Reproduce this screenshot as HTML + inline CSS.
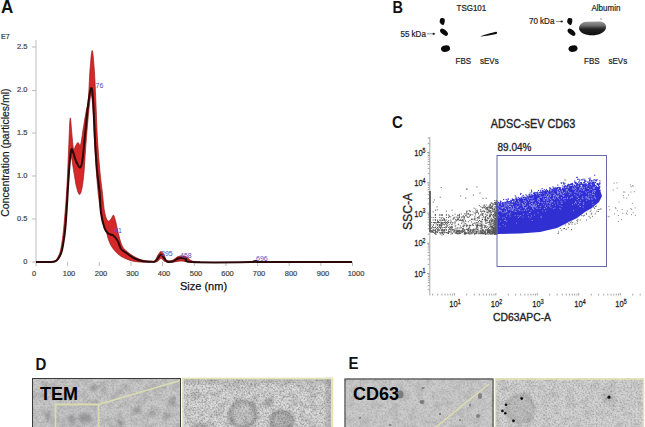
<!DOCTYPE html>
<html><head><meta charset="utf-8">
<style>
html,body{margin:0;padding:0;background:#fff;}
body{width:645px;height:427px;overflow:hidden;position:relative;font-family:"Liberation Sans",sans-serif;}
svg{position:absolute;left:0;top:0;}
text{font-family:"Liberation Sans",sans-serif;}
</style></head><body>
<svg width="645" height="427" viewBox="0 0 645 427">
<defs>
  <filter id="noise" x="0" y="0" width="100%" height="100%">
    <feTurbulence type="fractalNoise" baseFrequency="0.9" numOctaves="2" seed="3" result="n"/>
    <feColorMatrix type="matrix" values="0 0 0 0 0  0 0 0 0 0  0 0 0 0 0  0 0 0 -1.2 0.75" />
  </filter>
  <filter id="mottle" x="0" y="0" width="100%" height="100%">
    <feTurbulence type="fractalNoise" baseFrequency="0.12" numOctaves="3" seed="9"/>
    <feColorMatrix type="matrix" values="0 0 0 0 0  0 0 0 0 0  0 0 0 0 0  0 0 0 -1.5 0.9" />
  </filter>
  <filter id="blur1" x="-50%" y="-50%" width="200%" height="200%"><feGaussianBlur stdDeviation="1.5"/></filter>
  <filter id="blur05" x="-20%" y="-20%" width="140%" height="140%"><feGaussianBlur stdDeviation="0.5"/></filter>
  <filter id="speck" x="0" y="0" width="100%" height="100%">
    <feTurbulence type="fractalNoise" baseFrequency="0.55" numOctaves="2" seed="21"/>
    <feColorMatrix type="matrix" values="0 0 0 0 0.2  0 0 0 0 0.2  0 0 0 0 0.2  2.6 0 0 0 -1.05" />
  </filter>
</defs>
<!-- Panel A -->
<text transform="translate(1,12.9) scale(1.03,1.08)" font-size="16.5" font-weight="bold" fill="#111">A</text>
<text x="1" y="39" font-size="7" fill="#333" stroke="#333" stroke-width="0.2">E7</text>
<line x1="36" y1="40" x2="36" y2="262" stroke="#c8c8c8" stroke-width="1.2"/>
<g stroke="#bbb" stroke-width="1">
<line x1="32" y1="47" x2="36" y2="47"/><line x1="32" y1="90.5" x2="36" y2="90.5"/><line x1="32" y1="133" x2="36" y2="133"/><line x1="32" y1="176" x2="36" y2="176"/><line x1="32" y1="219" x2="36" y2="219"/><line x1="32" y1="262" x2="36" y2="262"/>
</g>
<g font-size="7.5" fill="#444" stroke="#444" stroke-width="0.2" text-anchor="end">
<text x="27.5" y="49">2.5</text><text x="27.5" y="92.3">2.0</text><text x="27.5" y="134.8">1.5</text><text x="27.5" y="178">1.0</text><text x="27.5" y="220.8">0.5</text><text x="27.5" y="264">0</text>
</g>
<text transform="translate(8.8,216.8) rotate(-90)" font-size="10.5" fill="#1a1a1a" stroke="#1a1a1a" stroke-width="0.2">Concentration (particles/ml)</text>
<g stroke="#bbb" stroke-width="1">
<line x1="36" y1="262" x2="36" y2="266"/><line x1="67.7" y1="262" x2="67.7" y2="266"/><line x1="99.3" y1="262" x2="99.3" y2="266"/><line x1="131" y1="262" x2="131" y2="266"/><line x1="162.6" y1="262" x2="162.6" y2="266"/><line x1="194.3" y1="262" x2="194.3" y2="266"/><line x1="225.9" y1="262" x2="225.9" y2="266"/><line x1="257.6" y1="262" x2="257.6" y2="266"/><line x1="289.2" y1="262" x2="289.2" y2="266"/><line x1="320.9" y1="262" x2="320.9" y2="266"/><line x1="352.5" y1="262" x2="352.5" y2="266"/>
</g>
<g font-size="7.5" fill="#444" stroke="#444" stroke-width="0.2" text-anchor="middle">
<text x="34" y="276">0</text><text x="69" y="276">100</text><text x="101" y="276">200</text><text x="132.5" y="276">300</text><text x="164" y="276">400</text><text x="196" y="276">500</text><text x="227.5" y="276">600</text><text x="259" y="276">700</text><text x="291" y="276">800</text><text x="323" y="276">900</text><text x="356" y="276">1000</text>
</g>
<text x="180" y="290" font-size="11" fill="#111" stroke="#111" stroke-width="0.25">Size (nm)</text>
<path d="M50.0,262.0 C50.8,261.8 53.7,261.8 55.0,261.0 C56.3,260.2 57.0,259.2 58.0,257.0 C59.0,254.8 60.0,253.3 61.0,248.0 C62.0,242.7 63.0,235.5 64.0,225.0 C65.0,214.5 66.2,199.2 67.0,185.0 C67.8,170.8 68.5,151.2 69.0,140.0 C69.5,128.8 69.8,119.3 70.2,118.0 C70.7,116.7 71.2,126.8 71.7,132.0 C72.2,137.2 72.9,146.7 73.5,149.0 C74.1,151.3 74.8,147.1 75.5,146.0 C76.2,144.9 77.2,142.7 78.0,142.5 C78.8,142.3 79.7,147.1 80.5,145.0 C81.3,142.9 82.1,135.5 83.0,130.0 C83.9,124.5 85.1,117.0 86.0,112.0 C86.9,107.0 87.6,107.0 88.3,100.0 C89.0,93.0 89.3,78.2 90.0,70.0 C90.7,61.8 91.5,50.5 92.2,50.5 C92.9,50.5 93.7,61.8 94.3,70.0 C94.9,78.2 95.3,88.3 95.8,100.0 C96.3,111.7 96.8,128.0 97.5,140.0 C98.2,152.0 99.2,163.3 100.0,172.0 C100.8,180.7 101.5,185.2 102.3,192.0 C103.1,198.8 103.8,208.2 104.8,213.0 C105.8,217.8 107.0,220.0 108.0,221.0 C109.0,222.0 110.1,220.0 111.0,219.0 C111.9,218.0 112.7,214.7 113.5,215.2 C114.3,215.7 115.0,218.9 115.8,222.0 C116.6,225.1 117.5,230.1 118.5,234.0 C119.5,237.9 120.6,242.6 122.0,245.5 C123.4,248.4 125.0,249.7 127.0,251.5 C129.0,253.3 131.5,255.1 134.0,256.5 C136.5,257.9 139.3,259.2 142.0,260.0 C144.7,260.8 147.8,261.1 150.0,261.2 C152.2,261.3 153.7,261.5 155.0,260.5 C156.3,259.5 157.0,256.5 158.0,255.0 C159.0,253.5 160.0,251.5 161.0,251.5 C162.0,251.5 163.0,253.5 164.0,255.0 C165.0,256.5 165.5,259.7 167.0,260.5 C168.5,261.3 171.3,260.6 173.0,260.0 C174.7,259.4 175.7,257.7 177.0,257.0 C178.3,256.3 179.5,256.1 181.0,256.0 C182.5,255.9 184.2,255.7 186.0,256.5 C187.8,257.3 189.7,260.1 192.0,261.0 C194.3,261.9 198.7,261.8 200.0,262.0 L200.0,262.0 C198.7,262.0 194.3,262.1 192.0,262.0 C189.7,261.9 187.8,261.7 186.0,261.5 C184.2,261.3 182.5,261.0 181.0,261.0 C179.5,261.0 178.3,261.3 177.0,261.5 C175.7,261.7 174.7,261.9 173.0,262.0 C171.3,262.1 168.5,262.2 167.0,262.0 C165.5,261.8 165.0,261.6 164.0,261.0 C163.0,260.4 162.0,258.5 161.0,258.5 C160.0,258.5 159.0,260.4 158.0,261.0 C157.0,261.6 158.2,261.8 155.0,262.0 C151.8,262.2 143.3,262.3 139.0,262.0 C134.7,261.7 132.1,261.1 128.9,260.0 C125.7,258.9 122.7,257.6 120.0,255.6 C117.3,253.7 114.7,251.0 112.8,248.3 C110.9,245.6 109.6,242.9 108.4,239.5 C107.2,236.1 106.6,231.6 105.5,228.0 C104.4,224.4 103.1,222.7 102.0,218.0 C100.9,213.3 99.8,206.3 99.0,200.0 C98.2,193.7 97.7,188.3 97.0,180.0 C96.3,171.7 95.7,161.7 95.0,150.0 C94.3,138.3 93.6,119.2 93.0,110.0 C92.4,100.8 91.9,96.0 91.3,95.0 C90.7,94.0 90.1,99.0 89.5,104.0 C88.9,109.0 88.2,117.3 87.5,125.0 C86.8,132.7 86.1,142.2 85.5,150.0 C84.9,157.8 84.6,165.7 84.0,172.0 C83.4,178.3 82.8,184.2 82.0,188.0 C81.2,191.8 80.4,194.7 79.5,194.5 C78.6,194.3 77.4,190.6 76.5,187.0 C75.6,183.4 74.8,177.5 74.0,173.0 C73.2,168.5 72.6,163.0 72.0,160.0 C71.4,157.0 70.8,155.0 70.5,155.0 C70.2,155.0 70.4,154.5 70.0,160.0 C69.6,165.5 68.7,178.0 68.0,188.0 C67.3,198.0 66.8,210.7 66.0,220.0 C65.2,229.3 64.0,238.0 63.0,244.0 C62.0,250.0 61.2,253.1 60.0,256.0 C58.8,258.9 57.7,260.5 56.0,261.5 C54.3,262.5 51.0,261.9 50.0,262.0 Z" fill="#d62828" stroke="#9a1818" stroke-width="0.7"/>
<path d="M36.0,262.0 C38.3,262.0 46.9,262.1 50.0,262.0 C53.1,261.9 53.2,262.0 54.5,261.5 C55.8,261.0 56.8,260.6 58.0,259.0 C59.2,257.4 60.6,254.8 61.5,252.0 C62.4,249.2 62.9,245.8 63.5,242.0 C64.1,238.2 64.6,235.7 65.2,229.5 C65.8,223.3 66.5,212.1 67.0,205.0 C67.5,197.9 67.5,194.7 68.0,187.0 C68.5,179.3 69.4,165.2 70.0,159.0 C70.6,152.8 71.0,150.7 71.5,149.5 C72.0,148.3 72.2,150.1 73.0,152.0 C73.8,153.9 74.8,158.4 76.0,161.0 C77.2,163.6 78.9,167.7 80.0,167.5 C81.1,167.3 81.7,165.4 82.5,160.0 C83.3,154.6 84.0,144.3 85.0,135.0 C86.0,125.7 87.2,111.8 88.2,104.0 C89.2,96.2 90.5,88.3 91.3,88.0 C92.1,87.7 92.6,93.3 93.2,102.0 C93.8,110.7 94.4,128.7 95.0,140.0 C95.6,151.3 96.2,161.3 97.0,170.0 C97.8,178.7 98.9,184.8 99.6,192.0 C100.3,199.2 100.2,207.0 101.0,213.0 C101.8,219.0 103.3,224.4 104.4,227.8 C105.5,231.2 106.3,232.0 107.8,233.3 C109.3,234.6 111.6,234.2 113.3,235.5 C115.0,236.8 116.5,238.8 117.8,241.0 C119.1,243.2 119.5,246.9 121.0,249.0 C122.5,251.1 124.7,251.8 126.7,253.3 C128.8,254.8 130.8,256.5 133.3,257.8 C135.9,259.1 138.9,260.3 142.0,261.0 C145.1,261.7 149.8,261.7 152.0,261.8 C154.2,261.9 154.0,262.1 155.0,261.5 C156.0,260.9 157.0,259.2 158.0,258.0 C159.0,256.8 160.0,254.5 161.0,254.5 C162.0,254.5 163.0,256.8 164.0,258.0 C165.0,259.2 165.5,260.9 167.0,261.5 C168.5,262.1 171.3,261.9 173.0,261.5 C174.7,261.1 175.7,259.6 177.0,259.0 C178.3,258.4 179.5,258.0 181.0,258.0 C182.5,258.0 184.2,258.3 186.0,259.0 C187.8,259.7 181.3,261.5 192.0,262.0 C202.7,262.5 239.3,262.2 250.0,262.0 C260.7,261.8 254.0,261.0 256.0,261.0 C258.0,261.0 246.0,261.8 262.0,262.0 C278.0,262.2 337.0,262.0 352.0,262.0" fill="none" stroke="#2a0808" stroke-width="2" stroke-linejoin="round"/>
<g font-size="7" fill="#5050c0">
<text x="95.5" y="87.5">76</text><text x="114" y="233">41</text><text x="161" y="255.5">395</text><text x="180" y="257.5">458</text><text x="256" y="261">696</text>
</g>

<!-- Panel B -->
<text transform="translate(392.5,12.7) scale(1,1.15)" font-size="14.5" font-weight="bold" fill="#111">B</text>
<g font-size="8" fill="#222" stroke="#222" stroke-width="0.2">
<text transform="translate(456.5,10.5) scale(1,1.12)">TSG101</text>
<text transform="translate(400.5,37) scale(1,1.12)">55 kDa</text>
<text transform="translate(455.5,63.5) scale(1,1.12)">FBS</text><text transform="translate(480,63.5) scale(1,1.12)">sEVs</text>
<text transform="translate(591.5,10.5) scale(1,1.12)">Albumin</text>
<text transform="translate(529,24) scale(1,1.12)">70 kDa</text>
<text transform="translate(584,63.5) scale(1,1.12)">FBS</text><text transform="translate(608.5,63.5) scale(1,1.12)">sEVs</text>
</g>
<g stroke="#777" stroke-width="0.8">
<line x1="427" y1="33.8" x2="432" y2="33.8"/><line x1="556" y1="21.5" x2="560.5" y2="21.5"/>
</g>
<g fill="#222"><ellipse cx="433.6" cy="33.8" rx="1.3" ry="1.1"/><ellipse cx="561.6" cy="21.5" rx="1.3" ry="1.1"/></g>
<g fill="#0a0a0a">
<path d="M440,19.5 C440.5,17.8 443,17.6 444.3,18.6 C445.2,19.8 444.8,23.5 443.5,25 C442,25.5 440.2,23.5 439.6,21.8Z"/>
<ellipse cx="444" cy="32.2" rx="4.6" ry="2.5" transform="rotate(40 444 32.2)"/>
<ellipse cx="445.5" cy="48.6" rx="4.6" ry="3.2" transform="rotate(-12 445.5 48.6)"/>
<path d="M480.5,36.2 C485,34.8 491,32.8 496,31.8 C497.5,32 497.3,33.6 496.3,34 C491,35 486,36 481,36.6Z"/>
<path d="M567.5,19.5 C568,17.8 570.5,17.6 571.8,18.6 C572.7,19.8 572.3,23.5 571,25 C569.5,25.5 567.7,23.5 567.1,21.8Z"/>
<ellipse cx="571.5" cy="32.2" rx="4.6" ry="2.5" transform="rotate(40 571.5 32.2)"/>
<ellipse cx="573" cy="48.6" rx="4.6" ry="3.2" transform="rotate(-12 573 48.6)"/>
</g>
<linearGradient id="alb" x1="0" y1="0" x2="0" y2="1"><stop offset="0" stop-color="#9a9a9a"/><stop offset="0.3" stop-color="#6a6a6a"/><stop offset="0.55" stop-color="#222"/><stop offset="1" stop-color="#0d0d0d"/></linearGradient>
<path d="M579,28.5 C579,25 581.5,22.5 586,21.8 L600,21.5 C604,21.8 606.5,24.5 606,28 C605,32.5 599,35.3 592,35.3 C585,35.3 579.5,32.5 579,28.5Z" fill="url(#alb)" filter="url(#blur05)"/>
<circle cx="601" cy="19" r="1" fill="#bbb"/>

<!-- Panel C -->
<text transform="translate(392,128.2) scale(1,1.1)" font-size="15" font-weight="bold" fill="#111">C</text>
<text x="490.8" y="127.5" font-size="12.5" fill="#222" stroke="#222" stroke-width="0.35" textLength="84.5" lengthAdjust="spacingAndGlyphs">ADSC-sEV CD63</text>
<text x="497.5" y="151" font-size="11.5" fill="#222" stroke="#222" stroke-width="0.3" textLength="34" lengthAdjust="spacingAndGlyphs">89.04%</text>
<line x1="429.8" y1="137" x2="429.8" y2="295.5" stroke="#aaa" stroke-width="1"/>
<g fill="#999"><rect x="432.2" y="293.7" width="0.9" height="1.8"/><rect x="427.7" y="288.9" width="1.8" height="0.9"/><rect x="437.3" y="293.7" width="0.9" height="1.8"/><rect x="427.7" y="285.1" width="1.8" height="0.9"/><rect x="441.4" y="293.7" width="0.9" height="1.8"/><rect x="427.7" y="282.2" width="1.8" height="0.9"/><rect x="444.6" y="293.7" width="0.9" height="1.8"/><rect x="427.7" y="279.8" width="1.8" height="0.9"/><rect x="447.4" y="293.7" width="0.9" height="1.8"/><rect x="427.7" y="277.7" width="1.8" height="0.9"/><rect x="449.8" y="293.7" width="0.9" height="1.8"/><rect x="427.7" y="276.0" width="1.8" height="0.9"/><rect x="452.0" y="293.7" width="0.9" height="1.8"/><rect x="427.7" y="274.4" width="1.8" height="0.9"/><rect x="453.9" y="293.0" width="0.9" height="2.5"/><rect x="427.0" y="273.1" width="2.5" height="0.9"/><rect x="466.3" y="293.7" width="0.9" height="1.8"/><rect x="427.7" y="263.9" width="1.8" height="0.9"/><rect x="473.7" y="293.7" width="0.9" height="1.8"/><rect x="427.7" y="258.6" width="1.8" height="0.9"/><rect x="478.8" y="293.7" width="0.9" height="1.8"/><rect x="427.7" y="254.8" width="1.8" height="0.9"/><rect x="482.9" y="293.7" width="0.9" height="1.8"/><rect x="427.7" y="251.9" width="1.8" height="0.9"/><rect x="486.1" y="293.7" width="0.9" height="1.8"/><rect x="427.7" y="249.5" width="1.8" height="0.9"/><rect x="488.9" y="293.7" width="0.9" height="1.8"/><rect x="427.7" y="247.5" width="1.8" height="0.9"/><rect x="491.3" y="293.7" width="0.9" height="1.8"/><rect x="427.7" y="245.7" width="1.8" height="0.9"/><rect x="493.5" y="293.7" width="0.9" height="1.8"/><rect x="427.7" y="244.2" width="1.8" height="0.9"/><rect x="495.4" y="293.0" width="0.9" height="2.5"/><rect x="427.0" y="242.8" width="2.5" height="0.9"/><rect x="507.8" y="293.7" width="0.9" height="1.8"/><rect x="427.7" y="233.7" width="1.8" height="0.9"/><rect x="515.2" y="293.7" width="0.9" height="1.8"/><rect x="427.7" y="228.4" width="1.8" height="0.9"/><rect x="520.3" y="293.7" width="0.9" height="1.8"/><rect x="427.7" y="224.6" width="1.8" height="0.9"/><rect x="524.4" y="293.7" width="0.9" height="1.8"/><rect x="427.7" y="221.7" width="1.8" height="0.9"/><rect x="527.6" y="293.7" width="0.9" height="1.8"/><rect x="427.7" y="219.3" width="1.8" height="0.9"/><rect x="530.4" y="293.7" width="0.9" height="1.8"/><rect x="427.7" y="217.2" width="1.8" height="0.9"/><rect x="532.8" y="293.7" width="0.9" height="1.8"/><rect x="427.7" y="215.5" width="1.8" height="0.9"/><rect x="535.0" y="293.7" width="0.9" height="1.8"/><rect x="427.7" y="213.9" width="1.8" height="0.9"/><rect x="536.8" y="293.0" width="0.9" height="2.5"/><rect x="427.0" y="212.6" width="2.5" height="0.9"/><rect x="549.3" y="293.7" width="0.9" height="1.8"/><rect x="427.7" y="203.4" width="1.8" height="0.9"/><rect x="556.7" y="293.7" width="0.9" height="1.8"/><rect x="427.7" y="198.1" width="1.8" height="0.9"/><rect x="561.8" y="293.7" width="0.9" height="1.8"/><rect x="427.7" y="194.3" width="1.8" height="0.9"/><rect x="565.9" y="293.7" width="0.9" height="1.8"/><rect x="427.7" y="191.4" width="1.8" height="0.9"/><rect x="569.1" y="293.7" width="0.9" height="1.8"/><rect x="427.7" y="189.0" width="1.8" height="0.9"/><rect x="571.9" y="293.7" width="0.9" height="1.8"/><rect x="427.7" y="187.0" width="1.8" height="0.9"/><rect x="574.3" y="293.7" width="0.9" height="1.8"/><rect x="427.7" y="185.2" width="1.8" height="0.9"/><rect x="576.5" y="293.7" width="0.9" height="1.8"/><rect x="427.7" y="183.7" width="1.8" height="0.9"/><rect x="578.3" y="293.0" width="0.9" height="2.5"/><rect x="427.0" y="182.3" width="2.5" height="0.9"/><rect x="590.8" y="293.7" width="0.9" height="1.8"/><rect x="427.7" y="173.2" width="1.8" height="0.9"/><rect x="598.2" y="293.7" width="0.9" height="1.8"/><rect x="427.7" y="167.9" width="1.8" height="0.9"/><rect x="603.3" y="293.7" width="0.9" height="1.8"/><rect x="427.7" y="164.1" width="1.8" height="0.9"/><rect x="607.4" y="293.7" width="0.9" height="1.8"/><rect x="427.7" y="161.2" width="1.8" height="0.9"/><rect x="610.6" y="293.7" width="0.9" height="1.8"/><rect x="427.7" y="158.8" width="1.8" height="0.9"/><rect x="613.4" y="293.7" width="0.9" height="1.8"/><rect x="427.7" y="156.7" width="1.8" height="0.9"/><rect x="615.8" y="293.7" width="0.9" height="1.8"/><rect x="427.7" y="155.0" width="1.8" height="0.9"/><rect x="618.0" y="293.7" width="0.9" height="1.8"/><rect x="427.7" y="153.4" width="1.8" height="0.9"/><rect x="619.8" y="293.0" width="0.9" height="2.5"/><rect x="427.0" y="152.1" width="2.5" height="0.9"/><rect x="632.3" y="293.7" width="0.9" height="1.8"/><rect x="427.7" y="142.9" width="1.8" height="0.9"/><rect x="639.7" y="293.7" width="0.9" height="1.8"/><rect x="427.7" y="137.6" width="1.8" height="0.9"/></g>
<g font-size="9.5" fill="#222" stroke="#222" stroke-width="0.25">
<text transform="translate(425.5,156) scale(0.8,1)" text-anchor="end">10<tspan font-size="6.5" dy="-3.5">5</tspan></text>
<text transform="translate(425.5,186) scale(0.8,1)" text-anchor="end">10<tspan font-size="6.5" dy="-3.5">4</tspan></text>
<text transform="translate(425.5,216.5) scale(0.8,1)" text-anchor="end">10<tspan font-size="6.5" dy="-3.5">3</tspan></text>
<text transform="translate(425.5,246) scale(0.8,1)" text-anchor="end">10<tspan font-size="6.5" dy="-3.5">2</tspan></text>
<text transform="translate(425.5,276.5) scale(0.8,1)" text-anchor="end">10<tspan font-size="6.5" dy="-3.5">1</tspan></text>
<text transform="translate(455,307) scale(0.8,1)" text-anchor="middle">10<tspan font-size="6.5" dy="-3.5">1</tspan></text>
<text transform="translate(496.5,307) scale(0.8,1)" text-anchor="middle">10<tspan font-size="6.5" dy="-3.5">2</tspan></text>
<text transform="translate(538,307) scale(0.8,1)" text-anchor="middle">10<tspan font-size="6.5" dy="-3.5">3</tspan></text>
<text transform="translate(580,307) scale(0.8,1)" text-anchor="middle">10<tspan font-size="6.5" dy="-3.5">4</tspan></text>
<text transform="translate(621,307) scale(0.8,1)" text-anchor="middle">10<tspan font-size="6.5" dy="-3.5">5</tspan></text>
</g>
<text transform="translate(411.5,230) rotate(-90)" font-size="12" fill="#222" stroke="#222" stroke-width="0.3" textLength="37" lengthAdjust="spacingAndGlyphs">SSC-A</text>
<text x="493" y="320.5" font-size="11.5" fill="#222" stroke="#222" stroke-width="0.35" textLength="58" lengthAdjust="spacingAndGlyphs">CD63APC-A</text>
<g fill="#555"><rect x="493.0" y="230.0" width="1.0" height="1.0"/><rect x="483.5" y="224.7" width="1.0" height="1.0"/><rect x="496.5" y="220.6" width="1.0" height="1.0"/><rect x="496.4" y="232.0" width="1.0" height="1.0"/><rect x="489.4" y="210.4" width="1.0" height="1.0"/><rect x="476.9" y="209.7" width="1.0" height="1.0"/><rect x="480.7" y="224.9" width="1.0" height="1.0"/><rect x="452.1" y="229.3" width="1.0" height="1.0"/><rect x="496.1" y="230.3" width="1.0" height="1.0"/><rect x="495.7" y="219.0" width="1.0" height="1.0"/><rect x="475.9" y="225.2" width="1.0" height="1.0"/><rect x="496.5" y="228.6" width="1.0" height="1.0"/><rect x="472.2" y="224.0" width="1.0" height="1.0"/><rect x="488.1" y="228.0" width="1.0" height="1.0"/><rect x="460.2" y="219.9" width="1.0" height="1.0"/><rect x="484.1" y="211.0" width="1.0" height="1.0"/><rect x="467.4" y="228.9" width="1.0" height="1.0"/><rect x="489.7" y="212.0" width="1.0" height="1.0"/><rect x="496.0" y="221.7" width="1.0" height="1.0"/><rect x="463.7" y="222.6" width="1.0" height="1.0"/><rect x="449.8" y="228.5" width="1.0" height="1.0"/><rect x="480.5" y="221.4" width="1.0" height="1.0"/><rect x="454.6" y="213.7" width="1.0" height="1.0"/><rect x="496.5" y="212.9" width="1.0" height="1.0"/><rect x="475.2" y="208.6" width="1.0" height="1.0"/><rect x="491.0" y="213.9" width="1.0" height="1.0"/><rect x="496.5" y="221.1" width="1.0" height="1.0"/><rect x="496.5" y="210.7" width="1.0" height="1.0"/><rect x="496.2" y="225.6" width="1.0" height="1.0"/><rect x="496.4" y="222.8" width="1.0" height="1.0"/><rect x="482.6" y="210.6" width="1.0" height="1.0"/><rect x="494.1" y="220.4" width="1.0" height="1.0"/><rect x="491.9" y="207.8" width="1.0" height="1.0"/><rect x="495.8" y="227.8" width="1.0" height="1.0"/><rect x="495.0" y="219.5" width="1.0" height="1.0"/><rect x="496.5" y="221.7" width="1.0" height="1.0"/><rect x="491.6" y="219.8" width="1.0" height="1.0"/><rect x="484.7" y="217.0" width="1.0" height="1.0"/><rect x="472.6" y="231.8" width="1.0" height="1.0"/><rect x="459.8" y="225.5" width="1.0" height="1.0"/><rect x="490.4" y="231.2" width="1.0" height="1.0"/><rect x="496.4" y="228.3" width="1.0" height="1.0"/><rect x="495.9" y="224.8" width="1.0" height="1.0"/><rect x="496.0" y="231.5" width="1.0" height="1.0"/><rect x="491.7" y="233.2" width="1.0" height="1.0"/><rect x="494.7" y="223.5" width="1.0" height="1.0"/><rect x="491.7" y="233.2" width="1.0" height="1.0"/><rect x="487.4" y="218.2" width="1.0" height="1.0"/><rect x="496.4" y="230.9" width="1.0" height="1.0"/><rect x="456.0" y="232.1" width="1.0" height="1.0"/><rect x="496.5" y="202.7" width="1.0" height="1.0"/><rect x="483.0" y="233.0" width="1.0" height="1.0"/><rect x="484.0" y="207.2" width="1.0" height="1.0"/><rect x="494.5" y="222.7" width="1.0" height="1.0"/><rect x="495.9" y="208.1" width="1.0" height="1.0"/><rect x="492.8" y="228.0" width="1.0" height="1.0"/><rect x="458.2" y="214.8" width="1.0" height="1.0"/><rect x="457.3" y="217.7" width="1.0" height="1.0"/><rect x="495.1" y="219.0" width="1.0" height="1.0"/><rect x="496.5" y="226.8" width="1.0" height="1.0"/><rect x="494.5" y="214.6" width="1.0" height="1.0"/><rect x="440.8" y="218.3" width="1.0" height="1.0"/><rect x="437.9" y="229.4" width="1.0" height="1.0"/><rect x="495.5" y="229.6" width="1.0" height="1.0"/><rect x="477.1" y="211.2" width="1.0" height="1.0"/><rect x="474.7" y="212.9" width="1.0" height="1.0"/><rect x="496.4" y="215.8" width="1.0" height="1.0"/><rect x="465.2" y="223.1" width="1.0" height="1.0"/><rect x="495.8" y="208.5" width="1.0" height="1.0"/><rect x="435.3" y="231.0" width="1.0" height="1.0"/><rect x="490.4" y="205.2" width="1.0" height="1.0"/><rect x="496.2" y="229.5" width="1.0" height="1.0"/><rect x="445.6" y="222.1" width="1.0" height="1.0"/><rect x="433.8" y="227.4" width="1.0" height="1.0"/><rect x="492.2" y="218.7" width="1.0" height="1.0"/><rect x="435.4" y="225.6" width="1.0" height="1.0"/><rect x="484.0" y="205.3" width="1.0" height="1.0"/><rect x="456.3" y="231.4" width="1.0" height="1.0"/><rect x="494.7" y="226.4" width="1.0" height="1.0"/><rect x="494.5" y="224.0" width="1.0" height="1.0"/><rect x="496.2" y="204.2" width="1.0" height="1.0"/><rect x="480.2" y="210.6" width="1.0" height="1.0"/><rect x="489.6" y="205.1" width="1.0" height="1.0"/><rect x="484.2" y="233.2" width="1.0" height="1.0"/><rect x="488.7" y="231.8" width="1.0" height="1.0"/><rect x="495.8" y="220.6" width="1.0" height="1.0"/><rect x="467.9" y="221.3" width="1.0" height="1.0"/><rect x="482.2" y="214.1" width="1.0" height="1.0"/><rect x="496.3" y="217.6" width="1.0" height="1.0"/><rect x="462.8" y="224.8" width="1.0" height="1.0"/><rect x="481.8" y="214.8" width="1.0" height="1.0"/><rect x="478.0" y="221.2" width="1.0" height="1.0"/><rect x="484.9" y="213.7" width="1.0" height="1.0"/><rect x="486.8" y="206.9" width="1.0" height="1.0"/><rect x="470.5" y="213.8" width="1.0" height="1.0"/><rect x="481.9" y="207.5" width="1.0" height="1.0"/><rect x="454.6" y="232.7" width="1.0" height="1.0"/><rect x="496.4" y="228.6" width="1.0" height="1.0"/><rect x="496.4" y="214.3" width="1.0" height="1.0"/><rect x="496.0" y="209.7" width="1.0" height="1.0"/><rect x="474.1" y="233.4" width="1.0" height="1.0"/><rect x="495.2" y="201.6" width="1.0" height="1.0"/><rect x="490.5" y="223.0" width="1.0" height="1.0"/><rect x="495.9" y="221.7" width="1.0" height="1.0"/><rect x="484.7" y="226.1" width="1.0" height="1.0"/><rect x="468.2" y="232.4" width="1.0" height="1.0"/><rect x="488.7" y="232.4" width="1.0" height="1.0"/><rect x="484.9" y="233.9" width="1.0" height="1.0"/><rect x="433.0" y="224.5" width="1.0" height="1.0"/><rect x="494.4" y="232.7" width="1.0" height="1.0"/><rect x="462.0" y="229.9" width="1.0" height="1.0"/><rect x="444.6" y="221.6" width="1.0" height="1.0"/><rect x="494.5" y="231.7" width="1.0" height="1.0"/><rect x="470.3" y="231.4" width="1.0" height="1.0"/><rect x="496.5" y="212.7" width="1.0" height="1.0"/><rect x="440.6" y="225.0" width="1.0" height="1.0"/><rect x="459.4" y="232.7" width="1.0" height="1.0"/><rect x="451.5" y="226.0" width="1.0" height="1.0"/><rect x="492.5" y="219.2" width="1.0" height="1.0"/><rect x="496.2" y="218.3" width="1.0" height="1.0"/><rect x="494.9" y="231.5" width="1.0" height="1.0"/><rect x="495.5" y="226.0" width="1.0" height="1.0"/><rect x="493.5" y="210.8" width="1.0" height="1.0"/><rect x="495.8" y="225.9" width="1.0" height="1.0"/><rect x="496.5" y="229.4" width="1.0" height="1.0"/><rect x="482.5" y="229.9" width="1.0" height="1.0"/><rect x="487.0" y="208.4" width="1.0" height="1.0"/><rect x="489.0" y="222.1" width="1.0" height="1.0"/><rect x="455.3" y="225.3" width="1.0" height="1.0"/><rect x="433.5" y="229.9" width="1.0" height="1.0"/><rect x="455.6" y="219.8" width="1.0" height="1.0"/><rect x="492.3" y="231.6" width="1.0" height="1.0"/><rect x="496.2" y="232.1" width="1.0" height="1.0"/><rect x="495.9" y="230.9" width="1.0" height="1.0"/><rect x="454.4" y="216.7" width="1.0" height="1.0"/><rect x="494.8" y="225.4" width="1.0" height="1.0"/><rect x="487.8" y="229.4" width="1.0" height="1.0"/><rect x="436.9" y="220.3" width="1.0" height="1.0"/><rect x="482.7" y="229.4" width="1.0" height="1.0"/><rect x="492.0" y="233.3" width="1.0" height="1.0"/><rect x="491.1" y="220.3" width="1.0" height="1.0"/><rect x="485.3" y="233.4" width="1.0" height="1.0"/><rect x="494.4" y="231.5" width="1.0" height="1.0"/><rect x="496.5" y="226.0" width="1.0" height="1.0"/><rect x="495.0" y="214.9" width="1.0" height="1.0"/><rect x="474.3" y="216.2" width="1.0" height="1.0"/><rect x="449.3" y="226.2" width="1.0" height="1.0"/><rect x="496.0" y="215.0" width="1.0" height="1.0"/><rect x="475.5" y="232.2" width="1.0" height="1.0"/><rect x="467.0" y="213.4" width="1.0" height="1.0"/><rect x="496.1" y="216.6" width="1.0" height="1.0"/><rect x="459.0" y="217.0" width="1.0" height="1.0"/><rect x="480.2" y="209.1" width="1.0" height="1.0"/><rect x="495.1" y="231.3" width="1.0" height="1.0"/><rect x="496.2" y="225.9" width="1.0" height="1.0"/><rect x="482.0" y="219.1" width="1.0" height="1.0"/><rect x="477.0" y="217.0" width="1.0" height="1.0"/><rect x="459.8" y="218.8" width="1.0" height="1.0"/><rect x="485.4" y="219.7" width="1.0" height="1.0"/><rect x="466.7" y="228.7" width="1.0" height="1.0"/><rect x="496.4" y="226.9" width="1.0" height="1.0"/><rect x="466.4" y="210.5" width="1.0" height="1.0"/><rect x="486.0" y="222.6" width="1.0" height="1.0"/><rect x="463.4" y="221.4" width="1.0" height="1.0"/><rect x="475.6" y="232.9" width="1.0" height="1.0"/><rect x="466.0" y="228.8" width="1.0" height="1.0"/><rect x="481.4" y="232.2" width="1.0" height="1.0"/><rect x="471.1" y="218.7" width="1.0" height="1.0"/><rect x="493.8" y="218.1" width="1.0" height="1.0"/><rect x="496.2" y="205.9" width="1.0" height="1.0"/><rect x="495.5" y="202.8" width="1.0" height="1.0"/><rect x="487.8" y="210.3" width="1.0" height="1.0"/><rect x="435.8" y="228.2" width="1.0" height="1.0"/><rect x="439.4" y="232.0" width="1.0" height="1.0"/><rect x="480.4" y="228.0" width="1.0" height="1.0"/><rect x="496.2" y="207.9" width="1.0" height="1.0"/><rect x="485.1" y="208.5" width="1.0" height="1.0"/><rect x="446.6" y="225.6" width="1.0" height="1.0"/><rect x="496.5" y="232.2" width="1.0" height="1.0"/><rect x="493.6" y="230.6" width="1.0" height="1.0"/><rect x="492.4" y="225.8" width="1.0" height="1.0"/><rect x="465.2" y="215.2" width="1.0" height="1.0"/><rect x="496.2" y="203.8" width="1.0" height="1.0"/><rect x="493.9" y="221.5" width="1.0" height="1.0"/><rect x="490.7" y="202.3" width="1.0" height="1.0"/><rect x="489.2" y="226.6" width="1.0" height="1.0"/><rect x="496.5" y="231.9" width="1.0" height="1.0"/><rect x="441.0" y="229.8" width="1.0" height="1.0"/><rect x="494.4" y="219.9" width="1.0" height="1.0"/><rect x="437.8" y="222.3" width="1.0" height="1.0"/><rect x="458.1" y="224.2" width="1.0" height="1.0"/><rect x="482.6" y="213.3" width="1.0" height="1.0"/><rect x="496.5" y="209.6" width="1.0" height="1.0"/><rect x="475.4" y="228.4" width="1.0" height="1.0"/><rect x="496.5" y="205.2" width="1.0" height="1.0"/><rect x="492.4" y="227.3" width="1.0" height="1.0"/><rect x="466.4" y="211.1" width="1.0" height="1.0"/><rect x="493.6" y="219.8" width="1.0" height="1.0"/><rect x="490.6" y="230.4" width="1.0" height="1.0"/><rect x="445.4" y="227.1" width="1.0" height="1.0"/><rect x="495.2" y="206.7" width="1.0" height="1.0"/><rect x="496.1" y="229.1" width="1.0" height="1.0"/><rect x="496.4" y="225.4" width="1.0" height="1.0"/><rect x="494.5" y="218.0" width="1.0" height="1.0"/><rect x="448.1" y="220.2" width="1.0" height="1.0"/><rect x="484.2" y="225.4" width="1.0" height="1.0"/><rect x="492.6" y="231.9" width="1.0" height="1.0"/><rect x="496.2" y="222.6" width="1.0" height="1.0"/><rect x="476.7" y="211.9" width="1.0" height="1.0"/><rect x="494.7" y="224.0" width="1.0" height="1.0"/><rect x="488.4" y="207.0" width="1.0" height="1.0"/><rect x="496.5" y="231.0" width="1.0" height="1.0"/><rect x="469.5" y="211.1" width="1.0" height="1.0"/><rect x="496.5" y="223.4" width="1.0" height="1.0"/><rect x="442.3" y="223.1" width="1.0" height="1.0"/><rect x="494.7" y="228.8" width="1.0" height="1.0"/><rect x="496.0" y="217.7" width="1.0" height="1.0"/><rect x="468.2" y="217.0" width="1.0" height="1.0"/><rect x="463.6" y="224.6" width="1.0" height="1.0"/><rect x="461.6" y="229.7" width="1.0" height="1.0"/><rect x="443.4" y="223.9" width="1.0" height="1.0"/><rect x="494.7" y="215.8" width="1.0" height="1.0"/><rect x="470.5" y="233.1" width="1.0" height="1.0"/><rect x="480.3" y="225.4" width="1.0" height="1.0"/><rect x="495.2" y="217.4" width="1.0" height="1.0"/><rect x="487.7" y="205.7" width="1.0" height="1.0"/><rect x="475.4" y="210.5" width="1.0" height="1.0"/><rect x="494.8" y="203.6" width="1.0" height="1.0"/><rect x="469.9" y="229.1" width="1.0" height="1.0"/><rect x="472.8" y="224.9" width="1.0" height="1.0"/><rect x="494.6" y="214.9" width="1.0" height="1.0"/><rect x="496.5" y="224.4" width="1.0" height="1.0"/><rect x="489.6" y="215.3" width="1.0" height="1.0"/><rect x="466.4" y="225.5" width="1.0" height="1.0"/><rect x="495.4" y="202.1" width="1.0" height="1.0"/><rect x="495.0" y="230.4" width="1.0" height="1.0"/><rect x="464.1" y="229.7" width="1.0" height="1.0"/><rect x="495.7" y="227.8" width="1.0" height="1.0"/><rect x="489.7" y="215.8" width="1.0" height="1.0"/><rect x="490.7" y="228.6" width="1.0" height="1.0"/><rect x="434.8" y="232.6" width="1.0" height="1.0"/><rect x="490.7" y="207.1" width="1.0" height="1.0"/><rect x="448.7" y="224.2" width="1.0" height="1.0"/><rect x="492.8" y="229.4" width="1.0" height="1.0"/><rect x="440.9" y="224.6" width="1.0" height="1.0"/><rect x="491.2" y="224.5" width="1.0" height="1.0"/><rect x="492.8" y="230.8" width="1.0" height="1.0"/><rect x="492.1" y="204.5" width="1.0" height="1.0"/><rect x="496.2" y="203.2" width="1.0" height="1.0"/><rect x="456.9" y="218.8" width="1.0" height="1.0"/><rect x="489.0" y="231.6" width="1.0" height="1.0"/><rect x="443.4" y="231.5" width="1.0" height="1.0"/><rect x="491.7" y="207.9" width="1.0" height="1.0"/><rect x="458.1" y="218.9" width="1.0" height="1.0"/><rect x="496.5" y="233.0" width="1.0" height="1.0"/><rect x="465.6" y="214.6" width="1.0" height="1.0"/><rect x="492.5" y="228.6" width="1.0" height="1.0"/><rect x="494.5" y="212.0" width="1.0" height="1.0"/><rect x="493.2" y="228.9" width="1.0" height="1.0"/><rect x="443.9" y="224.3" width="1.0" height="1.0"/><rect x="439.8" y="233.5" width="1.0" height="1.0"/><rect x="437.7" y="221.5" width="1.0" height="1.0"/><rect x="490.9" y="226.5" width="1.0" height="1.0"/><rect x="442.1" y="232.1" width="1.0" height="1.0"/><rect x="459.2" y="220.0" width="1.0" height="1.0"/><rect x="478.5" y="224.7" width="1.0" height="1.0"/><rect x="493.1" y="224.5" width="1.0" height="1.0"/><rect x="495.5" y="210.5" width="1.0" height="1.0"/><rect x="494.8" y="233.8" width="1.0" height="1.0"/><rect x="492.9" y="203.6" width="1.0" height="1.0"/><rect x="448.7" y="216.2" width="1.0" height="1.0"/><rect x="496.3" y="220.1" width="1.0" height="1.0"/><rect x="469.4" y="224.6" width="1.0" height="1.0"/><rect x="477.4" y="218.4" width="1.0" height="1.0"/><rect x="465.5" y="214.7" width="1.0" height="1.0"/><rect x="454.4" y="228.5" width="1.0" height="1.0"/><rect x="481.4" y="225.0" width="1.0" height="1.0"/><rect x="494.8" y="226.9" width="1.0" height="1.0"/><rect x="496.0" y="205.1" width="1.0" height="1.0"/><rect x="490.6" y="203.1" width="1.0" height="1.0"/><rect x="485.2" y="229.2" width="1.0" height="1.0"/><rect x="432.0" y="231.1" width="1.0" height="1.0"/><rect x="487.0" y="212.0" width="1.0" height="1.0"/><rect x="496.5" y="223.9" width="1.0" height="1.0"/><rect x="496.2" y="230.7" width="1.0" height="1.0"/><rect x="441.8" y="228.5" width="1.0" height="1.0"/><rect x="451.1" y="226.4" width="1.0" height="1.0"/><rect x="439.4" y="232.3" width="1.0" height="1.0"/><rect x="477.5" y="228.8" width="1.0" height="1.0"/><rect x="495.4" y="227.8" width="1.0" height="1.0"/><rect x="479.1" y="217.6" width="1.0" height="1.0"/><rect x="492.9" y="214.3" width="1.0" height="1.0"/><rect x="495.7" y="226.3" width="1.0" height="1.0"/><rect x="482.7" y="233.3" width="1.0" height="1.0"/><rect x="490.6" y="218.4" width="1.0" height="1.0"/><rect x="495.9" y="212.5" width="1.0" height="1.0"/><rect x="490.0" y="225.8" width="1.0" height="1.0"/><rect x="493.3" y="220.6" width="1.0" height="1.0"/><rect x="492.0" y="225.5" width="1.0" height="1.0"/><rect x="491.7" y="226.1" width="1.0" height="1.0"/><rect x="467.6" y="232.6" width="1.0" height="1.0"/><rect x="489.4" y="210.1" width="1.0" height="1.0"/><rect x="490.2" y="206.9" width="1.0" height="1.0"/><rect x="496.5" y="218.0" width="1.0" height="1.0"/><rect x="475.8" y="212.0" width="1.0" height="1.0"/><rect x="491.5" y="221.0" width="1.0" height="1.0"/><rect x="496.1" y="223.8" width="1.0" height="1.0"/><rect x="496.3" y="219.6" width="1.0" height="1.0"/><rect x="459.0" y="213.9" width="1.0" height="1.0"/><rect x="439.8" y="219.7" width="1.0" height="1.0"/><rect x="486.6" y="233.7" width="1.0" height="1.0"/><rect x="445.7" y="223.6" width="1.0" height="1.0"/><rect x="456.5" y="231.5" width="1.0" height="1.0"/><rect x="490.2" y="208.0" width="1.0" height="1.0"/><rect x="455.9" y="231.2" width="1.0" height="1.0"/><rect x="484.6" y="225.7" width="1.0" height="1.0"/><rect x="496.2" y="227.1" width="1.0" height="1.0"/><rect x="496.5" y="214.9" width="1.0" height="1.0"/><rect x="464.4" y="233.4" width="1.0" height="1.0"/><rect x="479.0" y="220.0" width="1.0" height="1.0"/><rect x="476.9" y="225.8" width="1.0" height="1.0"/><rect x="489.3" y="216.2" width="1.0" height="1.0"/><rect x="488.4" y="224.2" width="1.0" height="1.0"/><rect x="486.2" y="228.7" width="1.0" height="1.0"/><rect x="463.8" y="216.4" width="1.0" height="1.0"/><rect x="487.1" y="231.7" width="1.0" height="1.0"/><rect x="496.2" y="223.0" width="1.0" height="1.0"/><rect x="485.0" y="233.6" width="1.0" height="1.0"/><rect x="476.1" y="232.0" width="1.0" height="1.0"/><rect x="485.0" y="230.6" width="1.0" height="1.0"/><rect x="485.4" y="225.2" width="1.0" height="1.0"/><rect x="452.3" y="214.8" width="1.0" height="1.0"/><rect x="467.2" y="216.6" width="1.0" height="1.0"/><rect x="486.1" y="209.3" width="1.0" height="1.0"/><rect x="444.0" y="232.3" width="1.0" height="1.0"/><rect x="496.4" y="221.7" width="1.0" height="1.0"/><rect x="464.6" y="231.8" width="1.0" height="1.0"/><rect x="457.6" y="230.9" width="1.0" height="1.0"/><rect x="485.5" y="207.8" width="1.0" height="1.0"/><rect x="485.3" y="227.1" width="1.0" height="1.0"/><rect x="496.5" y="230.8" width="1.0" height="1.0"/><rect x="472.3" y="214.3" width="1.0" height="1.0"/><rect x="495.9" y="210.8" width="1.0" height="1.0"/><rect x="476.1" y="226.9" width="1.0" height="1.0"/><rect x="450.1" y="222.5" width="1.0" height="1.0"/><rect x="496.3" y="200.6" width="1.0" height="1.0"/><rect x="476.7" y="225.3" width="1.0" height="1.0"/><rect x="432.1" y="226.1" width="1.0" height="1.0"/><rect x="491.9" y="210.6" width="1.0" height="1.0"/><rect x="465.9" y="233.2" width="1.0" height="1.0"/><rect x="457.1" y="227.4" width="1.0" height="1.0"/><rect x="480.1" y="214.3" width="1.0" height="1.0"/><rect x="493.3" y="232.3" width="1.0" height="1.0"/><rect x="489.0" y="220.3" width="1.0" height="1.0"/><rect x="447.0" y="232.3" width="1.0" height="1.0"/><rect x="496.5" y="232.8" width="1.0" height="1.0"/><rect x="496.3" y="224.5" width="1.0" height="1.0"/><rect x="479.8" y="231.1" width="1.0" height="1.0"/><rect x="477.1" y="224.7" width="1.0" height="1.0"/><rect x="494.8" y="232.4" width="1.0" height="1.0"/><rect x="496.4" y="216.3" width="1.0" height="1.0"/><rect x="490.3" y="225.9" width="1.0" height="1.0"/><rect x="496.5" y="213.6" width="1.0" height="1.0"/><rect x="475.3" y="223.4" width="1.0" height="1.0"/><rect x="440.7" y="223.1" width="1.0" height="1.0"/><rect x="496.5" y="221.1" width="1.0" height="1.0"/><rect x="490.2" y="230.1" width="1.0" height="1.0"/><rect x="496.5" y="218.6" width="1.0" height="1.0"/><rect x="440.2" y="232.6" width="1.0" height="1.0"/><rect x="485.2" y="218.3" width="1.0" height="1.0"/><rect x="457.9" y="230.6" width="1.0" height="1.0"/><rect x="496.5" y="206.7" width="1.0" height="1.0"/><rect x="461.6" y="221.5" width="1.0" height="1.0"/><rect x="465.8" y="224.5" width="1.0" height="1.0"/><rect x="466.1" y="224.8" width="1.0" height="1.0"/><rect x="495.0" y="233.4" width="1.0" height="1.0"/><rect x="492.6" y="210.9" width="1.0" height="1.0"/><rect x="469.2" y="226.5" width="1.0" height="1.0"/><rect x="482.3" y="223.6" width="1.0" height="1.0"/><rect x="494.4" y="213.7" width="1.0" height="1.0"/><rect x="436.3" y="231.5" width="1.0" height="1.0"/><rect x="494.5" y="227.8" width="1.0" height="1.0"/><rect x="465.9" y="212.2" width="1.0" height="1.0"/><rect x="449.1" y="227.8" width="1.0" height="1.0"/><rect x="494.9" y="204.2" width="1.0" height="1.0"/><rect x="473.6" y="207.7" width="1.0" height="1.0"/><rect x="487.3" y="209.1" width="1.0" height="1.0"/><rect x="488.8" y="211.1" width="1.0" height="1.0"/><rect x="481.2" y="227.2" width="1.0" height="1.0"/><rect x="496.4" y="206.5" width="1.0" height="1.0"/><rect x="496.1" y="232.8" width="1.0" height="1.0"/><rect x="496.1" y="233.4" width="1.0" height="1.0"/><rect x="471.1" y="218.8" width="1.0" height="1.0"/><rect x="496.4" y="214.7" width="1.0" height="1.0"/><rect x="491.8" y="210.6" width="1.0" height="1.0"/><rect x="496.4" y="204.2" width="1.0" height="1.0"/><rect x="444.2" y="219.1" width="1.0" height="1.0"/><rect x="496.3" y="233.4" width="1.0" height="1.0"/><rect x="453.5" y="217.2" width="1.0" height="1.0"/><rect x="476.5" y="226.0" width="1.0" height="1.0"/><rect x="496.3" y="231.6" width="1.0" height="1.0"/><rect x="493.1" y="221.6" width="1.0" height="1.0"/><rect x="496.5" y="226.9" width="1.0" height="1.0"/><rect x="491.6" y="227.6" width="1.0" height="1.0"/><rect x="436.5" y="228.4" width="1.0" height="1.0"/><rect x="496.5" y="221.1" width="1.0" height="1.0"/><rect x="488.9" y="210.6" width="1.0" height="1.0"/><rect x="483.3" y="230.6" width="1.0" height="1.0"/><rect x="451.6" y="232.8" width="1.0" height="1.0"/><rect x="496.5" y="228.1" width="1.0" height="1.0"/><rect x="463.9" y="213.4" width="1.0" height="1.0"/><rect x="486.1" y="211.6" width="1.0" height="1.0"/><rect x="495.7" y="218.6" width="1.0" height="1.0"/><rect x="494.5" y="206.1" width="1.0" height="1.0"/><rect x="494.0" y="228.1" width="1.0" height="1.0"/><rect x="496.3" y="213.6" width="1.0" height="1.0"/><rect x="496.4" y="208.8" width="1.0" height="1.0"/><rect x="476.8" y="224.0" width="1.0" height="1.0"/><rect x="490.4" y="224.0" width="1.0" height="1.0"/><rect x="448.0" y="233.0" width="1.0" height="1.0"/><rect x="495.4" y="228.3" width="1.0" height="1.0"/><rect x="491.2" y="206.5" width="1.0" height="1.0"/><rect x="495.0" y="219.1" width="1.0" height="1.0"/><rect x="464.9" y="219.8" width="1.0" height="1.0"/><rect x="492.2" y="226.8" width="1.0" height="1.0"/><rect x="473.9" y="217.8" width="1.0" height="1.0"/><rect x="495.8" y="221.9" width="1.0" height="1.0"/><rect x="496.2" y="219.3" width="1.0" height="1.0"/><rect x="448.4" y="230.8" width="1.0" height="1.0"/><rect x="470.1" y="214.9" width="1.0" height="1.0"/><rect x="496.0" y="230.1" width="1.0" height="1.0"/><rect x="484.3" y="231.4" width="1.0" height="1.0"/><rect x="492.9" y="231.2" width="1.0" height="1.0"/><rect x="496.3" y="202.7" width="1.0" height="1.0"/><rect x="496.3" y="225.5" width="1.0" height="1.0"/><rect x="467.0" y="224.8" width="1.0" height="1.0"/><rect x="495.5" y="215.6" width="1.0" height="1.0"/><rect x="490.9" y="233.5" width="1.0" height="1.0"/><rect x="490.4" y="210.2" width="1.0" height="1.0"/><rect x="476.5" y="221.9" width="1.0" height="1.0"/><rect x="496.1" y="214.5" width="1.0" height="1.0"/><rect x="445.1" y="228.6" width="1.0" height="1.0"/><rect x="480.9" y="213.5" width="1.0" height="1.0"/><rect x="468.2" y="213.8" width="1.0" height="1.0"/><rect x="462.6" y="220.4" width="1.0" height="1.0"/><rect x="475.7" y="222.1" width="1.0" height="1.0"/><rect x="493.3" y="216.8" width="1.0" height="1.0"/><rect x="461.6" y="219.9" width="1.0" height="1.0"/><rect x="476.7" y="227.4" width="1.0" height="1.0"/><rect x="477.3" y="225.1" width="1.0" height="1.0"/><rect x="472.7" y="211.5" width="1.0" height="1.0"/><rect x="462.1" y="228.2" width="1.0" height="1.0"/><rect x="486.2" y="207.0" width="1.0" height="1.0"/><rect x="495.9" y="210.2" width="1.0" height="1.0"/><rect x="440.2" y="228.0" width="1.0" height="1.0"/><rect x="483.1" y="215.7" width="1.0" height="1.0"/><rect x="484.9" y="217.5" width="1.0" height="1.0"/><rect x="490.0" y="204.1" width="1.0" height="1.0"/><rect x="495.4" y="211.8" width="1.0" height="1.0"/><rect x="496.2" y="203.5" width="1.0" height="1.0"/><rect x="492.0" y="232.3" width="1.0" height="1.0"/><rect x="496.5" y="223.4" width="1.0" height="1.0"/><rect x="489.6" y="213.5" width="1.0" height="1.0"/><rect x="495.1" y="212.2" width="1.0" height="1.0"/><rect x="440.3" y="227.0" width="1.0" height="1.0"/><rect x="490.7" y="230.9" width="1.0" height="1.0"/><rect x="496.2" y="210.6" width="1.0" height="1.0"/><rect x="487.3" y="217.3" width="1.0" height="1.0"/><rect x="495.1" y="202.2" width="1.0" height="1.0"/><rect x="457.3" y="219.1" width="1.0" height="1.0"/><rect x="487.3" y="226.2" width="1.0" height="1.0"/><rect x="455.4" y="227.7" width="1.0" height="1.0"/><rect x="453.2" y="229.0" width="1.0" height="1.0"/><rect x="489.3" y="230.2" width="1.0" height="1.0"/><rect x="496.5" y="211.7" width="1.0" height="1.0"/><rect x="493.6" y="221.5" width="1.0" height="1.0"/><rect x="489.2" y="215.5" width="1.0" height="1.0"/><rect x="442.0" y="219.7" width="1.0" height="1.0"/><rect x="496.5" y="209.7" width="1.0" height="1.0"/><rect x="496.1" y="206.8" width="1.0" height="1.0"/><rect x="476.4" y="232.2" width="1.0" height="1.0"/><rect x="494.7" y="231.7" width="1.0" height="1.0"/><rect x="496.1" y="228.1" width="1.0" height="1.0"/><rect x="496.0" y="204.2" width="1.0" height="1.0"/><rect x="460.5" y="232.3" width="1.0" height="1.0"/><rect x="461.8" y="219.2" width="1.0" height="1.0"/><rect x="447.2" y="221.1" width="1.0" height="1.0"/><rect x="471.1" y="221.5" width="1.0" height="1.0"/><rect x="466.1" y="226.2" width="1.0" height="1.0"/><rect x="494.4" y="227.0" width="1.0" height="1.0"/><rect x="496.1" y="221.1" width="1.0" height="1.0"/><rect x="496.1" y="220.4" width="1.0" height="1.0"/><rect x="485.7" y="219.9" width="1.0" height="1.0"/><rect x="454.5" y="225.7" width="1.0" height="1.0"/><rect x="481.7" y="217.3" width="1.0" height="1.0"/><rect x="489.6" y="204.0" width="1.0" height="1.0"/><rect x="496.4" y="214.7" width="1.0" height="1.0"/><rect x="478.3" y="216.5" width="1.0" height="1.0"/><rect x="441.6" y="230.9" width="1.0" height="1.0"/><rect x="486.5" y="207.9" width="1.0" height="1.0"/><rect x="496.5" y="211.2" width="1.0" height="1.0"/><rect x="451.7" y="227.2" width="1.0" height="1.0"/><rect x="487.0" y="220.2" width="1.0" height="1.0"/><rect x="488.9" y="222.1" width="1.0" height="1.0"/><rect x="482.3" y="210.9" width="1.0" height="1.0"/><rect x="490.3" y="222.4" width="1.0" height="1.0"/><rect x="494.3" y="221.4" width="1.0" height="1.0"/><rect x="460.5" y="227.6" width="1.0" height="1.0"/><rect x="493.2" y="224.8" width="1.0" height="1.0"/><rect x="461.4" y="232.2" width="1.0" height="1.0"/><rect x="468.1" y="212.9" width="1.0" height="1.0"/><rect x="493.6" y="233.3" width="1.0" height="1.0"/><rect x="495.6" y="203.4" width="1.0" height="1.0"/><rect x="460.9" y="213.5" width="1.0" height="1.0"/><rect x="478.1" y="217.4" width="1.0" height="1.0"/><rect x="479.3" y="215.3" width="1.0" height="1.0"/><rect x="495.3" y="212.1" width="1.0" height="1.0"/><rect x="496.3" y="229.9" width="1.0" height="1.0"/><rect x="496.5" y="211.5" width="1.0" height="1.0"/><rect x="491.6" y="208.5" width="1.0" height="1.0"/><rect x="461.1" y="222.8" width="1.0" height="1.0"/><rect x="489.5" y="226.9" width="1.0" height="1.0"/><rect x="489.1" y="216.4" width="1.0" height="1.0"/><rect x="481.4" y="232.8" width="1.0" height="1.0"/><rect x="496.2" y="206.3" width="1.0" height="1.0"/><rect x="488.4" y="232.1" width="1.0" height="1.0"/><rect x="490.9" y="220.5" width="1.0" height="1.0"/><rect x="486.9" y="222.2" width="1.0" height="1.0"/><rect x="496.3" y="214.8" width="1.0" height="1.0"/><rect x="496.5" y="232.1" width="1.0" height="1.0"/><rect x="496.2" y="204.9" width="1.0" height="1.0"/><rect x="496.2" y="232.1" width="1.0" height="1.0"/><rect x="494.8" y="211.9" width="1.0" height="1.0"/><rect x="462.6" y="219.4" width="1.0" height="1.0"/><rect x="452.5" y="222.2" width="1.0" height="1.0"/><rect x="469.5" y="225.0" width="1.0" height="1.0"/><rect x="441.5" y="232.4" width="1.0" height="1.0"/><rect x="496.5" y="232.9" width="1.0" height="1.0"/><rect x="474.9" y="214.4" width="1.0" height="1.0"/><rect x="467.4" y="231.3" width="1.0" height="1.0"/><rect x="451.8" y="226.8" width="1.0" height="1.0"/><rect x="480.8" y="223.8" width="1.0" height="1.0"/><rect x="472.6" y="231.4" width="1.0" height="1.0"/><rect x="475.4" y="217.7" width="1.0" height="1.0"/><rect x="489.7" y="224.6" width="1.0" height="1.0"/><rect x="461.4" y="219.9" width="1.0" height="1.0"/><rect x="493.8" y="231.8" width="1.0" height="1.0"/><rect x="492.7" y="216.3" width="1.0" height="1.0"/><rect x="434.3" y="222.1" width="1.0" height="1.0"/><rect x="489.2" y="207.1" width="1.0" height="1.0"/><rect x="491.3" y="212.1" width="1.0" height="1.0"/><rect x="458.6" y="227.5" width="1.0" height="1.0"/><rect x="496.5" y="225.6" width="1.0" height="1.0"/><rect x="457.6" y="216.7" width="1.0" height="1.0"/><rect x="496.5" y="208.7" width="1.0" height="1.0"/><rect x="481.1" y="225.5" width="1.0" height="1.0"/><rect x="453.1" y="217.9" width="1.0" height="1.0"/><rect x="492.3" y="229.5" width="1.0" height="1.0"/><rect x="482.3" y="213.0" width="1.0" height="1.0"/><rect x="441.6" y="232.7" width="1.0" height="1.0"/><rect x="478.5" y="216.1" width="1.0" height="1.0"/><rect x="494.6" y="211.4" width="1.0" height="1.0"/><rect x="460.5" y="227.0" width="1.0" height="1.0"/><rect x="462.8" y="230.8" width="1.0" height="1.0"/><rect x="480.5" y="210.8" width="1.0" height="1.0"/><rect x="486.9" y="217.1" width="1.0" height="1.0"/><rect x="495.6" y="229.9" width="1.0" height="1.0"/><rect x="491.8" y="219.8" width="1.0" height="1.0"/><rect x="490.3" y="220.1" width="1.0" height="1.0"/><rect x="431.0" y="230.1" width="1.0" height="1.0"/><rect x="496.3" y="215.2" width="1.0" height="1.0"/><rect x="479.2" y="225.4" width="1.0" height="1.0"/><rect x="484.5" y="231.8" width="1.0" height="1.0"/><rect x="486.4" y="219.6" width="1.0" height="1.0"/><rect x="494.5" y="207.6" width="1.0" height="1.0"/><rect x="463.4" y="217.5" width="1.0" height="1.0"/><rect x="436.6" y="231.6" width="1.0" height="1.0"/><rect x="495.7" y="232.1" width="1.0" height="1.0"/><rect x="496.5" y="218.5" width="1.0" height="1.0"/><rect x="439.2" y="219.5" width="1.0" height="1.0"/><rect x="496.4" y="215.8" width="1.0" height="1.0"/><rect x="437.3" y="231.1" width="1.0" height="1.0"/><rect x="481.6" y="219.1" width="1.0" height="1.0"/><rect x="490.7" y="221.5" width="1.0" height="1.0"/><rect x="495.9" y="203.8" width="1.0" height="1.0"/><rect x="496.5" y="227.2" width="1.0" height="1.0"/><rect x="492.1" y="208.3" width="1.0" height="1.0"/><rect x="496.5" y="208.2" width="1.0" height="1.0"/><rect x="469.4" y="219.8" width="1.0" height="1.0"/><rect x="496.1" y="210.7" width="1.0" height="1.0"/><rect x="440.4" y="223.6" width="1.0" height="1.0"/><rect x="464.4" y="233.5" width="1.0" height="1.0"/><rect x="493.0" y="228.4" width="1.0" height="1.0"/><rect x="495.9" y="228.8" width="1.0" height="1.0"/><rect x="496.1" y="215.4" width="1.0" height="1.0"/><rect x="495.6" y="233.1" width="1.0" height="1.0"/><rect x="442.2" y="233.2" width="1.0" height="1.0"/><rect x="447.9" y="230.9" width="1.0" height="1.0"/><rect x="488.4" y="233.8" width="1.0" height="1.0"/><rect x="476.8" y="222.5" width="1.0" height="1.0"/><rect x="492.5" y="207.5" width="1.0" height="1.0"/><rect x="496.1" y="228.5" width="1.0" height="1.0"/><rect x="496.5" y="211.5" width="1.0" height="1.0"/><rect x="450.4" y="229.6" width="1.0" height="1.0"/><rect x="489.9" y="230.0" width="1.0" height="1.0"/><rect x="492.7" y="232.2" width="1.0" height="1.0"/><rect x="486.1" y="226.7" width="1.0" height="1.0"/><rect x="434.1" y="232.7" width="1.0" height="1.0"/><rect x="447.0" y="223.3" width="1.0" height="1.0"/><rect x="493.9" y="228.7" width="1.0" height="1.0"/><rect x="495.5" y="228.3" width="1.0" height="1.0"/><rect x="442.6" y="232.3" width="1.0" height="1.0"/><rect x="493.9" y="207.9" width="1.0" height="1.0"/><rect x="493.8" y="203.8" width="1.0" height="1.0"/><rect x="496.5" y="208.4" width="1.0" height="1.0"/><rect x="496.5" y="208.4" width="1.0" height="1.0"/><rect x="484.0" y="227.3" width="1.0" height="1.0"/><rect x="495.2" y="218.4" width="1.0" height="1.0"/><rect x="496.1" y="229.7" width="1.0" height="1.0"/><rect x="495.5" y="230.1" width="1.0" height="1.0"/><rect x="496.4" y="214.9" width="1.0" height="1.0"/><rect x="495.4" y="215.9" width="1.0" height="1.0"/><rect x="469.6" y="214.2" width="1.0" height="1.0"/><rect x="496.4" y="211.1" width="1.0" height="1.0"/><rect x="490.1" y="215.2" width="1.0" height="1.0"/><rect x="492.7" y="209.2" width="1.0" height="1.0"/><rect x="451.3" y="228.3" width="1.0" height="1.0"/><rect x="486.9" y="209.1" width="1.0" height="1.0"/><rect x="494.4" y="229.9" width="1.0" height="1.0"/><rect x="495.9" y="222.8" width="1.0" height="1.0"/><rect x="479.4" y="232.2" width="1.0" height="1.0"/><rect x="484.7" y="231.1" width="1.0" height="1.0"/><rect x="469.0" y="215.7" width="1.0" height="1.0"/><rect x="469.3" y="225.2" width="1.0" height="1.0"/><rect x="465.1" y="232.5" width="1.0" height="1.0"/><rect x="484.8" y="218.1" width="1.0" height="1.0"/><rect x="483.4" y="233.1" width="1.0" height="1.0"/><rect x="496.3" y="227.3" width="1.0" height="1.0"/><rect x="457.5" y="233.1" width="1.0" height="1.0"/><rect x="496.5" y="217.2" width="1.0" height="1.0"/><rect x="480.7" y="220.8" width="1.0" height="1.0"/><rect x="450.6" y="220.8" width="1.0" height="1.0"/><rect x="496.5" y="229.5" width="1.0" height="1.0"/><rect x="494.1" y="231.1" width="1.0" height="1.0"/><rect x="490.2" y="228.7" width="1.0" height="1.0"/><rect x="496.0" y="215.9" width="1.0" height="1.0"/><rect x="465.6" y="232.2" width="1.0" height="1.0"/><rect x="490.8" y="220.3" width="1.0" height="1.0"/><rect x="454.6" y="222.3" width="1.0" height="1.0"/><rect x="462.3" y="229.3" width="1.0" height="1.0"/><rect x="494.9" y="221.9" width="1.0" height="1.0"/><rect x="459.0" y="216.3" width="1.0" height="1.0"/><rect x="457.7" y="218.3" width="1.0" height="1.0"/><rect x="437.5" y="221.0" width="1.0" height="1.0"/><rect x="494.7" y="221.6" width="1.0" height="1.0"/><rect x="483.8" y="231.5" width="1.0" height="1.0"/><rect x="489.0" y="221.1" width="1.0" height="1.0"/><rect x="435.6" y="223.6" width="1.0" height="1.0"/><rect x="440.8" y="225.7" width="1.0" height="1.0"/><rect x="448.5" y="230.9" width="1.0" height="1.0"/><rect x="475.7" y="227.8" width="1.0" height="1.0"/><rect x="483.1" y="207.2" width="1.0" height="1.0"/><rect x="477.4" y="227.3" width="1.0" height="1.0"/><rect x="438.6" y="230.1" width="1.0" height="1.0"/><rect x="493.5" y="216.2" width="1.0" height="1.0"/><rect x="437.8" y="228.2" width="1.0" height="1.0"/><rect x="494.3" y="220.3" width="1.0" height="1.0"/><rect x="496.2" y="230.6" width="1.0" height="1.0"/><rect x="493.8" y="222.7" width="1.0" height="1.0"/><rect x="496.4" y="218.9" width="1.0" height="1.0"/><rect x="454.6" y="221.3" width="1.0" height="1.0"/><rect x="495.5" y="211.7" width="1.0" height="1.0"/><rect x="487.7" y="218.2" width="1.0" height="1.0"/><rect x="493.3" y="227.0" width="1.0" height="1.0"/><rect x="495.2" y="218.1" width="1.0" height="1.0"/><rect x="496.5" y="225.4" width="1.0" height="1.0"/><rect x="451.7" y="228.9" width="1.0" height="1.0"/><rect x="494.0" y="202.2" width="1.0" height="1.0"/><rect x="493.7" y="210.9" width="1.0" height="1.0"/><rect x="450.4" y="227.1" width="1.0" height="1.0"/><rect x="496.5" y="221.4" width="1.0" height="1.0"/><rect x="496.3" y="228.9" width="1.0" height="1.0"/><rect x="437.3" y="224.3" width="1.0" height="1.0"/><rect x="492.1" y="215.2" width="1.0" height="1.0"/><rect x="477.8" y="212.5" width="1.0" height="1.0"/><rect x="466.5" y="216.2" width="1.0" height="1.0"/><rect x="464.2" y="224.8" width="1.0" height="1.0"/><rect x="444.2" y="230.3" width="1.0" height="1.0"/><rect x="450.4" y="233.6" width="1.0" height="1.0"/><rect x="485.7" y="204.5" width="1.0" height="1.0"/><rect x="481.1" y="224.4" width="1.0" height="1.0"/><rect x="478.5" y="222.8" width="1.0" height="1.0"/><rect x="488.1" y="221.8" width="1.0" height="1.0"/><rect x="490.8" y="217.6" width="1.0" height="1.0"/><rect x="491.0" y="226.3" width="1.0" height="1.0"/><rect x="485.6" y="220.4" width="1.0" height="1.0"/><rect x="495.7" y="226.9" width="1.0" height="1.0"/><rect x="480.4" y="233.3" width="1.0" height="1.0"/><rect x="443.3" y="230.7" width="1.0" height="1.0"/><rect x="437.3" y="229.5" width="1.0" height="1.0"/><rect x="489.3" y="207.2" width="1.0" height="1.0"/><rect x="481.5" y="221.6" width="1.0" height="1.0"/><rect x="443.3" y="217.7" width="1.0" height="1.0"/><rect x="484.6" y="219.6" width="1.0" height="1.0"/><rect x="471.8" y="224.6" width="1.0" height="1.0"/><rect x="492.2" y="206.0" width="1.0" height="1.0"/><rect x="472.6" y="223.0" width="1.0" height="1.0"/><rect x="490.4" y="219.1" width="1.0" height="1.0"/><rect x="480.9" y="211.5" width="1.0" height="1.0"/><rect x="488.7" y="216.3" width="1.0" height="1.0"/><rect x="431.2" y="227.9" width="1.0" height="1.0"/><rect x="495.8" y="225.0" width="1.0" height="1.0"/><rect x="434.1" y="222.5" width="1.0" height="1.0"/><rect x="447.1" y="222.5" width="1.0" height="1.0"/><rect x="457.0" y="214.7" width="1.0" height="1.0"/><rect x="496.0" y="225.5" width="1.0" height="1.0"/><rect x="484.9" y="221.2" width="1.0" height="1.0"/><rect x="476.6" y="220.0" width="1.0" height="1.0"/><rect x="492.1" y="202.8" width="1.0" height="1.0"/><rect x="489.9" y="210.7" width="1.0" height="1.0"/><rect x="493.4" y="214.6" width="1.0" height="1.0"/><rect x="454.3" y="223.4" width="1.0" height="1.0"/><rect x="473.4" y="228.4" width="1.0" height="1.0"/><rect x="494.4" y="214.9" width="1.0" height="1.0"/><rect x="483.7" y="204.4" width="1.0" height="1.0"/><rect x="496.2" y="229.5" width="1.0" height="1.0"/><rect x="464.2" y="232.6" width="1.0" height="1.0"/><rect x="484.3" y="211.5" width="1.0" height="1.0"/><rect x="478.0" y="213.3" width="1.0" height="1.0"/><rect x="463.0" y="227.9" width="1.0" height="1.0"/><rect x="468.9" y="227.2" width="1.0" height="1.0"/><rect x="496.3" y="206.0" width="1.0" height="1.0"/><rect x="480.3" y="224.7" width="1.0" height="1.0"/><rect x="496.5" y="206.0" width="1.0" height="1.0"/><rect x="480.3" y="206.2" width="1.0" height="1.0"/><rect x="494.7" y="233.4" width="1.0" height="1.0"/><rect x="441.7" y="219.7" width="1.0" height="1.0"/><rect x="457.6" y="231.0" width="1.0" height="1.0"/><rect x="478.8" y="205.2" width="1.0" height="1.0"/><rect x="494.8" y="223.4" width="1.0" height="1.0"/><rect x="468.6" y="228.8" width="1.0" height="1.0"/><rect x="486.5" y="213.9" width="1.0" height="1.0"/><rect x="494.8" y="229.2" width="1.0" height="1.0"/><rect x="435.3" y="231.0" width="1.0" height="1.0"/><rect x="481.8" y="230.3" width="1.0" height="1.0"/><rect x="490.3" y="232.1" width="1.0" height="1.0"/><rect x="496.2" y="207.6" width="1.0" height="1.0"/><rect x="495.6" y="227.2" width="1.0" height="1.0"/><rect x="494.9" y="232.4" width="1.0" height="1.0"/><rect x="496.0" y="211.6" width="1.0" height="1.0"/><rect x="496.4" y="227.2" width="1.0" height="1.0"/><rect x="488.5" y="209.1" width="1.0" height="1.0"/><rect x="459.0" y="230.1" width="1.0" height="1.0"/><rect x="491.3" y="206.1" width="1.0" height="1.0"/><rect x="495.4" y="202.8" width="1.0" height="1.0"/><rect x="488.1" y="230.9" width="1.0" height="1.0"/><rect x="469.8" y="230.0" width="1.0" height="1.0"/><rect x="491.6" y="226.9" width="1.0" height="1.0"/><rect x="478.4" y="229.8" width="1.0" height="1.0"/><rect x="484.9" y="219.4" width="1.0" height="1.0"/><rect x="494.3" y="209.2" width="1.0" height="1.0"/><rect x="481.4" y="227.9" width="1.0" height="1.0"/><rect x="490.8" y="232.9" width="1.0" height="1.0"/><rect x="493.1" y="216.7" width="1.0" height="1.0"/><rect x="496.3" y="216.6" width="1.0" height="1.0"/><rect x="493.7" y="233.4" width="1.0" height="1.0"/><rect x="493.3" y="229.6" width="1.0" height="1.0"/><rect x="494.0" y="224.3" width="1.0" height="1.0"/><rect x="445.0" y="223.2" width="1.0" height="1.0"/><rect x="496.2" y="225.1" width="1.0" height="1.0"/><rect x="496.5" y="212.8" width="1.0" height="1.0"/><rect x="489.9" y="214.4" width="1.0" height="1.0"/><rect x="470.5" y="229.6" width="1.0" height="1.0"/><rect x="476.7" y="229.2" width="1.0" height="1.0"/><rect x="496.3" y="204.7" width="1.0" height="1.0"/><rect x="496.5" y="230.9" width="1.0" height="1.0"/><rect x="495.9" y="228.6" width="1.0" height="1.0"/><rect x="496.5" y="226.7" width="1.0" height="1.0"/><rect x="476.0" y="231.0" width="1.0" height="1.0"/><rect x="468.7" y="227.6" width="1.0" height="1.0"/><rect x="488.9" y="214.6" width="1.0" height="1.0"/><rect x="455.3" y="219.1" width="1.0" height="1.0"/><rect x="493.9" y="233.8" width="1.0" height="1.0"/><rect x="496.5" y="226.3" width="1.0" height="1.0"/><rect x="496.3" y="210.0" width="1.0" height="1.0"/><rect x="465.3" y="232.1" width="1.0" height="1.0"/><rect x="490.7" y="212.6" width="1.0" height="1.0"/><rect x="496.4" y="202.7" width="1.0" height="1.0"/><rect x="489.4" y="205.4" width="1.0" height="1.0"/><rect x="455.8" y="220.4" width="1.0" height="1.0"/><rect x="488.1" y="232.2" width="1.0" height="1.0"/><rect x="484.9" y="206.2" width="1.0" height="1.0"/><rect x="496.2" y="212.3" width="1.0" height="1.0"/><rect x="458.9" y="229.9" width="1.0" height="1.0"/><rect x="482.8" y="205.7" width="1.0" height="1.0"/><rect x="494.7" y="231.3" width="1.0" height="1.0"/><rect x="491.9" y="223.3" width="1.0" height="1.0"/><rect x="496.1" y="213.5" width="1.0" height="1.0"/><rect x="473.2" y="229.1" width="1.0" height="1.0"/><rect x="488.5" y="207.6" width="1.0" height="1.0"/><rect x="492.1" y="226.8" width="1.0" height="1.0"/><rect x="481.7" y="225.7" width="1.0" height="1.0"/><rect x="457.7" y="223.7" width="1.0" height="1.0"/><rect x="473.5" y="219.2" width="1.0" height="1.0"/><rect x="487.7" y="212.5" width="1.0" height="1.0"/><rect x="493.9" y="223.8" width="1.0" height="1.0"/><rect x="495.4" y="232.3" width="1.0" height="1.0"/><rect x="470.2" y="225.1" width="1.0" height="1.0"/><rect x="496.3" y="224.1" width="1.0" height="1.0"/><rect x="495.9" y="232.4" width="1.0" height="1.0"/><rect x="496.5" y="201.8" width="1.0" height="1.0"/><rect x="468.7" y="210.0" width="1.0" height="1.0"/><rect x="481.6" y="230.3" width="1.0" height="1.0"/><rect x="495.6" y="218.3" width="1.0" height="1.0"/><rect x="496.5" y="203.5" width="1.0" height="1.0"/><rect x="441.0" y="223.1" width="1.0" height="1.0"/><rect x="494.7" y="227.8" width="1.0" height="1.0"/><rect x="462.5" y="216.1" width="1.0" height="1.0"/><rect x="493.7" y="227.9" width="1.0" height="1.0"/><rect x="442.4" y="229.9" width="1.0" height="1.0"/><rect x="461.4" y="216.4" width="1.0" height="1.0"/><rect x="495.7" y="207.2" width="1.0" height="1.0"/><rect x="493.1" y="223.1" width="1.0" height="1.0"/><rect x="455.7" y="229.6" width="1.0" height="1.0"/><rect x="496.5" y="215.8" width="1.0" height="1.0"/><rect x="469.8" y="210.7" width="1.0" height="1.0"/><rect x="439.5" y="226.5" width="1.0" height="1.0"/><rect x="493.6" y="217.3" width="1.0" height="1.0"/><rect x="496.4" y="213.8" width="1.0" height="1.0"/><rect x="435.6" y="233.9" width="1.0" height="1.0"/><rect x="496.5" y="222.3" width="1.0" height="1.0"/><rect x="496.5" y="209.3" width="1.0" height="1.0"/><rect x="452.5" y="218.6" width="1.0" height="1.0"/><rect x="474.0" y="222.6" width="1.0" height="1.0"/><rect x="489.5" y="223.7" width="1.0" height="1.0"/><rect x="456.3" y="216.6" width="1.0" height="1.0"/><rect x="495.9" y="224.7" width="1.0" height="1.0"/><rect x="492.3" y="229.7" width="1.0" height="1.0"/><rect x="496.4" y="222.1" width="1.0" height="1.0"/><rect x="445.0" y="220.5" width="1.0" height="1.0"/><rect x="434.8" y="219.2" width="1.0" height="1.0"/><rect x="496.5" y="212.0" width="1.0" height="1.0"/><rect x="478.3" y="224.7" width="1.0" height="1.0"/><rect x="486.7" y="215.0" width="1.0" height="1.0"/><rect x="493.6" y="225.1" width="1.0" height="1.0"/><rect x="495.6" y="213.4" width="1.0" height="1.0"/><rect x="488.3" y="231.3" width="1.0" height="1.0"/><rect x="480.4" y="223.0" width="1.0" height="1.0"/><rect x="483.8" y="218.8" width="1.0" height="1.0"/><rect x="495.7" y="206.2" width="1.0" height="1.0"/><rect x="482.7" y="232.1" width="1.0" height="1.0"/><rect x="496.4" y="217.9" width="1.0" height="1.0"/><rect x="494.7" y="219.4" width="1.0" height="1.0"/><rect x="481.0" y="231.2" width="1.0" height="1.0"/><rect x="484.9" y="219.5" width="1.0" height="1.0"/><rect x="496.4" y="222.2" width="1.0" height="1.0"/><rect x="451.4" y="224.1" width="1.0" height="1.0"/><rect x="496.3" y="200.0" width="1.0" height="1.0"/><rect x="468.2" y="232.6" width="1.0" height="1.0"/><rect x="495.8" y="202.2" width="1.0" height="1.0"/><rect x="481.7" y="214.6" width="1.0" height="1.0"/><rect x="496.5" y="229.4" width="1.0" height="1.0"/><rect x="491.4" y="232.6" width="1.0" height="1.0"/><rect x="493.6" y="212.5" width="1.0" height="1.0"/><rect x="489.3" y="205.9" width="1.0" height="1.0"/><rect x="481.7" y="207.0" width="1.0" height="1.0"/><rect x="450.4" y="231.3" width="1.0" height="1.0"/><rect x="463.8" y="218.5" width="1.0" height="1.0"/><rect x="456.4" y="230.5" width="1.0" height="1.0"/><rect x="439.1" y="225.0" width="1.0" height="1.0"/><rect x="496.5" y="217.3" width="1.0" height="1.0"/><rect x="459.2" y="232.9" width="1.0" height="1.0"/><rect x="442.6" y="223.7" width="1.0" height="1.0"/><rect x="488.4" y="210.4" width="1.0" height="1.0"/><rect x="480.4" y="232.1" width="1.0" height="1.0"/><rect x="459.5" y="230.8" width="1.0" height="1.0"/><rect x="482.3" y="226.8" width="1.0" height="1.0"/><rect x="496.1" y="205.2" width="1.0" height="1.0"/><rect x="483.3" y="216.6" width="1.0" height="1.0"/><rect x="496.5" y="221.9" width="1.0" height="1.0"/><rect x="496.0" y="221.1" width="1.0" height="1.0"/><rect x="496.5" y="227.8" width="1.0" height="1.0"/><rect x="457.3" y="219.8" width="1.0" height="1.0"/><rect x="496.0" y="208.3" width="1.0" height="1.0"/><rect x="490.7" y="207.4" width="1.0" height="1.0"/><rect x="492.8" y="228.3" width="1.0" height="1.0"/><rect x="447.2" y="225.2" width="1.0" height="1.0"/><rect x="491.8" y="221.4" width="1.0" height="1.0"/><rect x="480.7" y="224.7" width="1.0" height="1.0"/><rect x="480.5" y="226.3" width="1.0" height="1.0"/><rect x="496.5" y="221.3" width="1.0" height="1.0"/><rect x="496.1" y="213.7" width="1.0" height="1.0"/><rect x="494.2" y="226.0" width="1.0" height="1.0"/><rect x="481.3" y="220.8" width="1.0" height="1.0"/><rect x="437.6" y="221.0" width="1.0" height="1.0"/><rect x="462.9" y="215.3" width="1.0" height="1.0"/><rect x="462.6" y="220.2" width="1.0" height="1.0"/><rect x="494.1" y="208.9" width="1.0" height="1.0"/><rect x="450.2" y="216.4" width="1.0" height="1.0"/><rect x="463.8" y="217.2" width="1.0" height="1.0"/><rect x="485.1" y="216.0" width="1.0" height="1.0"/><rect x="490.2" y="233.7" width="1.0" height="1.0"/><rect x="492.6" y="226.9" width="1.0" height="1.0"/><rect x="491.6" y="227.8" width="1.0" height="1.0"/><rect x="495.0" y="224.7" width="1.0" height="1.0"/><rect x="450.4" y="226.6" width="1.0" height="1.0"/><rect x="488.4" y="218.2" width="1.0" height="1.0"/><rect x="496.4" y="226.6" width="1.0" height="1.0"/><rect x="493.4" y="209.6" width="1.0" height="1.0"/><rect x="492.5" y="204.7" width="1.0" height="1.0"/><rect x="480.2" y="232.9" width="1.0" height="1.0"/><rect x="432.6" y="231.3" width="1.0" height="1.0"/><rect x="462.5" y="226.0" width="1.0" height="1.0"/><rect x="486.5" y="207.7" width="1.0" height="1.0"/><rect x="494.2" y="228.1" width="1.0" height="1.0"/><rect x="494.3" y="213.0" width="1.0" height="1.0"/><rect x="495.2" y="223.5" width="1.0" height="1.0"/><rect x="451.4" y="224.2" width="1.0" height="1.0"/><rect x="495.5" y="213.2" width="1.0" height="1.0"/><rect x="496.4" y="208.3" width="1.0" height="1.0"/><rect x="449.8" y="229.1" width="1.0" height="1.0"/><rect x="483.4" y="210.2" width="1.0" height="1.0"/><rect x="475.8" y="210.4" width="1.0" height="1.0"/><rect x="465.3" y="221.1" width="1.0" height="1.0"/><rect x="490.2" y="214.4" width="1.0" height="1.0"/><rect x="489.8" y="233.1" width="1.0" height="1.0"/><rect x="476.9" y="224.9" width="1.0" height="1.0"/><rect x="494.6" y="221.1" width="1.0" height="1.0"/><rect x="496.5" y="201.1" width="1.0" height="1.0"/><rect x="496.5" y="214.3" width="1.0" height="1.0"/><rect x="468.0" y="227.9" width="1.0" height="1.0"/><rect x="496.1" y="210.7" width="1.0" height="1.0"/><rect x="496.4" y="207.2" width="1.0" height="1.0"/><rect x="479.9" y="220.9" width="1.0" height="1.0"/><rect x="474.3" y="218.8" width="1.0" height="1.0"/><rect x="494.6" y="214.3" width="1.0" height="1.0"/><rect x="463.8" y="216.5" width="1.0" height="1.0"/><rect x="434.3" y="230.3" width="1.0" height="1.0"/><rect x="494.1" y="219.7" width="1.0" height="1.0"/><rect x="496.5" y="220.1" width="1.0" height="1.0"/><rect x="474.5" y="212.5" width="1.0" height="1.0"/><rect x="495.1" y="213.7" width="1.0" height="1.0"/><rect x="496.4" y="233.3" width="1.0" height="1.0"/><rect x="485.5" y="219.7" width="1.0" height="1.0"/><rect x="495.7" y="203.6" width="1.0" height="1.0"/><rect x="495.8" y="212.0" width="1.0" height="1.0"/><rect x="443.1" y="233.8" width="1.0" height="1.0"/><rect x="494.8" y="203.0" width="1.0" height="1.0"/><rect x="485.7" y="215.6" width="1.0" height="1.0"/><rect x="487.7" y="227.7" width="1.0" height="1.0"/><rect x="445.8" y="232.3" width="1.0" height="1.0"/><rect x="475.4" y="224.5" width="1.0" height="1.0"/><rect x="451.4" y="231.7" width="1.0" height="1.0"/><rect x="443.5" y="218.1" width="1.0" height="1.0"/><rect x="476.9" y="229.2" width="1.0" height="1.0"/><rect x="489.0" y="229.3" width="1.0" height="1.0"/><rect x="495.5" y="210.1" width="1.0" height="1.0"/><rect x="431.5" y="230.7" width="1.0" height="1.0"/><rect x="481.2" y="232.1" width="1.0" height="1.0"/><rect x="494.4" y="209.4" width="1.0" height="1.0"/><rect x="456.7" y="228.4" width="1.0" height="1.0"/><rect x="447.6" y="232.8" width="1.0" height="1.0"/><rect x="472.0" y="218.7" width="1.0" height="1.0"/><rect x="448.8" y="231.3" width="1.0" height="1.0"/><rect x="448.7" y="228.8" width="1.0" height="1.0"/><rect x="495.7" y="204.5" width="1.0" height="1.0"/><rect x="431.4" y="231.2" width="1.0" height="1.0"/><rect x="434.8" y="233.5" width="1.0" height="1.0"/><rect x="444.6" y="231.8" width="1.0" height="1.0"/><rect x="495.9" y="212.8" width="1.0" height="1.0"/><rect x="496.4" y="226.4" width="1.0" height="1.0"/><rect x="448.9" y="215.4" width="1.0" height="1.0"/><rect x="496.5" y="228.4" width="1.0" height="1.0"/><rect x="496.5" y="217.6" width="1.0" height="1.0"/><rect x="495.0" y="222.2" width="1.0" height="1.0"/><rect x="432.1" y="230.5" width="1.0" height="1.0"/><rect x="449.4" y="231.5" width="1.0" height="1.0"/><rect x="489.2" y="229.8" width="1.0" height="1.0"/><rect x="471.8" y="230.9" width="1.0" height="1.0"/><rect x="496.3" y="222.9" width="1.0" height="1.0"/><rect x="485.8" y="207.0" width="1.0" height="1.0"/><rect x="435.9" y="222.4" width="1.0" height="1.0"/><rect x="467.2" y="229.0" width="1.0" height="1.0"/><rect x="496.4" y="233.6" width="1.0" height="1.0"/><rect x="485.1" y="222.7" width="1.0" height="1.0"/><rect x="496.5" y="212.7" width="1.0" height="1.0"/><rect x="474.7" y="219.5" width="1.0" height="1.0"/><rect x="433.5" y="222.0" width="1.0" height="1.0"/><rect x="468.6" y="225.2" width="1.0" height="1.0"/><rect x="435.0" y="230.4" width="1.0" height="1.0"/><rect x="491.0" y="225.8" width="1.0" height="1.0"/><rect x="496.5" y="219.3" width="1.0" height="1.0"/><rect x="442.4" y="229.6" width="1.0" height="1.0"/><rect x="494.9" y="228.2" width="1.0" height="1.0"/><rect x="496.3" y="208.0" width="1.0" height="1.0"/><rect x="496.5" y="210.3" width="1.0" height="1.0"/><rect x="493.0" y="214.2" width="1.0" height="1.0"/><rect x="435.3" y="233.2" width="1.0" height="1.0"/><rect x="465.7" y="213.2" width="1.0" height="1.0"/><rect x="431.4" y="231.2" width="1.0" height="1.0"/><rect x="443.7" y="229.5" width="1.0" height="1.0"/><rect x="437.1" y="227.0" width="1.0" height="1.0"/><rect x="439.3" y="224.5" width="1.0" height="1.0"/><rect x="443.7" y="227.0" width="1.0" height="1.0"/><rect x="437.1" y="227.0" width="1.0" height="1.0"/><rect x="441.5" y="217.0" width="1.0" height="1.0"/><rect x="443.7" y="219.5" width="1.0" height="1.0"/><rect x="448.1" y="222.0" width="1.0" height="1.0"/><rect x="445.9" y="224.5" width="1.0" height="1.0"/><rect x="439.3" y="217.0" width="1.0" height="1.0"/><rect x="432.7" y="232.0" width="1.0" height="1.0"/><rect x="441.5" y="224.5" width="1.0" height="1.0"/><rect x="441.5" y="229.5" width="1.0" height="1.0"/><rect x="434.9" y="217.0" width="1.0" height="1.0"/><rect x="445.9" y="222.0" width="1.0" height="1.0"/><rect x="443.7" y="229.5" width="1.0" height="1.0"/><rect x="448.1" y="232.0" width="1.0" height="1.0"/><rect x="430.5" y="222.0" width="1.0" height="1.0"/><rect x="448.1" y="229.5" width="1.0" height="1.0"/><rect x="432.7" y="217.0" width="1.0" height="1.0"/><rect x="434.9" y="214.5" width="1.0" height="1.0"/><rect x="437.1" y="229.5" width="1.0" height="1.0"/><rect x="441.5" y="222.0" width="1.0" height="1.0"/><rect x="432.7" y="222.0" width="1.0" height="1.0"/><rect x="450.3" y="227.0" width="1.0" height="1.0"/><rect x="439.3" y="222.0" width="1.0" height="1.0"/><rect x="445.9" y="229.5" width="1.0" height="1.0"/><rect x="432.7" y="227.0" width="1.0" height="1.0"/><rect x="437.1" y="224.5" width="1.0" height="1.0"/><rect x="434.9" y="222.0" width="1.0" height="1.0"/><rect x="437.1" y="222.0" width="1.0" height="1.0"/><rect x="430.5" y="217.0" width="1.0" height="1.0"/><rect x="441.5" y="214.5" width="1.0" height="1.0"/><rect x="434.9" y="227.0" width="1.0" height="1.0"/><rect x="434.9" y="219.5" width="1.0" height="1.0"/><rect x="434.9" y="229.5" width="1.0" height="1.0"/><rect x="432.7" y="227.0" width="1.0" height="1.0"/><rect x="448.1" y="217.0" width="1.0" height="1.0"/><rect x="439.3" y="229.5" width="1.0" height="1.0"/><rect x="443.7" y="222.0" width="1.0" height="1.0"/><rect x="430.5" y="222.0" width="1.0" height="1.0"/><rect x="437.1" y="227.0" width="1.0" height="1.0"/><rect x="437.1" y="222.0" width="1.0" height="1.0"/><rect x="443.7" y="229.5" width="1.0" height="1.0"/><rect x="437.1" y="222.0" width="1.0" height="1.0"/><rect x="441.5" y="232.0" width="1.0" height="1.0"/><rect x="434.9" y="232.0" width="1.0" height="1.0"/><rect x="443.7" y="222.0" width="1.0" height="1.0"/><rect x="443.7" y="219.5" width="1.0" height="1.0"/><rect x="432.7" y="229.5" width="1.0" height="1.0"/><rect x="437.1" y="224.5" width="1.0" height="1.0"/><rect x="441.5" y="232.0" width="1.0" height="1.0"/><rect x="445.9" y="214.5" width="1.0" height="1.0"/><rect x="441.5" y="222.0" width="1.0" height="1.0"/><rect x="439.3" y="229.5" width="1.0" height="1.0"/><rect x="439.3" y="222.0" width="1.0" height="1.0"/><rect x="448.1" y="222.0" width="1.0" height="1.0"/><rect x="439.3" y="224.5" width="1.0" height="1.0"/><rect x="445.9" y="227.0" width="1.0" height="1.0"/><rect x="445.9" y="222.0" width="1.0" height="1.0"/><rect x="430.5" y="227.0" width="1.0" height="1.0"/><rect x="441.5" y="229.5" width="1.0" height="1.0"/><rect x="445.9" y="217.0" width="1.0" height="1.0"/><rect x="434.9" y="214.5" width="1.0" height="1.0"/><rect x="445.9" y="214.5" width="1.0" height="1.0"/><rect x="432.7" y="229.5" width="1.0" height="1.0"/><rect x="441.5" y="214.5" width="1.0" height="1.0"/><rect x="443.7" y="227.0" width="1.0" height="1.0"/><rect x="439.3" y="214.5" width="1.0" height="1.0"/><rect x="443.7" y="222.0" width="1.0" height="1.0"/><rect x="441.5" y="234.5" width="1.0" height="1.0"/><rect x="445.9" y="232.0" width="1.0" height="1.0"/><rect x="432.7" y="219.5" width="1.0" height="1.0"/><rect x="441.5" y="214.5" width="1.0" height="1.0"/><rect x="450.3" y="219.5" width="1.0" height="1.0"/><rect x="434.9" y="219.5" width="1.0" height="1.0"/><rect x="434.9" y="229.5" width="1.0" height="1.0"/><rect x="441.5" y="224.5" width="1.0" height="1.0"/><rect x="439.3" y="214.5" width="1.0" height="1.0"/><rect x="437.1" y="232.0" width="1.0" height="1.0"/><rect x="445.9" y="229.5" width="1.0" height="1.0"/><rect x="434.9" y="217.0" width="1.0" height="1.0"/><rect x="430.5" y="224.5" width="1.0" height="1.0"/><rect x="437.1" y="222.0" width="1.0" height="1.0"/><rect x="439.3" y="224.5" width="1.0" height="1.0"/><rect x="437.1" y="229.5" width="1.0" height="1.0"/><rect x="434.9" y="232.0" width="1.0" height="1.0"/><rect x="441.5" y="214.5" width="1.0" height="1.0"/><rect x="437.1" y="224.5" width="1.0" height="1.0"/><rect x="439.3" y="224.5" width="1.0" height="1.0"/><rect x="437.1" y="219.5" width="1.0" height="1.0"/><rect x="445.9" y="219.5" width="1.0" height="1.0"/><rect x="443.7" y="229.5" width="1.0" height="1.0"/><rect x="441.5" y="222.0" width="1.0" height="1.0"/><rect x="448.1" y="222.0" width="1.0" height="1.0"/><rect x="448.1" y="214.5" width="1.0" height="1.0"/><rect x="439.3" y="227.0" width="1.0" height="1.0"/><rect x="430.5" y="232.0" width="1.0" height="1.0"/><rect x="432.7" y="224.5" width="1.0" height="1.0"/><rect x="434.9" y="232.0" width="1.0" height="1.0"/><rect x="441.5" y="229.5" width="1.0" height="1.0"/><rect x="441.5" y="227.0" width="1.0" height="1.0"/><rect x="443.7" y="219.5" width="1.0" height="1.0"/><rect x="434.9" y="229.5" width="1.0" height="1.0"/><rect x="432.7" y="232.0" width="1.0" height="1.0"/><rect x="434.9" y="214.5" width="1.0" height="1.0"/><rect x="432.7" y="229.5" width="1.0" height="1.0"/><rect x="450.3" y="222.0" width="1.0" height="1.0"/><rect x="443.7" y="219.5" width="1.0" height="1.0"/><rect x="448.1" y="227.0" width="1.0" height="1.0"/><rect x="440.7" y="187.0" width="1.0" height="1.0"/><rect x="476.4" y="186.4" width="1.0" height="1.0"/><rect x="485.7" y="197.7" width="1.0" height="1.0"/><rect x="445.9" y="210.7" width="1.0" height="1.0"/><rect x="451.5" y="209.7" width="1.0" height="1.0"/><rect x="440.7" y="225.5" width="1.0" height="1.0"/><rect x="451.9" y="222.4" width="1.0" height="1.0"/><rect x="440.5" y="220.5" width="1.0" height="1.0"/><rect x="495.2" y="202.1" width="1.0" height="1.0"/><rect x="432.7" y="201.6" width="1.0" height="1.0"/><rect x="472.8" y="194.6" width="1.0" height="1.0"/><rect x="466.5" y="188.7" width="1.0" height="1.0"/><rect x="461.2" y="217.3" width="1.0" height="1.0"/><rect x="458.9" y="215.1" width="1.0" height="1.0"/><rect x="438.0" y="221.8" width="1.0" height="1.0"/><rect x="438.6" y="226.0" width="1.0" height="1.0"/><rect x="496.2" y="226.8" width="1.0" height="1.0"/><rect x="465.2" y="197.6" width="1.0" height="1.0"/><rect x="453.5" y="218.3" width="1.0" height="1.0"/><rect x="463.3" y="226.3" width="1.0" height="1.0"/><rect x="436.6" y="206.3" width="1.0" height="1.0"/><rect x="487.5" y="211.4" width="1.0" height="1.0"/><rect x="466.2" y="188.5" width="1.0" height="1.0"/><rect x="439.7" y="196.7" width="1.0" height="1.0"/><rect x="489.4" y="222.5" width="1.0" height="1.0"/><rect x="445.5" y="226.1" width="1.0" height="1.0"/><rect x="432.6" y="211.4" width="1.0" height="1.0"/><rect x="494.3" y="200.0" width="1.0" height="1.0"/><rect x="492.8" y="214.0" width="1.0" height="1.0"/><rect x="433.8" y="199.5" width="1.0" height="1.0"/><rect x="460.2" y="195.6" width="1.0" height="1.0"/><rect x="479.5" y="192.5" width="1.0" height="1.0"/><rect x="482.5" y="197.9" width="1.0" height="1.0"/><rect x="435.1" y="209.7" width="1.0" height="1.0"/><rect x="436.8" y="209.3" width="1.0" height="1.0"/><rect x="487.0" y="231.7" width="1.0" height="1.0"/><rect x="472.3" y="229.2" width="1.0" height="1.0"/><rect x="474.6" y="229.4" width="1.0" height="1.0"/><rect x="480.6" y="229.6" width="1.0" height="1.0"/><rect x="477.5" y="230.6" width="1.0" height="1.0"/><rect x="468.4" y="232.0" width="1.0" height="1.0"/><rect x="458.9" y="229.8" width="1.0" height="1.0"/><rect x="493.9" y="230.5" width="1.0" height="1.0"/><rect x="489.4" y="232.9" width="1.0" height="1.0"/><rect x="473.1" y="229.7" width="1.0" height="1.0"/><rect x="455.7" y="233.0" width="1.0" height="1.0"/><rect x="456.8" y="231.2" width="1.0" height="1.0"/><rect x="475.6" y="229.5" width="1.0" height="1.0"/><rect x="472.6" y="229.7" width="1.0" height="1.0"/><rect x="475.6" y="231.3" width="1.0" height="1.0"/><rect x="468.0" y="229.9" width="1.0" height="1.0"/><rect x="469.7" y="229.9" width="1.0" height="1.0"/><rect x="457.2" y="230.1" width="1.0" height="1.0"/><rect x="490.7" y="231.3" width="1.0" height="1.0"/><rect x="491.6" y="229.1" width="1.0" height="1.0"/><rect x="493.9" y="231.2" width="1.0" height="1.0"/><rect x="487.1" y="231.6" width="1.0" height="1.0"/><rect x="482.5" y="230.0" width="1.0" height="1.0"/><rect x="485.3" y="229.7" width="1.0" height="1.0"/><rect x="463.4" y="229.1" width="1.0" height="1.0"/><rect x="469.2" y="231.3" width="1.0" height="1.0"/><rect x="464.6" y="233.0" width="1.0" height="1.0"/><rect x="455.3" y="231.6" width="1.0" height="1.0"/><rect x="462.0" y="231.7" width="1.0" height="1.0"/><rect x="486.8" y="232.2" width="1.0" height="1.0"/><rect x="454.3" y="230.1" width="1.0" height="1.0"/><rect x="478.5" y="233.4" width="1.0" height="1.0"/><rect x="453.4" y="231.8" width="1.0" height="1.0"/><rect x="482.6" y="232.7" width="1.0" height="1.0"/><rect x="466.9" y="232.6" width="1.0" height="1.0"/><rect x="472.3" y="233.1" width="1.0" height="1.0"/><rect x="452.0" y="233.2" width="1.0" height="1.0"/><rect x="470.0" y="230.8" width="1.0" height="1.0"/><rect x="455.5" y="230.1" width="1.0" height="1.0"/><rect x="484.5" y="232.1" width="1.0" height="1.0"/><rect x="458.3" y="230.5" width="1.0" height="1.0"/><rect x="457.8" y="229.9" width="1.0" height="1.0"/><rect x="461.4" y="230.5" width="1.0" height="1.0"/><rect x="495.4" y="233.5" width="1.0" height="1.0"/><rect x="487.1" y="231.2" width="1.0" height="1.0"/><rect x="473.9" y="232.5" width="1.0" height="1.0"/><rect x="492.4" y="232.4" width="1.0" height="1.0"/><rect x="480.1" y="229.9" width="1.0" height="1.0"/><rect x="479.6" y="232.8" width="1.0" height="1.0"/><rect x="486.9" y="229.4" width="1.0" height="1.0"/><rect x="483.8" y="230.6" width="1.0" height="1.0"/><rect x="458.8" y="233.3" width="1.0" height="1.0"/><rect x="481.8" y="232.4" width="1.0" height="1.0"/><rect x="457.6" y="232.7" width="1.0" height="1.0"/><rect x="493.7" y="233.1" width="1.0" height="1.0"/><rect x="485.0" y="232.7" width="1.0" height="1.0"/><rect x="487.6" y="231.7" width="1.0" height="1.0"/><rect x="471.1" y="232.7" width="1.0" height="1.0"/><rect x="486.8" y="232.9" width="1.0" height="1.0"/><rect x="465.0" y="233.3" width="1.0" height="1.0"/><rect x="475.4" y="233.3" width="1.0" height="1.0"/><rect x="456.7" y="233.4" width="1.0" height="1.0"/><rect x="486.9" y="230.1" width="1.0" height="1.0"/><rect x="489.2" y="230.0" width="1.0" height="1.0"/><rect x="460.4" y="231.1" width="1.0" height="1.0"/><rect x="462.1" y="231.2" width="1.0" height="1.0"/><rect x="492.4" y="232.1" width="1.0" height="1.0"/><rect x="483.5" y="230.8" width="1.0" height="1.0"/><rect x="486.8" y="232.6" width="1.0" height="1.0"/><rect x="482.2" y="233.2" width="1.0" height="1.0"/><rect x="488.7" y="230.8" width="1.0" height="1.0"/><rect x="455.4" y="231.9" width="1.0" height="1.0"/><rect x="489.1" y="230.5" width="1.0" height="1.0"/><rect x="478.3" y="232.8" width="1.0" height="1.0"/><rect x="487.2" y="229.0" width="1.0" height="1.0"/><rect x="473.5" y="229.1" width="1.0" height="1.0"/><rect x="456.5" y="232.7" width="1.0" height="1.0"/><rect x="470.3" y="231.7" width="1.0" height="1.0"/><rect x="472.1" y="230.5" width="1.0" height="1.0"/><rect x="461.1" y="230.6" width="1.0" height="1.0"/><rect x="489.5" y="231.8" width="1.0" height="1.0"/><rect x="464.6" y="229.4" width="1.0" height="1.0"/><rect x="463.7" y="232.2" width="1.0" height="1.0"/><rect x="471.4" y="232.0" width="1.0" height="1.0"/><rect x="487.8" y="229.5" width="1.0" height="1.0"/><rect x="482.2" y="229.2" width="1.0" height="1.0"/><rect x="488.5" y="229.8" width="1.0" height="1.0"/><rect x="463.7" y="233.3" width="1.0" height="1.0"/><rect x="467.8" y="230.0" width="1.0" height="1.0"/><rect x="491.5" y="231.7" width="1.0" height="1.0"/><rect x="491.7" y="230.8" width="1.0" height="1.0"/><rect x="474.0" y="233.3" width="1.0" height="1.0"/><rect x="474.3" y="233.4" width="1.0" height="1.0"/><rect x="460.0" y="232.7" width="1.0" height="1.0"/><rect x="458.8" y="231.4" width="1.0" height="1.0"/><rect x="451.5" y="229.8" width="1.0" height="1.0"/><rect x="494.0" y="231.0" width="1.0" height="1.0"/><rect x="487.9" y="230.1" width="1.0" height="1.0"/><rect x="467.4" y="229.5" width="1.0" height="1.0"/><rect x="476.4" y="232.9" width="1.0" height="1.0"/><rect x="474.6" y="230.7" width="1.0" height="1.0"/><rect x="493.3" y="233.0" width="1.0" height="1.0"/><rect x="481.5" y="229.3" width="1.0" height="1.0"/><rect x="479.6" y="231.0" width="1.0" height="1.0"/><rect x="494.6" y="230.6" width="1.0" height="1.0"/><rect x="481.3" y="231.8" width="1.0" height="1.0"/><rect x="468.4" y="231.3" width="1.0" height="1.0"/><rect x="481.9" y="233.1" width="1.0" height="1.0"/><rect x="473.9" y="230.6" width="1.0" height="1.0"/><rect x="495.4" y="229.3" width="1.0" height="1.0"/><rect x="489.1" y="232.1" width="1.0" height="1.0"/><rect x="476.6" y="231.0" width="1.0" height="1.0"/><rect x="485.3" y="233.0" width="1.0" height="1.0"/><rect x="484.3" y="232.4" width="1.0" height="1.0"/><rect x="453.1" y="230.5" width="1.0" height="1.0"/><rect x="457.7" y="233.3" width="1.0" height="1.0"/><rect x="491.6" y="229.7" width="1.0" height="1.0"/><rect x="477.9" y="231.6" width="1.0" height="1.0"/><rect x="453.6" y="230.8" width="1.0" height="1.0"/><rect x="485.1" y="231.9" width="1.0" height="1.0"/><rect x="464.1" y="232.4" width="1.0" height="1.0"/><rect x="464.6" y="231.4" width="1.0" height="1.0"/><rect x="470.4" y="233.4" width="1.0" height="1.0"/><rect x="480.7" y="232.6" width="1.0" height="1.0"/><rect x="481.9" y="230.7" width="1.0" height="1.0"/><rect x="494.8" y="232.2" width="1.0" height="1.0"/><rect x="482.6" y="230.2" width="1.0" height="1.0"/><rect x="458.8" y="231.6" width="1.0" height="1.0"/><rect x="488.7" y="232.6" width="1.0" height="1.0"/><rect x="467.1" y="229.6" width="1.0" height="1.0"/><rect x="474.7" y="232.9" width="1.0" height="1.0"/><rect x="458.8" y="232.3" width="1.0" height="1.0"/><rect x="459.2" y="230.4" width="1.0" height="1.0"/><rect x="453.9" y="230.3" width="1.0" height="1.0"/><rect x="468.7" y="233.4" width="1.0" height="1.0"/><rect x="494.8" y="229.8" width="1.0" height="1.0"/><rect x="465.4" y="233.2" width="1.0" height="1.0"/><rect x="460.4" y="230.4" width="1.0" height="1.0"/><rect x="471.2" y="229.5" width="1.0" height="1.0"/><rect x="463.2" y="230.8" width="1.0" height="1.0"/><rect x="468.8" y="233.3" width="1.0" height="1.0"/><rect x="463.5" y="229.9" width="1.0" height="1.0"/><rect x="492.4" y="231.0" width="1.0" height="1.0"/><rect x="489.2" y="231.9" width="1.0" height="1.0"/><rect x="486.5" y="230.4" width="1.0" height="1.0"/><rect x="458.3" y="232.4" width="1.0" height="1.0"/><rect x="472.7" y="231.5" width="1.0" height="1.0"/><rect x="481.7" y="232.4" width="1.0" height="1.0"/><rect x="463.9" y="230.6" width="1.0" height="1.0"/><rect x="492.8" y="231.4" width="1.0" height="1.0"/><rect x="570.8" y="221.4" width="1.0" height="1.0"/><rect x="586.0" y="212.8" width="1.0" height="1.0"/><rect x="568.3" y="223.1" width="1.0" height="1.0"/><rect x="576.8" y="222.7" width="1.0" height="1.0"/><rect x="594.9" y="205.9" width="1.0" height="1.0"/><rect x="595.9" y="205.6" width="1.0" height="1.0"/><rect x="565.7" y="228.9" width="1.0" height="1.0"/><rect x="571.5" y="223.6" width="1.0" height="1.0"/><rect x="582.9" y="215.4" width="1.0" height="1.0"/><rect x="594.2" y="207.9" width="1.0" height="1.0"/><rect x="596.5" y="210.7" width="1.0" height="1.0"/><rect x="581.4" y="215.1" width="1.0" height="1.0"/><rect x="593.4" y="207.1" width="1.0" height="1.0"/><rect x="579.7" y="219.5" width="1.0" height="1.0"/><rect x="557.7" y="233.0" width="1.0" height="1.0"/><rect x="590.7" y="213.6" width="1.0" height="1.0"/><rect x="574.5" y="223.6" width="1.0" height="1.0"/><rect x="583.9" y="214.7" width="1.0" height="1.0"/><rect x="597.9" y="211.0" width="1.0" height="1.0"/><rect x="594.7" y="213.4" width="1.0" height="1.0"/><rect x="571.0" y="229.2" width="1.0" height="1.0"/><rect x="558.1" y="231.5" width="1.0" height="1.0"/><rect x="561.2" y="229.8" width="1.0" height="1.0"/><rect x="588.6" y="215.8" width="1.0" height="1.0"/><rect x="577.2" y="220.7" width="1.0" height="1.0"/><rect x="564.0" y="228.0" width="1.0" height="1.0"/><rect x="568.6" y="224.0" width="1.0" height="1.0"/><rect x="591.3" y="212.7" width="1.0" height="1.0"/><rect x="576.4" y="220.1" width="1.0" height="1.0"/><rect x="589.7" y="211.1" width="1.0" height="1.0"/><rect x="567.8" y="227.3" width="1.0" height="1.0"/><rect x="589.6" y="217.4" width="1.0" height="1.0"/><rect x="591.9" y="215.8" width="1.0" height="1.0"/><rect x="600.5" y="208.3" width="1.0" height="1.0"/><rect x="590.5" y="209.6" width="1.0" height="1.0"/><rect x="564.8" y="224.5" width="1.0" height="1.0"/><rect x="597.7" y="209.0" width="1.0" height="1.0"/><rect x="586.0" y="213.7" width="1.0" height="1.0"/><rect x="572.3" y="221.9" width="1.0" height="1.0"/><rect x="586.1" y="219.5" width="1.0" height="1.0"/><rect x="569.8" y="222.2" width="1.0" height="1.0"/><rect x="563.3" y="228.0" width="1.0" height="1.0"/><rect x="599.4" y="208.9" width="1.0" height="1.0"/><rect x="577.3" y="218.8" width="1.0" height="1.0"/><rect x="559.8" y="228.1" width="1.0" height="1.0"/></g>
<g fill="#888"><rect x="614.9" y="207.2" width="1.0" height="1.0"/><rect x="614.0" y="213.4" width="1.0" height="1.0"/><rect x="607.7" y="215.9" width="1.0" height="1.0"/><rect x="622.9" y="195.1" width="1.0" height="1.0"/><rect x="633.8" y="191.2" width="1.0" height="1.0"/><rect x="613.6" y="182.6" width="1.0" height="1.0"/><rect x="622.4" y="212.7" width="1.0" height="1.0"/><rect x="626.2" y="197.7" width="1.0" height="1.0"/><rect x="629.9" y="184.4" width="1.0" height="1.0"/><rect x="615.4" y="207.9" width="1.0" height="1.0"/><rect x="634.6" y="207.4" width="1.0" height="1.0"/><rect x="626.6" y="213.6" width="1.0" height="1.0"/><rect x="617.9" y="220.9" width="1.0" height="1.0"/><rect x="628.0" y="194.5" width="1.0" height="1.0"/><rect x="617.9" y="215.0" width="1.0" height="1.0"/><rect x="616.6" y="187.7" width="1.0" height="1.0"/><rect x="631.8" y="202.9" width="1.0" height="1.0"/><rect x="621.6" y="209.0" width="1.0" height="1.0"/><rect x="632.6" y="185.4" width="1.0" height="1.0"/><rect x="616.3" y="182.4" width="1.0" height="1.0"/><rect x="618.5" y="201.6" width="1.0" height="1.0"/><rect x="631.2" y="208.9" width="1.0" height="1.0"/><rect x="623.3" y="197.3" width="1.0" height="1.0"/><rect x="623.1" y="191.5" width="1.0" height="1.0"/><rect x="631.0" y="214.2" width="1.0" height="1.0"/><rect x="630.8" y="186.2" width="1.0" height="1.0"/><rect x="626.0" y="212.7" width="1.0" height="1.0"/><rect x="621.0" y="219.0" width="1.0" height="1.0"/><rect x="632.6" y="212.2" width="1.0" height="1.0"/><rect x="630.3" y="208.0" width="1.0" height="1.0"/><rect x="632.0" y="185.3" width="1.0" height="1.0"/><rect x="626.9" y="210.5" width="1.0" height="1.0"/><rect x="624.3" y="191.6" width="1.0" height="1.0"/><rect x="608.5" y="206.0" width="1.0" height="1.0"/><rect x="630.4" y="191.5" width="1.0" height="1.0"/><rect x="612.7" y="189.4" width="1.0" height="1.0"/><rect x="609.2" y="209.2" width="1.0" height="1.0"/><rect x="634.8" y="214.8" width="1.0" height="1.0"/><rect x="616.9" y="210.3" width="1.0" height="1.0"/><rect x="608.6" y="216.4" width="1.0" height="1.0"/></g>
<rect x="429" y="191" width="2" height="41" fill="#666"/>
<polygon points="497.0,205.0 510.0,202.5 525.0,199.5 540.0,196.0 555.0,192.0 570.0,188.5 585.0,186.5 594.0,187.0 600.0,190.0 602.0,196.0 599.0,202.0 592.0,208.0 585.0,212.0 577.0,218.0 567.0,223.0 557.0,228.0 540.0,232.0 520.0,233.5 497.0,234.0" fill="#2f2fd2"/>
<g fill="#2f2fd2"><rect x="576.5" y="176.7" width="1.1" height="1.1"/><rect x="590.4" y="186.7" width="1.1" height="1.1"/><rect x="578.3" y="181.5" width="1.1" height="1.1"/><rect x="509.7" y="204.1" width="1.1" height="1.1"/><rect x="507.7" y="202.3" width="1.1" height="1.1"/><rect x="518.0" y="201.8" width="1.1" height="1.1"/><rect x="522.4" y="195.6" width="1.1" height="1.1"/><rect x="569.6" y="189.7" width="1.1" height="1.1"/><rect x="593.8" y="184.5" width="1.1" height="1.1"/><rect x="571.9" y="190.1" width="1.1" height="1.1"/><rect x="536.0" y="196.7" width="1.1" height="1.1"/><rect x="510.2" y="199.8" width="1.1" height="1.1"/><rect x="497.8" y="206.4" width="1.1" height="1.1"/><rect x="535.5" y="194.9" width="1.1" height="1.1"/><rect x="497.4" y="205.1" width="1.1" height="1.1"/><rect x="544.2" y="191.6" width="1.1" height="1.1"/><rect x="500.9" y="204.1" width="1.1" height="1.1"/><rect x="503.8" y="203.9" width="1.1" height="1.1"/><rect x="529.8" y="195.8" width="1.1" height="1.1"/><rect x="546.4" y="191.2" width="1.1" height="1.1"/><rect x="562.3" y="191.8" width="1.1" height="1.1"/><rect x="589.7" y="185.8" width="1.1" height="1.1"/><rect x="535.9" y="195.6" width="1.1" height="1.1"/><rect x="509.5" y="202.7" width="1.1" height="1.1"/><rect x="517.0" y="199.6" width="1.1" height="1.1"/><rect x="562.0" y="191.2" width="1.1" height="1.1"/><rect x="569.3" y="189.5" width="1.1" height="1.1"/><rect x="571.1" y="190.1" width="1.1" height="1.1"/><rect x="502.0" y="203.8" width="1.1" height="1.1"/><rect x="565.8" y="191.0" width="1.1" height="1.1"/><rect x="570.0" y="190.5" width="1.1" height="1.1"/><rect x="567.7" y="185.2" width="1.1" height="1.1"/><rect x="545.0" y="191.9" width="1.1" height="1.1"/><rect x="558.2" y="186.8" width="1.1" height="1.1"/><rect x="502.9" y="205.6" width="1.1" height="1.1"/><rect x="520.0" y="193.8" width="1.1" height="1.1"/><rect x="536.9" y="197.5" width="1.1" height="1.1"/><rect x="561.7" y="185.4" width="1.1" height="1.1"/><rect x="572.8" y="188.6" width="1.1" height="1.1"/><rect x="597.0" y="190.7" width="1.1" height="1.1"/><rect x="579.1" y="188.3" width="1.1" height="1.1"/><rect x="521.2" y="202.4" width="1.1" height="1.1"/><rect x="592.3" y="188.0" width="1.1" height="1.1"/><rect x="592.3" y="182.3" width="1.1" height="1.1"/><rect x="562.2" y="189.8" width="1.1" height="1.1"/><rect x="512.3" y="203.3" width="1.1" height="1.1"/><rect x="498.3" y="207.0" width="1.1" height="1.1"/><rect x="596.7" y="188.8" width="1.1" height="1.1"/><rect x="569.6" y="187.9" width="1.1" height="1.1"/><rect x="513.2" y="199.3" width="1.1" height="1.1"/><rect x="549.2" y="190.6" width="1.1" height="1.1"/><rect x="588.1" y="184.0" width="1.1" height="1.1"/><rect x="590.8" y="180.0" width="1.1" height="1.1"/><rect x="553.7" y="194.5" width="1.1" height="1.1"/><rect x="581.0" y="183.1" width="1.1" height="1.1"/><rect x="557.7" y="193.6" width="1.1" height="1.1"/><rect x="578.8" y="188.4" width="1.1" height="1.1"/><rect x="552.6" y="194.3" width="1.1" height="1.1"/><rect x="526.4" y="201.2" width="1.1" height="1.1"/><rect x="573.2" y="190.1" width="1.1" height="1.1"/><rect x="498.9" y="204.7" width="1.1" height="1.1"/><rect x="543.6" y="191.5" width="1.1" height="1.1"/><rect x="509.0" y="203.9" width="1.1" height="1.1"/><rect x="540.6" y="196.2" width="1.1" height="1.1"/><rect x="507.8" y="201.8" width="1.1" height="1.1"/><rect x="532.8" y="199.4" width="1.1" height="1.1"/><rect x="506.1" y="204.9" width="1.1" height="1.1"/><rect x="583.8" y="180.1" width="1.1" height="1.1"/><rect x="506.9" y="203.9" width="1.1" height="1.1"/><rect x="575.0" y="187.4" width="1.1" height="1.1"/><rect x="511.7" y="198.3" width="1.1" height="1.1"/><rect x="575.6" y="182.5" width="1.1" height="1.1"/><rect x="497.2" y="206.2" width="1.1" height="1.1"/><rect x="567.8" y="190.4" width="1.1" height="1.1"/><rect x="558.1" y="189.2" width="1.1" height="1.1"/><rect x="538.4" y="198.2" width="1.1" height="1.1"/><rect x="559.4" y="188.0" width="1.1" height="1.1"/><rect x="571.9" y="182.9" width="1.1" height="1.1"/><rect x="578.5" y="182.4" width="1.1" height="1.1"/><rect x="570.3" y="186.6" width="1.1" height="1.1"/><rect x="499.6" y="204.7" width="1.1" height="1.1"/><rect x="540.8" y="191.8" width="1.1" height="1.1"/><rect x="586.9" y="184.3" width="1.1" height="1.1"/><rect x="541.9" y="190.0" width="1.1" height="1.1"/><rect x="569.2" y="190.9" width="1.1" height="1.1"/><rect x="532.3" y="197.3" width="1.1" height="1.1"/><rect x="529.9" y="197.7" width="1.1" height="1.1"/><rect x="597.5" y="188.5" width="1.1" height="1.1"/><rect x="563.8" y="185.9" width="1.1" height="1.1"/><rect x="582.6" y="186.0" width="1.1" height="1.1"/><rect x="598.9" y="192.1" width="1.1" height="1.1"/><rect x="522.2" y="199.9" width="1.1" height="1.1"/><rect x="538.9" y="196.0" width="1.1" height="1.1"/><rect x="587.7" y="188.7" width="1.1" height="1.1"/><rect x="591.3" y="185.4" width="1.1" height="1.1"/><rect x="576.3" y="183.3" width="1.1" height="1.1"/><rect x="588.1" y="187.5" width="1.1" height="1.1"/><rect x="507.2" y="202.1" width="1.1" height="1.1"/><rect x="581.5" y="186.9" width="1.1" height="1.1"/><rect x="534.3" y="195.2" width="1.1" height="1.1"/><rect x="551.8" y="192.9" width="1.1" height="1.1"/><rect x="551.1" y="194.8" width="1.1" height="1.1"/><rect x="563.4" y="182.9" width="1.1" height="1.1"/><rect x="538.4" y="196.7" width="1.1" height="1.1"/><rect x="590.6" y="184.7" width="1.1" height="1.1"/><rect x="505.7" y="199.0" width="1.1" height="1.1"/><rect x="518.3" y="201.6" width="1.1" height="1.1"/><rect x="497.9" y="201.8" width="1.1" height="1.1"/><rect x="523.2" y="200.2" width="1.1" height="1.1"/><rect x="514.6" y="195.2" width="1.1" height="1.1"/><rect x="541.6" y="195.8" width="1.1" height="1.1"/><rect x="573.3" y="184.3" width="1.1" height="1.1"/><rect x="574.0" y="190.3" width="1.1" height="1.1"/><rect x="499.3" y="204.9" width="1.1" height="1.1"/><rect x="567.6" y="190.5" width="1.1" height="1.1"/><rect x="595.8" y="186.9" width="1.1" height="1.1"/><rect x="562.7" y="187.5" width="1.1" height="1.1"/><rect x="558.0" y="190.5" width="1.1" height="1.1"/><rect x="568.0" y="190.8" width="1.1" height="1.1"/><rect x="503.3" y="205.2" width="1.1" height="1.1"/><rect x="497.9" y="206.3" width="1.1" height="1.1"/><rect x="508.1" y="204.0" width="1.1" height="1.1"/><rect x="547.3" y="190.8" width="1.1" height="1.1"/><rect x="524.6" y="201.0" width="1.1" height="1.1"/><rect x="575.7" y="189.2" width="1.1" height="1.1"/><rect x="527.7" y="199.9" width="1.1" height="1.1"/><rect x="538.6" y="197.2" width="1.1" height="1.1"/><rect x="571.5" y="186.3" width="1.1" height="1.1"/><rect x="506.2" y="203.3" width="1.1" height="1.1"/><rect x="582.2" y="187.5" width="1.1" height="1.1"/><rect x="499.6" y="206.0" width="1.1" height="1.1"/><rect x="584.5" y="186.0" width="1.1" height="1.1"/><rect x="579.1" y="187.9" width="1.1" height="1.1"/><rect x="497.5" y="205.5" width="1.1" height="1.1"/><rect x="516.0" y="202.2" width="1.1" height="1.1"/><rect x="564.4" y="190.8" width="1.1" height="1.1"/><rect x="556.9" y="192.6" width="1.1" height="1.1"/><rect x="511.2" y="203.1" width="1.1" height="1.1"/><rect x="506.5" y="202.8" width="1.1" height="1.1"/><rect x="563.6" y="191.9" width="1.1" height="1.1"/><rect x="555.1" y="194.1" width="1.1" height="1.1"/><rect x="498.0" y="206.2" width="1.1" height="1.1"/><rect x="584.3" y="180.8" width="1.1" height="1.1"/><rect x="533.9" y="193.4" width="1.1" height="1.1"/><rect x="570.9" y="185.9" width="1.1" height="1.1"/><rect x="522.4" y="198.2" width="1.1" height="1.1"/><rect x="534.2" y="198.0" width="1.1" height="1.1"/><rect x="522.0" y="202.2" width="1.1" height="1.1"/><rect x="578.4" y="188.8" width="1.1" height="1.1"/><rect x="575.2" y="186.0" width="1.1" height="1.1"/><rect x="519.5" y="202.2" width="1.1" height="1.1"/><rect x="536.0" y="197.0" width="1.1" height="1.1"/><rect x="534.1" y="197.3" width="1.1" height="1.1"/><rect x="586.0" y="184.9" width="1.1" height="1.1"/><rect x="501.7" y="203.9" width="1.1" height="1.1"/><rect x="520.6" y="197.7" width="1.1" height="1.1"/><rect x="499.5" y="205.7" width="1.1" height="1.1"/><rect x="543.8" y="196.6" width="1.1" height="1.1"/><rect x="569.7" y="189.1" width="1.1" height="1.1"/><rect x="545.8" y="195.7" width="1.1" height="1.1"/><rect x="514.4" y="203.6" width="1.1" height="1.1"/><rect x="508.6" y="202.1" width="1.1" height="1.1"/><rect x="503.4" y="204.2" width="1.1" height="1.1"/><rect x="592.9" y="185.2" width="1.1" height="1.1"/><rect x="553.6" y="192.2" width="1.1" height="1.1"/><rect x="573.1" y="189.1" width="1.1" height="1.1"/><rect x="554.4" y="187.6" width="1.1" height="1.1"/><rect x="584.8" y="180.3" width="1.1" height="1.1"/><rect x="507.8" y="202.1" width="1.1" height="1.1"/><rect x="521.1" y="201.3" width="1.1" height="1.1"/><rect x="514.0" y="202.7" width="1.1" height="1.1"/><rect x="505.0" y="204.4" width="1.1" height="1.1"/><rect x="523.8" y="199.0" width="1.1" height="1.1"/><rect x="571.8" y="188.4" width="1.1" height="1.1"/><rect x="504.1" y="203.7" width="1.1" height="1.1"/><rect x="517.6" y="202.6" width="1.1" height="1.1"/><rect x="564.7" y="190.7" width="1.1" height="1.1"/><rect x="597.8" y="189.7" width="1.1" height="1.1"/><rect x="546.1" y="196.5" width="1.1" height="1.1"/><rect x="563.7" y="191.7" width="1.1" height="1.1"/><rect x="549.5" y="191.6" width="1.1" height="1.1"/><rect x="572.7" y="189.8" width="1.1" height="1.1"/><rect x="551.8" y="194.7" width="1.1" height="1.1"/><rect x="558.8" y="188.8" width="1.1" height="1.1"/><rect x="563.5" y="187.8" width="1.1" height="1.1"/><rect x="593.8" y="182.7" width="1.1" height="1.1"/><rect x="572.7" y="187.9" width="1.1" height="1.1"/><rect x="589.4" y="185.7" width="1.1" height="1.1"/><rect x="515.2" y="203.2" width="1.1" height="1.1"/><rect x="589.3" y="182.9" width="1.1" height="1.1"/><rect x="504.9" y="205.7" width="1.1" height="1.1"/><rect x="541.7" y="196.9" width="1.1" height="1.1"/><rect x="510.9" y="203.0" width="1.1" height="1.1"/><rect x="556.5" y="187.8" width="1.1" height="1.1"/><rect x="593.2" y="183.5" width="1.1" height="1.1"/><rect x="497.7" y="205.0" width="1.1" height="1.1"/><rect x="594.1" y="189.2" width="1.1" height="1.1"/><rect x="549.2" y="191.6" width="1.1" height="1.1"/><rect x="594.1" y="174.7" width="1.1" height="1.1"/><rect x="560.4" y="192.4" width="1.1" height="1.1"/><rect x="518.7" y="202.1" width="1.1" height="1.1"/><rect x="599.4" y="189.5" width="1.1" height="1.1"/><rect x="543.5" y="196.0" width="1.1" height="1.1"/><rect x="529.6" y="192.4" width="1.1" height="1.1"/><rect x="538.4" y="195.8" width="1.1" height="1.1"/><rect x="498.8" y="203.8" width="1.1" height="1.1"/><rect x="535.0" y="196.1" width="1.1" height="1.1"/><rect x="496.5" y="203.5" width="1.1" height="1.1"/><rect x="559.0" y="193.2" width="1.1" height="1.1"/><rect x="554.3" y="190.2" width="1.1" height="1.1"/><rect x="569.8" y="188.9" width="1.1" height="1.1"/><rect x="508.9" y="203.5" width="1.1" height="1.1"/><rect x="595.4" y="188.8" width="1.1" height="1.1"/><rect x="550.2" y="193.9" width="1.1" height="1.1"/><rect x="556.3" y="193.0" width="1.1" height="1.1"/><rect x="520.6" y="202.0" width="1.1" height="1.1"/><rect x="513.7" y="201.3" width="1.1" height="1.1"/><rect x="538.6" y="196.7" width="1.1" height="1.1"/><rect x="588.0" y="184.2" width="1.1" height="1.1"/><rect x="595.0" y="182.0" width="1.1" height="1.1"/><rect x="524.2" y="199.0" width="1.1" height="1.1"/><rect x="501.8" y="205.5" width="1.1" height="1.1"/><rect x="590.7" y="188.6" width="1.1" height="1.1"/><rect x="526.3" y="201.2" width="1.1" height="1.1"/><rect x="526.2" y="195.2" width="1.1" height="1.1"/><rect x="539.7" y="196.9" width="1.1" height="1.1"/><rect x="551.0" y="191.3" width="1.1" height="1.1"/><rect x="563.8" y="186.2" width="1.1" height="1.1"/><rect x="549.3" y="193.7" width="1.1" height="1.1"/><rect x="564.2" y="190.1" width="1.1" height="1.1"/><rect x="556.8" y="191.2" width="1.1" height="1.1"/><rect x="595.6" y="180.5" width="1.1" height="1.1"/><rect x="516.3" y="197.9" width="1.1" height="1.1"/><rect x="555.2" y="190.4" width="1.1" height="1.1"/><rect x="515.1" y="203.0" width="1.1" height="1.1"/><rect x="520.8" y="200.5" width="1.1" height="1.1"/><rect x="534.2" y="194.6" width="1.1" height="1.1"/><rect x="504.0" y="205.4" width="1.1" height="1.1"/><rect x="572.8" y="187.0" width="1.1" height="1.1"/><rect x="565.7" y="188.5" width="1.1" height="1.1"/><rect x="578.8" y="184.6" width="1.1" height="1.1"/><rect x="566.3" y="191.4" width="1.1" height="1.1"/><rect x="569.5" y="189.3" width="1.1" height="1.1"/><rect x="595.2" y="187.8" width="1.1" height="1.1"/><rect x="577.4" y="189.4" width="1.1" height="1.1"/><rect x="595.1" y="185.1" width="1.1" height="1.1"/><rect x="517.8" y="196.8" width="1.1" height="1.1"/><rect x="589.2" y="182.7" width="1.1" height="1.1"/><rect x="520.4" y="202.5" width="1.1" height="1.1"/><rect x="564.8" y="188.1" width="1.1" height="1.1"/><rect x="575.4" y="188.0" width="1.1" height="1.1"/><rect x="518.6" y="201.6" width="1.1" height="1.1"/><rect x="523.9" y="200.4" width="1.1" height="1.1"/><rect x="538.3" y="198.3" width="1.1" height="1.1"/><rect x="539.8" y="194.2" width="1.1" height="1.1"/><rect x="593.5" y="186.5" width="1.1" height="1.1"/><rect x="555.9" y="190.3" width="1.1" height="1.1"/><rect x="541.5" y="193.5" width="1.1" height="1.1"/><rect x="514.5" y="203.4" width="1.1" height="1.1"/><rect x="566.1" y="191.6" width="1.1" height="1.1"/><rect x="513.0" y="199.2" width="1.1" height="1.1"/><rect x="575.4" y="181.9" width="1.1" height="1.1"/><rect x="582.5" y="185.1" width="1.1" height="1.1"/><rect x="569.1" y="186.3" width="1.1" height="1.1"/><rect x="596.0" y="187.9" width="1.1" height="1.1"/><rect x="527.4" y="196.0" width="1.1" height="1.1"/><rect x="522.8" y="200.4" width="1.1" height="1.1"/><rect x="584.0" y="183.4" width="1.1" height="1.1"/><rect x="586.6" y="186.4" width="1.1" height="1.1"/><rect x="498.0" y="206.3" width="1.1" height="1.1"/><rect x="551.5" y="194.8" width="1.1" height="1.1"/><rect x="503.7" y="204.0" width="1.1" height="1.1"/><rect x="496.9" y="205.6" width="1.1" height="1.1"/><rect x="496.9" y="203.9" width="1.1" height="1.1"/><rect x="520.1" y="202.4" width="1.1" height="1.1"/><rect x="598.1" y="184.0" width="1.1" height="1.1"/><rect x="498.4" y="202.6" width="1.1" height="1.1"/><rect x="596.4" y="183.3" width="1.1" height="1.1"/><rect x="511.8" y="202.7" width="1.1" height="1.1"/><rect x="529.4" y="197.3" width="1.1" height="1.1"/><rect x="539.4" y="195.7" width="1.1" height="1.1"/><rect x="502.1" y="206.1" width="1.1" height="1.1"/><rect x="505.1" y="205.2" width="1.1" height="1.1"/><rect x="560.7" y="191.5" width="1.1" height="1.1"/><rect x="568.2" y="190.6" width="1.1" height="1.1"/><rect x="571.5" y="183.0" width="1.1" height="1.1"/><rect x="531.6" y="198.1" width="1.1" height="1.1"/><rect x="592.1" y="189.2" width="1.1" height="1.1"/><rect x="554.2" y="192.4" width="1.1" height="1.1"/><rect x="567.8" y="190.6" width="1.1" height="1.1"/><rect x="536.1" y="198.7" width="1.1" height="1.1"/><rect x="578.6" y="186.6" width="1.1" height="1.1"/><rect x="579.1" y="184.7" width="1.1" height="1.1"/><rect x="516.2" y="201.4" width="1.1" height="1.1"/><rect x="569.3" y="188.5" width="1.1" height="1.1"/><rect x="520.3" y="197.6" width="1.1" height="1.1"/><rect x="506.1" y="203.8" width="1.1" height="1.1"/><rect x="510.7" y="201.6" width="1.1" height="1.1"/><rect x="516.3" y="202.3" width="1.1" height="1.1"/><rect x="561.7" y="191.8" width="1.1" height="1.1"/><rect x="521.3" y="202.4" width="1.1" height="1.1"/><rect x="551.4" y="191.3" width="1.1" height="1.1"/><rect x="571.1" y="183.9" width="1.1" height="1.1"/><rect x="519.2" y="202.1" width="1.1" height="1.1"/><rect x="526.4" y="198.3" width="1.1" height="1.1"/><rect x="559.8" y="188.4" width="1.1" height="1.1"/><rect x="589.3" y="188.1" width="1.1" height="1.1"/><rect x="564.7" y="188.6" width="1.1" height="1.1"/><rect x="523.3" y="200.9" width="1.1" height="1.1"/><rect x="575.9" y="187.4" width="1.1" height="1.1"/><rect x="581.6" y="186.9" width="1.1" height="1.1"/><rect x="578.3" y="178.7" width="1.1" height="1.1"/><rect x="528.3" y="198.9" width="1.1" height="1.1"/><rect x="502.2" y="202.5" width="1.1" height="1.1"/><rect x="559.2" y="192.3" width="1.1" height="1.1"/><rect x="549.4" y="195.2" width="1.1" height="1.1"/><rect x="512.0" y="199.1" width="1.1" height="1.1"/><rect x="544.0" y="194.1" width="1.1" height="1.1"/><rect x="516.8" y="200.9" width="1.1" height="1.1"/><rect x="550.1" y="192.5" width="1.1" height="1.1"/><rect x="533.8" y="198.9" width="1.1" height="1.1"/><rect x="576.3" y="184.7" width="1.1" height="1.1"/><rect x="507.4" y="202.9" width="1.1" height="1.1"/><rect x="546.3" y="195.1" width="1.1" height="1.1"/><rect x="522.5" y="201.3" width="1.1" height="1.1"/><rect x="529.2" y="198.8" width="1.1" height="1.1"/><rect x="545.6" y="195.3" width="1.1" height="1.1"/><rect x="534.7" y="193.8" width="1.1" height="1.1"/><rect x="542.5" y="190.1" width="1.1" height="1.1"/><rect x="560.2" y="189.0" width="1.1" height="1.1"/><rect x="507.3" y="201.6" width="1.1" height="1.1"/><rect x="525.1" y="200.5" width="1.1" height="1.1"/><rect x="500.3" y="201.1" width="1.1" height="1.1"/><rect x="509.7" y="204.2" width="1.1" height="1.1"/><rect x="544.4" y="194.9" width="1.1" height="1.1"/><rect x="503.5" y="204.6" width="1.1" height="1.1"/><rect x="573.8" y="189.8" width="1.1" height="1.1"/><rect x="505.3" y="202.9" width="1.1" height="1.1"/><rect x="537.0" y="191.6" width="1.1" height="1.1"/><rect x="501.7" y="202.7" width="1.1" height="1.1"/><rect x="526.1" y="201.4" width="1.1" height="1.1"/><rect x="507.4" y="203.9" width="1.1" height="1.1"/><rect x="503.7" y="204.4" width="1.1" height="1.1"/><rect x="582.3" y="184.4" width="1.1" height="1.1"/><rect x="513.9" y="201.8" width="1.1" height="1.1"/><rect x="540.3" y="192.8" width="1.1" height="1.1"/><rect x="531.3" y="198.6" width="1.1" height="1.1"/><rect x="596.5" y="188.4" width="1.1" height="1.1"/><rect x="508.5" y="204.9" width="1.1" height="1.1"/><rect x="588.3" y="181.4" width="1.1" height="1.1"/><rect x="589.6" y="177.5" width="1.1" height="1.1"/><rect x="558.7" y="191.8" width="1.1" height="1.1"/><rect x="526.2" y="196.6" width="1.1" height="1.1"/><rect x="572.1" y="189.1" width="1.1" height="1.1"/><rect x="509.8" y="202.4" width="1.1" height="1.1"/><rect x="507.5" y="198.8" width="1.1" height="1.1"/><rect x="580.2" y="187.7" width="1.1" height="1.1"/><rect x="522.7" y="200.3" width="1.1" height="1.1"/><rect x="544.8" y="194.9" width="1.1" height="1.1"/><rect x="584.5" y="188.8" width="1.1" height="1.1"/><rect x="529.5" y="198.2" width="1.1" height="1.1"/><rect x="531.6" y="195.4" width="1.1" height="1.1"/><rect x="515.8" y="198.9" width="1.1" height="1.1"/><rect x="585.3" y="184.8" width="1.1" height="1.1"/><rect x="555.7" y="187.5" width="1.1" height="1.1"/><rect x="558.9" y="193.0" width="1.1" height="1.1"/><rect x="589.1" y="185.2" width="1.1" height="1.1"/><rect x="583.8" y="187.8" width="1.1" height="1.1"/><rect x="580.8" y="189.0" width="1.1" height="1.1"/><rect x="535.0" y="196.2" width="1.1" height="1.1"/><rect x="532.8" y="198.8" width="1.1" height="1.1"/><rect x="519.8" y="201.8" width="1.1" height="1.1"/><rect x="590.1" y="183.5" width="1.1" height="1.1"/><rect x="587.8" y="185.6" width="1.1" height="1.1"/><rect x="574.3" y="190.0" width="1.1" height="1.1"/><rect x="579.3" y="179.5" width="1.1" height="1.1"/><rect x="598.5" y="190.8" width="1.1" height="1.1"/><rect x="580.2" y="182.0" width="1.1" height="1.1"/><rect x="522.5" y="200.6" width="1.1" height="1.1"/><rect x="582.9" y="185.4" width="1.1" height="1.1"/><rect x="510.2" y="202.3" width="1.1" height="1.1"/><rect x="581.0" y="188.4" width="1.1" height="1.1"/><rect x="532.0" y="196.6" width="1.1" height="1.1"/><rect x="587.0" y="181.5" width="1.1" height="1.1"/><rect x="510.8" y="200.3" width="1.1" height="1.1"/><rect x="566.2" y="189.1" width="1.1" height="1.1"/><rect x="563.7" y="184.3" width="1.1" height="1.1"/><rect x="552.9" y="192.5" width="1.1" height="1.1"/><rect x="543.4" y="194.0" width="1.1" height="1.1"/><rect x="577.0" y="183.3" width="1.1" height="1.1"/><rect x="586.0" y="188.1" width="1.1" height="1.1"/><rect x="522.1" y="199.6" width="1.1" height="1.1"/><rect x="506.8" y="205.2" width="1.1" height="1.1"/><rect x="578.5" y="188.8" width="1.1" height="1.1"/><rect x="519.8" y="201.8" width="1.1" height="1.1"/><rect x="572.8" y="189.8" width="1.1" height="1.1"/><rect x="516.9" y="200.5" width="1.1" height="1.1"/><rect x="579.1" y="188.6" width="1.1" height="1.1"/><rect x="594.7" y="187.5" width="1.1" height="1.1"/><rect x="588.6" y="182.9" width="1.1" height="1.1"/><rect x="544.9" y="192.2" width="1.1" height="1.1"/><rect x="528.5" y="197.9" width="1.1" height="1.1"/><rect x="586.5" y="187.1" width="1.1" height="1.1"/><rect x="557.0" y="193.0" width="1.1" height="1.1"/><rect x="581.9" y="184.1" width="1.1" height="1.1"/><rect x="539.3" y="198.0" width="1.1" height="1.1"/><rect x="587.1" y="187.5" width="1.1" height="1.1"/><rect x="533.8" y="197.8" width="1.1" height="1.1"/><rect x="533.9" y="194.7" width="1.1" height="1.1"/><rect x="509.3" y="203.9" width="1.1" height="1.1"/><rect x="590.6" y="183.0" width="1.1" height="1.1"/><rect x="541.0" y="197.0" width="1.1" height="1.1"/><rect x="570.4" y="189.1" width="1.1" height="1.1"/><rect x="550.4" y="194.8" width="1.1" height="1.1"/><rect x="581.0" y="188.4" width="1.1" height="1.1"/><rect x="519.3" y="200.2" width="1.1" height="1.1"/><rect x="573.2" y="189.5" width="1.1" height="1.1"/><rect x="587.4" y="186.0" width="1.1" height="1.1"/><rect x="598.7" y="187.6" width="1.1" height="1.1"/><rect x="569.6" y="189.2" width="1.1" height="1.1"/><rect x="592.2" y="188.2" width="1.1" height="1.1"/><rect x="530.3" y="197.9" width="1.1" height="1.1"/><rect x="571.9" y="188.5" width="1.1" height="1.1"/><rect x="548.0" y="191.8" width="1.1" height="1.1"/><rect x="565.3" y="185.4" width="1.1" height="1.1"/><rect x="599.4" y="182.6" width="1.1" height="1.1"/><rect x="554.2" y="193.8" width="1.1" height="1.1"/><rect x="590.2" y="186.4" width="1.1" height="1.1"/><rect x="553.2" y="194.3" width="1.1" height="1.1"/><rect x="533.7" y="192.9" width="1.1" height="1.1"/><rect x="591.6" y="189.1" width="1.1" height="1.1"/><rect x="548.2" y="195.3" width="1.1" height="1.1"/><rect x="589.0" y="179.6" width="1.1" height="1.1"/><rect x="549.1" y="190.4" width="1.1" height="1.1"/><rect x="592.5" y="186.9" width="1.1" height="1.1"/><rect x="561.5" y="192.0" width="1.1" height="1.1"/><rect x="579.2" y="184.2" width="1.1" height="1.1"/><rect x="523.1" y="200.2" width="1.1" height="1.1"/><rect x="524.9" y="198.5" width="1.1" height="1.1"/><rect x="544.7" y="194.9" width="1.1" height="1.1"/><rect x="506.0" y="203.1" width="1.1" height="1.1"/><rect x="570.3" y="190.7" width="1.1" height="1.1"/><rect x="573.5" y="190.1" width="1.1" height="1.1"/><rect x="549.7" y="192.8" width="1.1" height="1.1"/><rect x="514.5" y="198.9" width="1.1" height="1.1"/><rect x="517.3" y="199.5" width="1.1" height="1.1"/><rect x="556.8" y="192.7" width="1.1" height="1.1"/><rect x="569.8" y="183.9" width="1.1" height="1.1"/><rect x="569.6" y="189.8" width="1.1" height="1.1"/><rect x="591.7" y="180.3" width="1.1" height="1.1"/><rect x="501.9" y="203.7" width="1.1" height="1.1"/><rect x="505.3" y="204.7" width="1.1" height="1.1"/><rect x="503.6" y="204.9" width="1.1" height="1.1"/><rect x="511.1" y="200.5" width="1.1" height="1.1"/><rect x="543.8" y="189.1" width="1.1" height="1.1"/><rect x="531.1" y="191.5" width="1.1" height="1.1"/><rect x="575.4" y="190.1" width="1.1" height="1.1"/><rect x="513.1" y="202.3" width="1.1" height="1.1"/><rect x="538.7" y="196.4" width="1.1" height="1.1"/><rect x="513.1" y="202.5" width="1.1" height="1.1"/><rect x="519.0" y="201.3" width="1.1" height="1.1"/><rect x="529.0" y="199.8" width="1.1" height="1.1"/><rect x="548.4" y="194.3" width="1.1" height="1.1"/><rect x="541.8" y="194.1" width="1.1" height="1.1"/><rect x="596.7" y="179.2" width="1.1" height="1.1"/><rect x="545.0" y="196.2" width="1.1" height="1.1"/><rect x="516.8" y="202.1" width="1.1" height="1.1"/><rect x="513.9" y="203.2" width="1.1" height="1.1"/><rect x="504.0" y="203.9" width="1.1" height="1.1"/><rect x="538.0" y="190.0" width="1.1" height="1.1"/><rect x="532.9" y="197.2" width="1.1" height="1.1"/><rect x="567.6" y="189.6" width="1.1" height="1.1"/><rect x="536.8" y="195.1" width="1.1" height="1.1"/><rect x="555.4" y="187.8" width="1.1" height="1.1"/><rect x="497.1" y="204.9" width="1.1" height="1.1"/><rect x="533.0" y="195.5" width="1.1" height="1.1"/><rect x="561.3" y="189.2" width="1.1" height="1.1"/><rect x="541.0" y="196.3" width="1.1" height="1.1"/><rect x="527.2" y="196.8" width="1.1" height="1.1"/><rect x="572.2" y="188.5" width="1.1" height="1.1"/><rect x="594.2" y="187.0" width="1.1" height="1.1"/><rect x="584.2" y="185.5" width="1.1" height="1.1"/><rect x="577.9" y="184.1" width="1.1" height="1.1"/><rect x="531.5" y="197.6" width="1.1" height="1.1"/><rect x="593.8" y="184.9" width="1.1" height="1.1"/><rect x="515.2" y="202.9" width="1.1" height="1.1"/><rect x="508.3" y="201.2" width="1.1" height="1.1"/><rect x="499.2" y="204.2" width="1.1" height="1.1"/><rect x="529.7" y="196.9" width="1.1" height="1.1"/><rect x="533.9" y="199.2" width="1.1" height="1.1"/><rect x="588.7" y="185.8" width="1.1" height="1.1"/><rect x="592.2" y="184.6" width="1.1" height="1.1"/><rect x="562.3" y="189.0" width="1.1" height="1.1"/><rect x="536.3" y="198.7" width="1.1" height="1.1"/><rect x="559.2" y="192.6" width="1.1" height="1.1"/><rect x="534.6" y="197.0" width="1.1" height="1.1"/><rect x="536.4" y="194.2" width="1.1" height="1.1"/><rect x="552.0" y="188.7" width="1.1" height="1.1"/><rect x="524.9" y="198.9" width="1.1" height="1.1"/><rect x="513.0" y="199.6" width="1.1" height="1.1"/><rect x="567.5" y="188.7" width="1.1" height="1.1"/><rect x="502.6" y="206.0" width="1.1" height="1.1"/><rect x="579.4" y="187.7" width="1.1" height="1.1"/><rect x="502.4" y="204.8" width="1.1" height="1.1"/><rect x="523.6" y="201.6" width="1.1" height="1.1"/><rect x="590.2" y="181.7" width="1.1" height="1.1"/><rect x="594.0" y="179.3" width="1.1" height="1.1"/><rect x="505.7" y="203.7" width="1.1" height="1.1"/><rect x="591.7" y="186.5" width="1.1" height="1.1"/><rect x="573.5" y="189.3" width="1.1" height="1.1"/><rect x="584.9" y="187.4" width="1.1" height="1.1"/><rect x="586.4" y="187.7" width="1.1" height="1.1"/><rect x="574.1" y="180.5" width="1.1" height="1.1"/><rect x="500.4" y="202.6" width="1.1" height="1.1"/><rect x="502.2" y="205.9" width="1.1" height="1.1"/><rect x="569.4" y="190.3" width="1.1" height="1.1"/><rect x="561.4" y="191.0" width="1.1" height="1.1"/><rect x="515.1" y="202.7" width="1.1" height="1.1"/><rect x="559.2" y="188.4" width="1.1" height="1.1"/><rect x="533.6" y="191.9" width="1.1" height="1.1"/><rect x="597.3" y="186.9" width="1.1" height="1.1"/><rect x="522.5" y="201.1" width="1.1" height="1.1"/><rect x="520.4" y="192.9" width="1.1" height="1.1"/><rect x="569.2" y="188.8" width="1.1" height="1.1"/><rect x="514.5" y="203.2" width="1.1" height="1.1"/><rect x="532.6" y="198.3" width="1.1" height="1.1"/><rect x="572.4" y="185.6" width="1.1" height="1.1"/><rect x="566.6" y="189.8" width="1.1" height="1.1"/><rect x="499.9" y="202.5" width="1.1" height="1.1"/><rect x="555.7" y="191.6" width="1.1" height="1.1"/><rect x="543.0" y="193.9" width="1.1" height="1.1"/><rect x="531.2" y="197.3" width="1.1" height="1.1"/><rect x="537.2" y="192.5" width="1.1" height="1.1"/><rect x="590.7" y="186.0" width="1.1" height="1.1"/><rect x="554.2" y="193.0" width="1.1" height="1.1"/><rect x="535.9" y="197.6" width="1.1" height="1.1"/><rect x="567.6" y="183.8" width="1.1" height="1.1"/><rect x="577.4" y="189.7" width="1.1" height="1.1"/><rect x="549.5" y="189.0" width="1.1" height="1.1"/><rect x="539.1" y="198.3" width="1.1" height="1.1"/><rect x="565.4" y="185.8" width="1.1" height="1.1"/><rect x="538.6" y="196.2" width="1.1" height="1.1"/><rect x="595.3" y="179.6" width="1.1" height="1.1"/><rect x="559.8" y="190.6" width="1.1" height="1.1"/><rect x="529.0" y="199.0" width="1.1" height="1.1"/><rect x="589.5" y="186.6" width="1.1" height="1.1"/><rect x="578.0" y="187.8" width="1.1" height="1.1"/><rect x="598.5" y="183.0" width="1.1" height="1.1"/><rect x="567.3" y="188.5" width="1.1" height="1.1"/><rect x="523.5" y="197.3" width="1.1" height="1.1"/><rect x="559.4" y="189.0" width="1.1" height="1.1"/><rect x="546.8" y="190.3" width="1.1" height="1.1"/><rect x="524.8" y="200.7" width="1.1" height="1.1"/><rect x="592.3" y="188.4" width="1.1" height="1.1"/><rect x="574.4" y="185.9" width="1.1" height="1.1"/><rect x="555.5" y="188.8" width="1.1" height="1.1"/><rect x="589.9" y="184.9" width="1.1" height="1.1"/><rect x="592.6" y="186.8" width="1.1" height="1.1"/><rect x="505.4" y="205.5" width="1.1" height="1.1"/><rect x="524.9" y="200.4" width="1.1" height="1.1"/><rect x="508.2" y="203.1" width="1.1" height="1.1"/><rect x="571.3" y="187.3" width="1.1" height="1.1"/><rect x="522.9" y="201.7" width="1.1" height="1.1"/><rect x="506.5" y="201.6" width="1.1" height="1.1"/><rect x="547.3" y="195.9" width="1.1" height="1.1"/><rect x="563.8" y="189.4" width="1.1" height="1.1"/><rect x="525.1" y="196.9" width="1.1" height="1.1"/><rect x="593.6" y="181.6" width="1.1" height="1.1"/><rect x="599.2" y="186.5" width="1.1" height="1.1"/><rect x="579.7" y="187.0" width="1.1" height="1.1"/><rect x="574.6" y="181.8" width="1.1" height="1.1"/><rect x="537.8" y="196.9" width="1.1" height="1.1"/><rect x="594.3" y="187.5" width="1.1" height="1.1"/><rect x="573.6" y="190.0" width="1.1" height="1.1"/><rect x="511.4" y="204.2" width="1.1" height="1.1"/><rect x="598.2" y="190.4" width="1.1" height="1.1"/><rect x="552.2" y="194.9" width="1.1" height="1.1"/><rect x="562.0" y="190.5" width="1.1" height="1.1"/><rect x="535.2" y="199.4" width="1.1" height="1.1"/><rect x="499.9" y="202.0" width="1.1" height="1.1"/><rect x="545.7" y="190.6" width="1.1" height="1.1"/><rect x="588.5" y="184.4" width="1.1" height="1.1"/><rect x="500.0" y="203.9" width="1.1" height="1.1"/><rect x="570.5" y="189.7" width="1.1" height="1.1"/><rect x="571.6" y="185.1" width="1.1" height="1.1"/><rect x="515.5" y="198.0" width="1.1" height="1.1"/><rect x="510.5" y="204.2" width="1.1" height="1.1"/><rect x="515.6" y="202.3" width="1.1" height="1.1"/><rect x="548.0" y="195.0" width="1.1" height="1.1"/><rect x="592.2" y="186.9" width="1.1" height="1.1"/><rect x="545.3" y="196.3" width="1.1" height="1.1"/><rect x="590.4" y="185.7" width="1.1" height="1.1"/><rect x="519.2" y="199.5" width="1.1" height="1.1"/><rect x="596.5" y="187.2" width="1.1" height="1.1"/><rect x="575.9" y="186.4" width="1.1" height="1.1"/><rect x="584.5" y="184.8" width="1.1" height="1.1"/><rect x="542.1" y="191.2" width="1.1" height="1.1"/><rect x="579.4" y="183.8" width="1.1" height="1.1"/><rect x="566.7" y="191.5" width="1.1" height="1.1"/><rect x="544.2" y="194.5" width="1.1" height="1.1"/><rect x="581.2" y="179.3" width="1.1" height="1.1"/><rect x="513.0" y="202.7" width="1.1" height="1.1"/><rect x="566.9" y="187.5" width="1.1" height="1.1"/><rect x="513.7" y="203.1" width="1.1" height="1.1"/><rect x="510.6" y="201.5" width="1.1" height="1.1"/><rect x="524.0" y="201.3" width="1.1" height="1.1"/><rect x="534.3" y="194.2" width="1.1" height="1.1"/><rect x="557.2" y="191.6" width="1.1" height="1.1"/><rect x="513.1" y="202.1" width="1.1" height="1.1"/><rect x="595.3" y="187.3" width="1.1" height="1.1"/><rect x="597.6" y="187.3" width="1.1" height="1.1"/><rect x="596.0" y="185.7" width="1.1" height="1.1"/><rect x="536.1" y="196.4" width="1.1" height="1.1"/><rect x="499.4" y="206.2" width="1.1" height="1.1"/><rect x="517.5" y="201.6" width="1.1" height="1.1"/><rect x="561.3" y="190.5" width="1.1" height="1.1"/><rect x="554.4" y="188.8" width="1.1" height="1.1"/><rect x="533.8" y="198.1" width="1.1" height="1.1"/><rect x="594.2" y="185.8" width="1.1" height="1.1"/><rect x="585.3" y="184.6" width="1.1" height="1.1"/><rect x="565.4" y="188.2" width="1.1" height="1.1"/><rect x="527.4" y="197.9" width="1.1" height="1.1"/><rect x="596.3" y="190.4" width="1.1" height="1.1"/><rect x="503.1" y="199.0" width="1.1" height="1.1"/><rect x="497.5" y="205.6" width="1.1" height="1.1"/><rect x="548.7" y="195.1" width="1.1" height="1.1"/><rect x="508.6" y="203.0" width="1.1" height="1.1"/><rect x="566.9" y="186.2" width="1.1" height="1.1"/><rect x="591.9" y="182.1" width="1.1" height="1.1"/><rect x="569.9" y="190.6" width="1.1" height="1.1"/><rect x="496.6" y="204.9" width="1.1" height="1.1"/><rect x="596.3" y="189.3" width="1.1" height="1.1"/><rect x="528.7" y="200.6" width="1.1" height="1.1"/><rect x="539.3" y="198.3" width="1.1" height="1.1"/><rect x="589.4" y="181.7" width="1.1" height="1.1"/><rect x="497.8" y="204.7" width="1.1" height="1.1"/><rect x="517.3" y="200.9" width="1.1" height="1.1"/><rect x="506.9" y="200.7" width="1.1" height="1.1"/><rect x="592.5" y="188.3" width="1.1" height="1.1"/><rect x="549.6" y="188.0" width="1.1" height="1.1"/><rect x="529.8" y="197.4" width="1.1" height="1.1"/><rect x="568.3" y="190.3" width="1.1" height="1.1"/><rect x="503.4" y="202.5" width="1.1" height="1.1"/><rect x="507.8" y="198.4" width="1.1" height="1.1"/><rect x="573.3" y="190.1" width="1.1" height="1.1"/><rect x="534.0" y="197.8" width="1.1" height="1.1"/><rect x="564.6" y="179.4" width="1.1" height="1.1"/><rect x="598.8" y="187.5" width="1.1" height="1.1"/><rect x="560.6" y="191.6" width="1.1" height="1.1"/><rect x="571.2" y="188.6" width="1.1" height="1.1"/><rect x="553.2" y="189.5" width="1.1" height="1.1"/><rect x="522.7" y="197.1" width="1.1" height="1.1"/><rect x="511.0" y="203.7" width="1.1" height="1.1"/><rect x="557.1" y="191.9" width="1.1" height="1.1"/><rect x="578.9" y="186.8" width="1.1" height="1.1"/><rect x="555.6" y="190.2" width="1.1" height="1.1"/><rect x="554.2" y="190.4" width="1.1" height="1.1"/><rect x="498.0" y="205.5" width="1.1" height="1.1"/><rect x="502.4" y="204.6" width="1.1" height="1.1"/><rect x="574.4" y="188.8" width="1.1" height="1.1"/><rect x="521.4" y="201.5" width="1.1" height="1.1"/><rect x="506.0" y="203.8" width="1.1" height="1.1"/><rect x="545.6" y="194.3" width="1.1" height="1.1"/><rect x="575.3" y="187.6" width="1.1" height="1.1"/><rect x="519.3" y="200.2" width="1.1" height="1.1"/><rect x="543.1" y="191.4" width="1.1" height="1.1"/><rect x="548.3" y="191.6" width="1.1" height="1.1"/><rect x="515.1" y="202.0" width="1.1" height="1.1"/><rect x="503.6" y="204.0" width="1.1" height="1.1"/><rect x="505.6" y="204.5" width="1.1" height="1.1"/><rect x="563.3" y="189.2" width="1.1" height="1.1"/><rect x="549.2" y="194.3" width="1.1" height="1.1"/><rect x="592.9" y="189.3" width="1.1" height="1.1"/><rect x="527.9" y="199.3" width="1.1" height="1.1"/><rect x="529.9" y="196.3" width="1.1" height="1.1"/><rect x="540.6" y="195.1" width="1.1" height="1.1"/><rect x="513.5" y="202.7" width="1.1" height="1.1"/><rect x="583.7" y="188.4" width="1.1" height="1.1"/><rect x="563.2" y="189.2" width="1.1" height="1.1"/><rect x="502.5" y="203.2" width="1.1" height="1.1"/><rect x="548.7" y="195.1" width="1.1" height="1.1"/><rect x="572.9" y="188.7" width="1.1" height="1.1"/><rect x="570.3" y="188.2" width="1.1" height="1.1"/><rect x="565.4" y="191.7" width="1.1" height="1.1"/><rect x="541.1" y="197.2" width="1.1" height="1.1"/><rect x="589.4" y="187.5" width="1.1" height="1.1"/><rect x="496.8" y="206.9" width="1.1" height="1.1"/><rect x="516.9" y="200.5" width="1.1" height="1.1"/><rect x="505.5" y="202.4" width="1.1" height="1.1"/><rect x="531.0" y="190.6" width="1.1" height="1.1"/><rect x="523.9" y="201.0" width="1.1" height="1.1"/><rect x="537.7" y="196.7" width="1.1" height="1.1"/><rect x="567.4" y="189.2" width="1.1" height="1.1"/><rect x="503.7" y="205.4" width="1.1" height="1.1"/><rect x="552.4" y="186.3" width="1.1" height="1.1"/><rect x="506.7" y="205.1" width="1.1" height="1.1"/><rect x="548.2" y="193.7" width="1.1" height="1.1"/><rect x="565.4" y="191.7" width="1.1" height="1.1"/><rect x="547.5" y="195.2" width="1.1" height="1.1"/><rect x="592.6" y="185.7" width="1.1" height="1.1"/><rect x="580.3" y="187.0" width="1.1" height="1.1"/><rect x="546.3" y="196.3" width="1.1" height="1.1"/><rect x="509.5" y="203.2" width="1.1" height="1.1"/><rect x="556.0" y="188.5" width="1.1" height="1.1"/><rect x="597.0" y="183.7" width="1.1" height="1.1"/><rect x="578.9" y="187.7" width="1.1" height="1.1"/><rect x="508.1" y="204.8" width="1.1" height="1.1"/><rect x="556.5" y="192.8" width="1.1" height="1.1"/><rect x="570.9" y="186.9" width="1.1" height="1.1"/><rect x="534.2" y="195.4" width="1.1" height="1.1"/><rect x="569.8" y="188.9" width="1.1" height="1.1"/><rect x="541.6" y="188.1" width="1.1" height="1.1"/><rect x="496.8" y="204.0" width="1.1" height="1.1"/><rect x="585.5" y="184.9" width="1.1" height="1.1"/><rect x="562.0" y="188.0" width="1.1" height="1.1"/><rect x="570.3" y="183.6" width="1.1" height="1.1"/><rect x="508.3" y="202.1" width="1.1" height="1.1"/><rect x="496.8" y="204.8" width="1.1" height="1.1"/><rect x="500.8" y="203.4" width="1.1" height="1.1"/><rect x="599.1" y="184.2" width="1.1" height="1.1"/><rect x="529.2" y="196.0" width="1.1" height="1.1"/><rect x="585.6" y="184.6" width="1.1" height="1.1"/><rect x="557.0" y="188.2" width="1.1" height="1.1"/><rect x="594.1" y="188.4" width="1.1" height="1.1"/><rect x="554.7" y="192.8" width="1.1" height="1.1"/><rect x="546.2" y="192.4" width="1.1" height="1.1"/><rect x="531.2" y="197.6" width="1.1" height="1.1"/><rect x="557.0" y="190.5" width="1.1" height="1.1"/><rect x="519.4" y="202.3" width="1.1" height="1.1"/><rect x="548.4" y="191.7" width="1.1" height="1.1"/><rect x="539.6" y="197.2" width="1.1" height="1.1"/><rect x="551.2" y="193.2" width="1.1" height="1.1"/><rect x="524.9" y="201.2" width="1.1" height="1.1"/><rect x="576.9" y="183.1" width="1.1" height="1.1"/><rect x="549.7" y="195.6" width="1.1" height="1.1"/><rect x="549.1" y="187.3" width="1.1" height="1.1"/><rect x="535.1" y="198.6" width="1.1" height="1.1"/><rect x="569.4" y="186.8" width="1.1" height="1.1"/><rect x="580.8" y="182.1" width="1.1" height="1.1"/><rect x="518.4" y="202.6" width="1.1" height="1.1"/><rect x="543.0" y="195.6" width="1.1" height="1.1"/><rect x="533.5" y="197.6" width="1.1" height="1.1"/><rect x="574.2" y="190.0" width="1.1" height="1.1"/><rect x="520.5" y="200.6" width="1.1" height="1.1"/><rect x="577.2" y="186.1" width="1.1" height="1.1"/><rect x="561.9" y="187.6" width="1.1" height="1.1"/><rect x="567.9" y="191.1" width="1.1" height="1.1"/><rect x="533.6" y="198.6" width="1.1" height="1.1"/><rect x="499.8" y="203.8" width="1.1" height="1.1"/><rect x="565.5" y="190.7" width="1.1" height="1.1"/><rect x="596.0" y="189.5" width="1.1" height="1.1"/><rect x="531.2" y="198.1" width="1.1" height="1.1"/><rect x="507.6" y="204.0" width="1.1" height="1.1"/><rect x="546.7" y="190.7" width="1.1" height="1.1"/><rect x="534.5" y="199.1" width="1.1" height="1.1"/><rect x="569.8" y="186.0" width="1.1" height="1.1"/><rect x="588.7" y="183.6" width="1.1" height="1.1"/><rect x="541.7" y="192.0" width="1.1" height="1.1"/><rect x="539.8" y="194.6" width="1.1" height="1.1"/><rect x="515.3" y="196.4" width="1.1" height="1.1"/><rect x="512.7" y="203.0" width="1.1" height="1.1"/><rect x="584.3" y="178.7" width="1.1" height="1.1"/><rect x="530.6" y="196.3" width="1.1" height="1.1"/><rect x="540.5" y="192.2" width="1.1" height="1.1"/><rect x="516.3" y="203.2" width="1.1" height="1.1"/><rect x="508.7" y="202.4" width="1.1" height="1.1"/><rect x="589.4" y="184.8" width="1.1" height="1.1"/><rect x="557.8" y="192.2" width="1.1" height="1.1"/><rect x="522.7" y="199.2" width="1.1" height="1.1"/><rect x="535.5" y="198.9" width="1.1" height="1.1"/><rect x="497.6" y="204.3" width="1.1" height="1.1"/><rect x="530.7" y="196.4" width="1.1" height="1.1"/><rect x="566.4" y="189.7" width="1.1" height="1.1"/><rect x="498.5" y="205.9" width="1.1" height="1.1"/><rect x="565.9" y="189.1" width="1.1" height="1.1"/><rect x="517.1" y="201.8" width="1.1" height="1.1"/><rect x="584.5" y="186.1" width="1.1" height="1.1"/><rect x="556.8" y="192.3" width="1.1" height="1.1"/><rect x="555.6" y="193.7" width="1.1" height="1.1"/><rect x="530.0" y="199.9" width="1.1" height="1.1"/><rect x="562.8" y="188.6" width="1.1" height="1.1"/><rect x="509.1" y="203.0" width="1.1" height="1.1"/><rect x="518.4" y="202.0" width="1.1" height="1.1"/><rect x="533.9" y="196.5" width="1.1" height="1.1"/><rect x="589.4" y="178.8" width="1.1" height="1.1"/><rect x="521.2" y="196.5" width="1.1" height="1.1"/><rect x="584.7" y="188.7" width="1.1" height="1.1"/><rect x="535.3" y="194.8" width="1.1" height="1.1"/><rect x="500.4" y="205.3" width="1.1" height="1.1"/><rect x="524.2" y="196.5" width="1.1" height="1.1"/><rect x="576.4" y="177.0" width="1.1" height="1.1"/><rect x="502.1" y="205.4" width="1.1" height="1.1"/><rect x="535.6" y="198.7" width="1.1" height="1.1"/><rect x="576.6" y="183.8" width="1.1" height="1.1"/><rect x="583.2" y="184.8" width="1.1" height="1.1"/><rect x="578.8" y="188.4" width="1.1" height="1.1"/><rect x="507.2" y="205.1" width="1.1" height="1.1"/><rect x="541.8" y="191.8" width="1.1" height="1.1"/><rect x="598.7" y="187.4" width="1.1" height="1.1"/><rect x="518.3" y="201.3" width="1.1" height="1.1"/><rect x="496.7" y="206.5" width="1.1" height="1.1"/><rect x="534.4" y="198.8" width="1.1" height="1.1"/><rect x="541.0" y="195.1" width="1.1" height="1.1"/><rect x="568.8" y="190.9" width="1.1" height="1.1"/><rect x="549.6" y="193.4" width="1.1" height="1.1"/><rect x="549.0" y="195.6" width="1.1" height="1.1"/><rect x="547.3" y="191.2" width="1.1" height="1.1"/><rect x="518.0" y="198.9" width="1.1" height="1.1"/><rect x="586.8" y="186.4" width="1.1" height="1.1"/><rect x="559.8" y="190.4" width="1.1" height="1.1"/><rect x="554.5" y="194.1" width="1.1" height="1.1"/><rect x="594.8" y="188.1" width="1.1" height="1.1"/><rect x="534.5" y="195.8" width="1.1" height="1.1"/><rect x="551.2" y="191.6" width="1.1" height="1.1"/><rect x="530.2" y="197.6" width="1.1" height="1.1"/><rect x="531.3" y="194.7" width="1.1" height="1.1"/><rect x="539.4" y="195.2" width="1.1" height="1.1"/><rect x="537.9" y="197.9" width="1.1" height="1.1"/><rect x="513.1" y="202.0" width="1.1" height="1.1"/><rect x="542.4" y="193.1" width="1.1" height="1.1"/><rect x="538.3" y="198.1" width="1.1" height="1.1"/><rect x="543.5" y="191.0" width="1.1" height="1.1"/><rect x="582.1" y="184.0" width="1.1" height="1.1"/><rect x="499.4" y="203.9" width="1.1" height="1.1"/><rect x="519.1" y="198.5" width="1.1" height="1.1"/><rect x="566.0" y="190.2" width="1.1" height="1.1"/><rect x="547.6" y="193.8" width="1.1" height="1.1"/><rect x="514.3" y="203.7" width="1.1" height="1.1"/><rect x="562.9" y="191.4" width="1.1" height="1.1"/><rect x="562.8" y="189.5" width="1.1" height="1.1"/><rect x="510.5" y="203.4" width="1.1" height="1.1"/><rect x="548.9" y="194.4" width="1.1" height="1.1"/><rect x="528.8" y="199.3" width="1.1" height="1.1"/><rect x="546.2" y="196.0" width="1.1" height="1.1"/><rect x="560.0" y="190.9" width="1.1" height="1.1"/><rect x="566.3" y="189.0" width="1.1" height="1.1"/><rect x="552.7" y="189.9" width="1.1" height="1.1"/><rect x="555.3" y="189.7" width="1.1" height="1.1"/><rect x="519.3" y="197.6" width="1.1" height="1.1"/><rect x="554.8" y="191.8" width="1.1" height="1.1"/><rect x="574.0" y="187.2" width="1.1" height="1.1"/><rect x="596.3" y="186.8" width="1.1" height="1.1"/><rect x="581.1" y="188.2" width="1.1" height="1.1"/><rect x="559.5" y="191.7" width="1.1" height="1.1"/><rect x="499.9" y="200.5" width="1.1" height="1.1"/><rect x="571.4" y="186.0" width="1.1" height="1.1"/><rect x="524.0" y="200.9" width="1.1" height="1.1"/><rect x="581.7" y="187.0" width="1.1" height="1.1"/><rect x="550.1" y="187.7" width="1.1" height="1.1"/><rect x="541.8" y="197.1" width="1.1" height="1.1"/><rect x="582.0" y="187.2" width="1.1" height="1.1"/><rect x="585.3" y="183.7" width="1.1" height="1.1"/><rect x="517.4" y="201.2" width="1.1" height="1.1"/><rect x="499.1" y="205.5" width="1.1" height="1.1"/><rect x="531.1" y="199.2" width="1.1" height="1.1"/><rect x="560.7" y="192.3" width="1.1" height="1.1"/><rect x="508.9" y="203.8" width="1.1" height="1.1"/><rect x="525.2" y="199.5" width="1.1" height="1.1"/><rect x="591.2" y="181.3" width="1.1" height="1.1"/><rect x="598.4" y="186.3" width="1.1" height="1.1"/><rect x="541.8" y="197.0" width="1.1" height="1.1"/><rect x="591.9" y="185.6" width="1.1" height="1.1"/><rect x="580.0" y="189.2" width="1.1" height="1.1"/><rect x="505.9" y="203.7" width="1.1" height="1.1"/><rect x="591.7" y="183.1" width="1.1" height="1.1"/><rect x="585.2" y="186.9" width="1.1" height="1.1"/><rect x="511.2" y="203.6" width="1.1" height="1.1"/><rect x="577.4" y="185.2" width="1.1" height="1.1"/><rect x="543.4" y="194.4" width="1.1" height="1.1"/><rect x="525.4" y="194.2" width="1.1" height="1.1"/><rect x="573.2" y="188.8" width="1.1" height="1.1"/><rect x="568.0" y="188.5" width="1.1" height="1.1"/><rect x="537.2" y="198.6" width="1.1" height="1.1"/><rect x="594.7" y="186.7" width="1.1" height="1.1"/><rect x="534.4" y="195.6" width="1.1" height="1.1"/><rect x="499.2" y="206.7" width="1.1" height="1.1"/><rect x="574.1" y="190.1" width="1.1" height="1.1"/><rect x="533.2" y="193.0" width="1.1" height="1.1"/><rect x="518.1" y="200.4" width="1.1" height="1.1"/><rect x="564.2" y="186.7" width="1.1" height="1.1"/><rect x="538.3" y="196.7" width="1.1" height="1.1"/><rect x="591.1" y="188.9" width="1.1" height="1.1"/><rect x="545.0" y="190.5" width="1.1" height="1.1"/><rect x="516.8" y="203.2" width="1.1" height="1.1"/><rect x="570.9" y="186.0" width="1.1" height="1.1"/><rect x="506.2" y="201.6" width="1.1" height="1.1"/><rect x="524.9" y="199.4" width="1.1" height="1.1"/><rect x="535.3" y="196.5" width="1.1" height="1.1"/><rect x="556.1" y="193.2" width="1.1" height="1.1"/><rect x="496.6" y="204.8" width="1.1" height="1.1"/><rect x="578.7" y="189.5" width="1.1" height="1.1"/><rect x="553.3" y="187.4" width="1.1" height="1.1"/><rect x="558.4" y="192.1" width="1.1" height="1.1"/><rect x="576.5" y="188.4" width="1.1" height="1.1"/><rect x="526.5" y="197.8" width="1.1" height="1.1"/><rect x="566.3" y="186.1" width="1.1" height="1.1"/><rect x="580.4" y="183.2" width="1.1" height="1.1"/><rect x="594.6" y="187.2" width="1.1" height="1.1"/><rect x="515.9" y="201.2" width="1.1" height="1.1"/><rect x="548.9" y="193.6" width="1.1" height="1.1"/><rect x="511.8" y="203.4" width="1.1" height="1.1"/><rect x="536.4" y="192.3" width="1.1" height="1.1"/><rect x="511.8" y="202.9" width="1.1" height="1.1"/><rect x="516.0" y="200.1" width="1.1" height="1.1"/><rect x="545.4" y="193.0" width="1.1" height="1.1"/><rect x="548.3" y="195.1" width="1.1" height="1.1"/><rect x="582.6" y="178.7" width="1.1" height="1.1"/><rect x="517.0" y="202.7" width="1.1" height="1.1"/><rect x="500.4" y="206.3" width="1.1" height="1.1"/><rect x="551.9" y="190.2" width="1.1" height="1.1"/><rect x="518.9" y="202.6" width="1.1" height="1.1"/><rect x="571.3" y="187.1" width="1.1" height="1.1"/><rect x="520.0" y="198.9" width="1.1" height="1.1"/><rect x="534.7" y="197.4" width="1.1" height="1.1"/><rect x="545.9" y="191.9" width="1.1" height="1.1"/><rect x="567.7" y="189.0" width="1.1" height="1.1"/><rect x="512.2" y="199.9" width="1.1" height="1.1"/><rect x="506.9" y="204.0" width="1.1" height="1.1"/><rect x="582.9" y="188.1" width="1.1" height="1.1"/><rect x="522.0" y="201.7" width="1.1" height="1.1"/><rect x="505.1" y="205.8" width="1.1" height="1.1"/><rect x="546.9" y="194.9" width="1.1" height="1.1"/><rect x="522.2" y="201.3" width="1.1" height="1.1"/><rect x="534.7" y="195.9" width="1.1" height="1.1"/><rect x="577.7" y="189.5" width="1.1" height="1.1"/><rect x="519.5" y="201.5" width="1.1" height="1.1"/><rect x="497.3" y="206.7" width="1.1" height="1.1"/><rect x="568.3" y="189.4" width="1.1" height="1.1"/><rect x="576.8" y="186.9" width="1.1" height="1.1"/><rect x="500.2" y="206.7" width="1.1" height="1.1"/><rect x="574.4" y="181.7" width="1.1" height="1.1"/><rect x="536.9" y="194.8" width="1.1" height="1.1"/><rect x="528.6" y="193.8" width="1.1" height="1.1"/><rect x="549.2" y="191.8" width="1.1" height="1.1"/><rect x="541.8" y="192.1" width="1.1" height="1.1"/><rect x="582.0" y="186.3" width="1.1" height="1.1"/><rect x="545.5" y="195.2" width="1.1" height="1.1"/><rect x="588.3" y="184.8" width="1.1" height="1.1"/><rect x="538.4" y="196.3" width="1.1" height="1.1"/><rect x="544.0" y="193.3" width="1.1" height="1.1"/><rect x="555.7" y="194.0" width="1.1" height="1.1"/><rect x="585.5" y="183.1" width="1.1" height="1.1"/><rect x="504.7" y="202.1" width="1.1" height="1.1"/><rect x="597.2" y="183.9" width="1.1" height="1.1"/><rect x="497.8" y="204.7" width="1.1" height="1.1"/><rect x="583.3" y="184.4" width="1.1" height="1.1"/><rect x="544.9" y="194.9" width="1.1" height="1.1"/><rect x="569.9" y="188.2" width="1.1" height="1.1"/><rect x="571.5" y="188.9" width="1.1" height="1.1"/><rect x="564.1" y="186.5" width="1.1" height="1.1"/><rect x="564.2" y="187.7" width="1.1" height="1.1"/><rect x="529.9" y="200.2" width="1.1" height="1.1"/><rect x="558.0" y="192.5" width="1.1" height="1.1"/><rect x="565.5" y="190.0" width="1.1" height="1.1"/><rect x="526.0" y="200.9" width="1.1" height="1.1"/><rect x="552.7" y="191.7" width="1.1" height="1.1"/><rect x="579.7" y="184.1" width="1.1" height="1.1"/><rect x="503.5" y="203.2" width="1.1" height="1.1"/><rect x="592.9" y="181.7" width="1.1" height="1.1"/><rect x="534.4" y="198.8" width="1.1" height="1.1"/><rect x="515.0" y="201.1" width="1.1" height="1.1"/><rect x="539.2" y="196.0" width="1.1" height="1.1"/><rect x="509.1" y="202.7" width="1.1" height="1.1"/><rect x="596.1" y="190.2" width="1.1" height="1.1"/><rect x="535.9" y="197.0" width="1.1" height="1.1"/><rect x="596.2" y="189.4" width="1.1" height="1.1"/><rect x="529.6" y="197.0" width="1.1" height="1.1"/><rect x="536.9" y="193.8" width="1.1" height="1.1"/><rect x="574.2" y="189.9" width="1.1" height="1.1"/><rect x="500.8" y="205.4" width="1.1" height="1.1"/><rect x="542.7" y="195.9" width="1.1" height="1.1"/><rect x="541.8" y="196.1" width="1.1" height="1.1"/><rect x="575.0" y="189.8" width="1.1" height="1.1"/><rect x="549.9" y="193.5" width="1.1" height="1.1"/><rect x="540.3" y="191.2" width="1.1" height="1.1"/><rect x="521.0" y="200.2" width="1.1" height="1.1"/><rect x="554.2" y="193.6" width="1.1" height="1.1"/><rect x="542.2" y="197.2" width="1.1" height="1.1"/><rect x="590.8" y="187.2" width="1.1" height="1.1"/><rect x="569.6" y="185.6" width="1.1" height="1.1"/><rect x="502.9" y="205.1" width="1.1" height="1.1"/><rect x="527.5" y="200.5" width="1.1" height="1.1"/><rect x="570.2" y="186.7" width="1.1" height="1.1"/><rect x="509.5" y="204.6" width="1.1" height="1.1"/><rect x="545.2" y="194.8" width="1.1" height="1.1"/><rect x="519.4" y="202.8" width="1.1" height="1.1"/><rect x="504.8" y="204.3" width="1.1" height="1.1"/><rect x="549.8" y="194.4" width="1.1" height="1.1"/><rect x="510.6" y="203.5" width="1.1" height="1.1"/><rect x="522.4" y="199.4" width="1.1" height="1.1"/><rect x="521.3" y="202.1" width="1.1" height="1.1"/><rect x="572.9" y="189.3" width="1.1" height="1.1"/><rect x="506.5" y="202.9" width="1.1" height="1.1"/><rect x="558.0" y="192.2" width="1.1" height="1.1"/><rect x="585.4" y="187.6" width="1.1" height="1.1"/><rect x="567.9" y="190.4" width="1.1" height="1.1"/><rect x="557.0" y="193.3" width="1.1" height="1.1"/><rect x="547.6" y="193.3" width="1.1" height="1.1"/><rect x="515.7" y="201.5" width="1.1" height="1.1"/><rect x="556.8" y="192.7" width="1.1" height="1.1"/><rect x="527.3" y="200.6" width="1.1" height="1.1"/><rect x="505.3" y="201.9" width="1.1" height="1.1"/><rect x="579.0" y="186.4" width="1.1" height="1.1"/><rect x="508.3" y="205.1" width="1.1" height="1.1"/><rect x="548.9" y="189.9" width="1.1" height="1.1"/><rect x="535.0" y="199.4" width="1.1" height="1.1"/><rect x="538.9" y="196.4" width="1.1" height="1.1"/><rect x="597.5" y="189.0" width="1.1" height="1.1"/><rect x="588.4" y="177.9" width="1.1" height="1.1"/><rect x="522.9" y="201.8" width="1.1" height="1.1"/><rect x="580.3" y="187.2" width="1.1" height="1.1"/><rect x="599.2" y="190.1" width="1.1" height="1.1"/><rect x="563.2" y="190.5" width="1.1" height="1.1"/><rect x="504.6" y="202.7" width="1.1" height="1.1"/><rect x="585.4" y="187.4" width="1.1" height="1.1"/><rect x="559.9" y="190.4" width="1.1" height="1.1"/><rect x="516.4" y="199.0" width="1.1" height="1.1"/><rect x="506.3" y="204.5" width="1.1" height="1.1"/><rect x="564.5" y="188.4" width="1.1" height="1.1"/><rect x="563.3" y="189.5" width="1.1" height="1.1"/><rect x="567.2" y="188.8" width="1.1" height="1.1"/><rect x="595.3" y="189.5" width="1.1" height="1.1"/><rect x="536.7" y="196.1" width="1.1" height="1.1"/><rect x="568.2" y="189.4" width="1.1" height="1.1"/><rect x="572.7" y="187.9" width="1.1" height="1.1"/><rect x="555.1" y="191.1" width="1.1" height="1.1"/><rect x="549.5" y="192.2" width="1.1" height="1.1"/><rect x="595.8" y="179.5" width="1.1" height="1.1"/><rect x="576.5" y="185.0" width="1.1" height="1.1"/><rect x="582.9" y="188.9" width="1.1" height="1.1"/><rect x="521.2" y="202.4" width="1.1" height="1.1"/><rect x="593.1" y="181.8" width="1.1" height="1.1"/><rect x="582.3" y="186.6" width="1.1" height="1.1"/><rect x="577.6" y="187.4" width="1.1" height="1.1"/><rect x="545.4" y="195.5" width="1.1" height="1.1"/><rect x="578.7" y="185.7" width="1.1" height="1.1"/><rect x="583.3" y="185.3" width="1.1" height="1.1"/><rect x="514.0" y="200.4" width="1.1" height="1.1"/><rect x="512.5" y="202.5" width="1.1" height="1.1"/><rect x="531.1" y="199.4" width="1.1" height="1.1"/><rect x="507.0" y="203.0" width="1.1" height="1.1"/><rect x="519.5" y="198.9" width="1.1" height="1.1"/><rect x="583.8" y="184.8" width="1.1" height="1.1"/><rect x="527.6" y="195.6" width="1.1" height="1.1"/><rect x="524.0" y="201.6" width="1.1" height="1.1"/><rect x="541.3" y="197.6" width="1.1" height="1.1"/><rect x="535.6" y="192.5" width="1.1" height="1.1"/><rect x="535.1" y="198.9" width="1.1" height="1.1"/><rect x="496.5" y="205.7" width="1.1" height="1.1"/><rect x="522.5" y="201.8" width="1.1" height="1.1"/><rect x="499.0" y="203.7" width="1.1" height="1.1"/><rect x="556.4" y="190.4" width="1.1" height="1.1"/><rect x="548.4" y="196.0" width="1.1" height="1.1"/><rect x="596.4" y="186.9" width="1.1" height="1.1"/><rect x="534.8" y="192.4" width="1.1" height="1.1"/><rect x="509.3" y="204.6" width="1.1" height="1.1"/><rect x="583.8" y="181.8" width="1.1" height="1.1"/><rect x="579.8" y="188.6" width="1.1" height="1.1"/><rect x="568.1" y="183.9" width="1.1" height="1.1"/><rect x="512.4" y="202.7" width="1.1" height="1.1"/><rect x="552.0" y="194.7" width="1.1" height="1.1"/><rect x="516.2" y="200.6" width="1.1" height="1.1"/><rect x="569.4" y="184.3" width="1.1" height="1.1"/><rect x="561.2" y="189.7" width="1.1" height="1.1"/><rect x="558.2" y="187.1" width="1.1" height="1.1"/><rect x="554.8" y="191.0" width="1.1" height="1.1"/><rect x="530.0" y="197.8" width="1.1" height="1.1"/><rect x="507.0" y="204.3" width="1.1" height="1.1"/><rect x="530.8" y="198.4" width="1.1" height="1.1"/><rect x="563.0" y="183.3" width="1.1" height="1.1"/><rect x="564.7" y="185.4" width="1.1" height="1.1"/><rect x="542.3" y="195.3" width="1.1" height="1.1"/><rect x="544.0" y="197.0" width="1.1" height="1.1"/><rect x="507.8" y="202.9" width="1.1" height="1.1"/><rect x="560.3" y="192.0" width="1.1" height="1.1"/><rect x="566.9" y="188.6" width="1.1" height="1.1"/><rect x="588.4" y="187.4" width="1.1" height="1.1"/><rect x="547.2" y="194.9" width="1.1" height="1.1"/><rect x="530.9" y="189.7" width="1.1" height="1.1"/><rect x="542.3" y="193.9" width="1.1" height="1.1"/><rect x="578.1" y="187.9" width="1.1" height="1.1"/><rect x="596.5" y="188.8" width="1.1" height="1.1"/><rect x="514.4" y="201.1" width="1.1" height="1.1"/><rect x="498.3" y="205.8" width="1.1" height="1.1"/><rect x="546.0" y="188.9" width="1.1" height="1.1"/><rect x="539.1" y="193.9" width="1.1" height="1.1"/><rect x="584.0" y="187.9" width="1.1" height="1.1"/><rect x="520.9" y="198.6" width="1.1" height="1.1"/><rect x="527.8" y="197.9" width="1.1" height="1.1"/><rect x="562.9" y="192.2" width="1.1" height="1.1"/><rect x="548.5" y="193.8" width="1.1" height="1.1"/><rect x="599.1" y="186.2" width="1.1" height="1.1"/><rect x="517.3" y="203.1" width="1.1" height="1.1"/><rect x="506.1" y="205.2" width="1.1" height="1.1"/><rect x="502.2" y="201.9" width="1.1" height="1.1"/><rect x="568.3" y="187.5" width="1.1" height="1.1"/><rect x="596.0" y="187.3" width="1.1" height="1.1"/><rect x="556.2" y="189.6" width="1.1" height="1.1"/><rect x="497.7" y="205.7" width="1.1" height="1.1"/><rect x="560.4" y="191.0" width="1.1" height="1.1"/><rect x="503.2" y="203.7" width="1.1" height="1.1"/><rect x="547.1" y="195.5" width="1.1" height="1.1"/><rect x="538.1" y="194.2" width="1.1" height="1.1"/><rect x="578.9" y="185.3" width="1.1" height="1.1"/><rect x="558.1" y="189.6" width="1.1" height="1.1"/><rect x="586.2" y="184.8" width="1.1" height="1.1"/><rect x="598.1" y="191.7" width="1.1" height="1.1"/><rect x="586.9" y="187.7" width="1.1" height="1.1"/><rect x="564.9" y="190.4" width="1.1" height="1.1"/><rect x="581.5" y="179.2" width="1.1" height="1.1"/><rect x="588.6" y="189.1" width="1.1" height="1.1"/><rect x="535.5" y="194.9" width="1.1" height="1.1"/><rect x="526.9" y="201.1" width="1.1" height="1.1"/><rect x="530.6" y="195.9" width="1.1" height="1.1"/><rect x="552.4" y="190.5" width="1.1" height="1.1"/><rect x="590.5" y="186.6" width="1.1" height="1.1"/><rect x="554.8" y="193.4" width="1.1" height="1.1"/><rect x="543.8" y="197.2" width="1.1" height="1.1"/><rect x="553.3" y="193.3" width="1.1" height="1.1"/><rect x="560.6" y="182.4" width="1.1" height="1.1"/><rect x="545.7" y="193.8" width="1.1" height="1.1"/><rect x="569.1" y="187.1" width="1.1" height="1.1"/><rect x="594.0" y="185.5" width="1.1" height="1.1"/><rect x="586.7" y="188.7" width="1.1" height="1.1"/><rect x="502.6" y="206.1" width="1.1" height="1.1"/><rect x="563.2" y="191.4" width="1.1" height="1.1"/><rect x="578.9" y="189.4" width="1.1" height="1.1"/><rect x="519.8" y="199.9" width="1.1" height="1.1"/><rect x="569.0" y="185.3" width="1.1" height="1.1"/><rect x="530.0" y="199.8" width="1.1" height="1.1"/><rect x="556.9" y="187.3" width="1.1" height="1.1"/><rect x="594.5" y="187.6" width="1.1" height="1.1"/><rect x="521.9" y="199.4" width="1.1" height="1.1"/><rect x="532.1" y="199.8" width="1.1" height="1.1"/><rect x="579.2" y="187.0" width="1.1" height="1.1"/><rect x="576.2" y="185.0" width="1.1" height="1.1"/><rect x="592.8" y="185.6" width="1.1" height="1.1"/><rect x="547.2" y="196.0" width="1.1" height="1.1"/><rect x="592.9" y="184.6" width="1.1" height="1.1"/><rect x="537.4" y="193.2" width="1.1" height="1.1"/><rect x="552.9" y="193.6" width="1.1" height="1.1"/><rect x="530.4" y="200.0" width="1.1" height="1.1"/><rect x="512.5" y="202.7" width="1.1" height="1.1"/><rect x="568.6" y="188.4" width="1.1" height="1.1"/><rect x="556.2" y="188.9" width="1.1" height="1.1"/><rect x="548.7" y="191.3" width="1.1" height="1.1"/><rect x="511.2" y="202.3" width="1.1" height="1.1"/><rect x="518.8" y="198.0" width="1.1" height="1.1"/><rect x="593.2" y="188.1" width="1.1" height="1.1"/><rect x="496.6" y="205.8" width="1.1" height="1.1"/><rect x="585.8" y="188.1" width="1.1" height="1.1"/><rect x="575.4" y="188.4" width="1.1" height="1.1"/><rect x="576.1" y="184.5" width="1.1" height="1.1"/><rect x="597.9" y="184.7" width="1.1" height="1.1"/><rect x="530.2" y="196.8" width="1.1" height="1.1"/><rect x="528.7" y="194.6" width="1.1" height="1.1"/><rect x="566.9" y="188.3" width="1.1" height="1.1"/><rect x="554.8" y="187.4" width="1.1" height="1.1"/><rect x="524.8" y="201.8" width="1.1" height="1.1"/><rect x="510.4" y="201.2" width="1.1" height="1.1"/><rect x="585.0" y="186.3" width="1.1" height="1.1"/><rect x="568.3" y="189.2" width="1.1" height="1.1"/><rect x="565.8" y="186.6" width="1.1" height="1.1"/><rect x="575.4" y="184.8" width="1.1" height="1.1"/><rect x="528.0" y="199.0" width="1.1" height="1.1"/><rect x="575.9" y="188.0" width="1.1" height="1.1"/><rect x="544.5" y="196.2" width="1.1" height="1.1"/><rect x="507.4" y="203.8" width="1.1" height="1.1"/><rect x="532.4" y="198.6" width="1.1" height="1.1"/><rect x="504.0" y="204.9" width="1.1" height="1.1"/><rect x="574.0" y="184.9" width="1.1" height="1.1"/><rect x="505.0" y="203.6" width="1.1" height="1.1"/><rect x="521.9" y="199.2" width="1.1" height="1.1"/><rect x="538.6" y="192.5" width="1.1" height="1.1"/><rect x="542.8" y="194.3" width="1.1" height="1.1"/><rect x="521.4" y="202.0" width="1.1" height="1.1"/><rect x="577.7" y="188.1" width="1.1" height="1.1"/><rect x="551.2" y="188.8" width="1.1" height="1.1"/><rect x="568.5" y="188.3" width="1.1" height="1.1"/><rect x="526.6" y="199.2" width="1.1" height="1.1"/><rect x="525.5" y="201.6" width="1.1" height="1.1"/><rect x="530.0" y="198.4" width="1.1" height="1.1"/><rect x="525.5" y="198.7" width="1.1" height="1.1"/><rect x="546.0" y="192.7" width="1.1" height="1.1"/><rect x="535.6" y="192.2" width="1.1" height="1.1"/><rect x="542.8" y="193.5" width="1.1" height="1.1"/><rect x="554.8" y="192.4" width="1.1" height="1.1"/><rect x="523.1" y="200.4" width="1.1" height="1.1"/><rect x="507.1" y="200.7" width="1.1" height="1.1"/><rect x="512.6" y="204.3" width="1.1" height="1.1"/><rect x="541.0" y="193.9" width="1.1" height="1.1"/><rect x="535.8" y="199.1" width="1.1" height="1.1"/><rect x="582.9" y="185.7" width="1.1" height="1.1"/><rect x="509.2" y="203.3" width="1.1" height="1.1"/><rect x="562.0" y="192.1" width="1.1" height="1.1"/><rect x="564.4" y="182.7" width="1.1" height="1.1"/><rect x="528.1" y="198.4" width="1.1" height="1.1"/><rect x="542.4" y="197.4" width="1.1" height="1.1"/><rect x="544.7" y="190.3" width="1.1" height="1.1"/><rect x="591.9" y="183.9" width="1.1" height="1.1"/><rect x="545.7" y="194.8" width="1.1" height="1.1"/><rect x="591.3" y="188.7" width="1.1" height="1.1"/><rect x="562.4" y="189.6" width="1.1" height="1.1"/><rect x="598.5" y="188.3" width="1.1" height="1.1"/><rect x="499.0" y="204.2" width="1.1" height="1.1"/><rect x="535.0" y="194.3" width="1.1" height="1.1"/><rect x="581.8" y="187.6" width="1.1" height="1.1"/><rect x="544.7" y="191.1" width="1.1" height="1.1"/><rect x="538.8" y="196.5" width="1.1" height="1.1"/><rect x="571.7" y="183.3" width="1.1" height="1.1"/><rect x="505.6" y="203.8" width="1.1" height="1.1"/><rect x="535.1" y="199.1" width="1.1" height="1.1"/><rect x="539.2" y="191.9" width="1.1" height="1.1"/><rect x="593.8" y="184.9" width="1.1" height="1.1"/><rect x="561.7" y="191.5" width="1.1" height="1.1"/><rect x="503.5" y="205.1" width="1.1" height="1.1"/><rect x="549.9" y="192.1" width="1.1" height="1.1"/><rect x="597.6" y="188.9" width="1.1" height="1.1"/><rect x="539.1" y="196.4" width="1.1" height="1.1"/><rect x="514.1" y="201.6" width="1.1" height="1.1"/><rect x="593.2" y="184.3" width="1.1" height="1.1"/><rect x="540.3" y="195.8" width="1.1" height="1.1"/><rect x="522.2" y="200.9" width="1.1" height="1.1"/><rect x="542.4" y="193.8" width="1.1" height="1.1"/><rect x="597.3" y="188.3" width="1.1" height="1.1"/><rect x="502.0" y="205.7" width="1.1" height="1.1"/><rect x="512.8" y="201.4" width="1.1" height="1.1"/><rect x="588.0" y="182.4" width="1.1" height="1.1"/><rect x="520.8" y="202.0" width="1.1" height="1.1"/><rect x="551.8" y="191.1" width="1.1" height="1.1"/><rect x="551.3" y="193.9" width="1.1" height="1.1"/><rect x="565.2" y="191.5" width="1.1" height="1.1"/><rect x="567.4" y="184.5" width="1.1" height="1.1"/><rect x="580.9" y="182.5" width="1.1" height="1.1"/><rect x="527.5" y="197.5" width="1.1" height="1.1"/><rect x="563.8" y="190.1" width="1.1" height="1.1"/><rect x="519.6" y="199.5" width="1.1" height="1.1"/><rect x="500.0" y="206.0" width="1.1" height="1.1"/><rect x="572.3" y="188.1" width="1.1" height="1.1"/><rect x="542.4" y="195.6" width="1.1" height="1.1"/><rect x="520.4" y="202.0" width="1.1" height="1.1"/><rect x="580.5" y="186.8" width="1.1" height="1.1"/><rect x="543.1" y="196.7" width="1.1" height="1.1"/><rect x="579.6" y="185.5" width="1.1" height="1.1"/><rect x="557.8" y="191.4" width="1.1" height="1.1"/><rect x="554.3" y="191.3" width="1.1" height="1.1"/><rect x="516.1" y="199.2" width="1.1" height="1.1"/><rect x="551.3" y="194.4" width="1.1" height="1.1"/><rect x="562.2" y="189.6" width="1.1" height="1.1"/><rect x="520.2" y="201.2" width="1.1" height="1.1"/><rect x="583.3" y="184.1" width="1.1" height="1.1"/><rect x="585.9" y="188.6" width="1.1" height="1.1"/><rect x="577.1" y="189.2" width="1.1" height="1.1"/><rect x="520.4" y="200.2" width="1.1" height="1.1"/><rect x="569.0" y="189.0" width="1.1" height="1.1"/><rect x="532.5" y="194.9" width="1.1" height="1.1"/><rect x="574.8" y="183.0" width="1.1" height="1.1"/><rect x="598.0" y="187.7" width="1.1" height="1.1"/><rect x="535.4" y="198.9" width="1.1" height="1.1"/><rect x="586.8" y="189.0" width="1.1" height="1.1"/><rect x="499.5" y="204.4" width="1.1" height="1.1"/><rect x="575.7" y="188.9" width="1.1" height="1.1"/><rect x="528.9" y="199.4" width="1.1" height="1.1"/><rect x="553.1" y="188.2" width="1.1" height="1.1"/><rect x="574.3" y="189.1" width="1.1" height="1.1"/><rect x="575.9" y="190.0" width="1.1" height="1.1"/><rect x="518.9" y="203.0" width="1.1" height="1.1"/><rect x="523.1" y="202.2" width="1.1" height="1.1"/><rect x="565.0" y="191.5" width="1.1" height="1.1"/><rect x="542.1" y="192.6" width="1.1" height="1.1"/><rect x="571.9" y="189.2" width="1.1" height="1.1"/><rect x="551.6" y="192.9" width="1.1" height="1.1"/><rect x="558.0" y="193.3" width="1.1" height="1.1"/><rect x="528.5" y="198.9" width="1.1" height="1.1"/><rect x="531.8" y="197.7" width="1.1" height="1.1"/><rect x="571.6" y="188.4" width="1.1" height="1.1"/><rect x="555.9" y="191.1" width="1.1" height="1.1"/><rect x="508.5" y="201.1" width="1.1" height="1.1"/><rect x="573.8" y="189.2" width="1.1" height="1.1"/><rect x="522.4" y="201.2" width="1.1" height="1.1"/><rect x="549.5" y="194.8" width="1.1" height="1.1"/><rect x="593.1" y="179.5" width="1.1" height="1.1"/><rect x="525.6" y="201.7" width="1.1" height="1.1"/><rect x="554.2" y="188.5" width="1.1" height="1.1"/><rect x="522.7" y="194.8" width="1.1" height="1.1"/><rect x="497.8" y="205.2" width="1.1" height="1.1"/><rect x="530.5" y="199.6" width="1.1" height="1.1"/><rect x="540.8" y="196.0" width="1.1" height="1.1"/><rect x="589.0" y="180.3" width="1.1" height="1.1"/><rect x="528.3" y="200.1" width="1.1" height="1.1"/><rect x="497.8" y="205.5" width="1.1" height="1.1"/><rect x="518.3" y="201.8" width="1.1" height="1.1"/><rect x="508.5" y="204.2" width="1.1" height="1.1"/><rect x="515.0" y="202.7" width="1.1" height="1.1"/><rect x="522.2" y="199.4" width="1.1" height="1.1"/><rect x="527.9" y="199.5" width="1.1" height="1.1"/><rect x="550.6" y="194.5" width="1.1" height="1.1"/><rect x="531.8" y="194.9" width="1.1" height="1.1"/><rect x="591.0" y="187.7" width="1.1" height="1.1"/><rect x="545.4" y="192.3" width="1.1" height="1.1"/><rect x="530.4" y="196.0" width="1.1" height="1.1"/><rect x="559.1" y="187.1" width="1.1" height="1.1"/><rect x="506.6" y="200.4" width="1.1" height="1.1"/><rect x="499.9" y="204.3" width="1.1" height="1.1"/><rect x="568.6" y="190.8" width="1.1" height="1.1"/><rect x="582.4" y="183.6" width="1.1" height="1.1"/><rect x="532.6" y="195.1" width="1.1" height="1.1"/><rect x="516.3" y="203.5" width="1.1" height="1.1"/><rect x="561.0" y="182.6" width="1.1" height="1.1"/><rect x="515.8" y="199.9" width="1.1" height="1.1"/><rect x="569.7" y="187.6" width="1.1" height="1.1"/><rect x="508.6" y="204.5" width="1.1" height="1.1"/><rect x="511.8" y="202.7" width="1.1" height="1.1"/><rect x="578.3" y="189.3" width="1.1" height="1.1"/><rect x="506.4" y="201.6" width="1.1" height="1.1"/><rect x="509.5" y="201.0" width="1.1" height="1.1"/><rect x="518.8" y="202.7" width="1.1" height="1.1"/><rect x="592.5" y="184.0" width="1.1" height="1.1"/><rect x="531.3" y="193.6" width="1.1" height="1.1"/><rect x="531.9" y="195.2" width="1.1" height="1.1"/><rect x="596.0" y="188.2" width="1.1" height="1.1"/><rect x="552.7" y="193.3" width="1.1" height="1.1"/><rect x="593.4" y="182.5" width="1.1" height="1.1"/><rect x="576.2" y="184.3" width="1.1" height="1.1"/><rect x="573.6" y="188.8" width="1.1" height="1.1"/><rect x="595.2" y="189.0" width="1.1" height="1.1"/><rect x="507.0" y="204.5" width="1.1" height="1.1"/><rect x="529.1" y="195.7" width="1.1" height="1.1"/><rect x="567.0" y="185.6" width="1.1" height="1.1"/><rect x="500.9" y="204.3" width="1.1" height="1.1"/><rect x="592.6" y="182.9" width="1.1" height="1.1"/><rect x="545.0" y="192.6" width="1.1" height="1.1"/><rect x="580.1" y="187.7" width="1.1" height="1.1"/><rect x="499.0" y="203.9" width="1.1" height="1.1"/><rect x="546.8" y="190.0" width="1.1" height="1.1"/><rect x="566.2" y="187.7" width="1.1" height="1.1"/><rect x="540.2" y="189.7" width="1.1" height="1.1"/><rect x="595.0" y="188.3" width="1.1" height="1.1"/><rect x="504.9" y="204.6" width="1.1" height="1.1"/><rect x="558.9" y="187.2" width="1.1" height="1.1"/><rect x="498.1" y="204.7" width="1.1" height="1.1"/><rect x="557.7" y="191.7" width="1.1" height="1.1"/><rect x="580.4" y="189.3" width="1.1" height="1.1"/><rect x="591.6" y="188.2" width="1.1" height="1.1"/><rect x="524.3" y="200.3" width="1.1" height="1.1"/><rect x="598.9" y="191.5" width="1.1" height="1.1"/><rect x="572.6" y="189.9" width="1.1" height="1.1"/><rect x="588.9" y="186.6" width="1.1" height="1.1"/><rect x="564.9" y="190.1" width="1.1" height="1.1"/><rect x="539.0" y="197.6" width="1.1" height="1.1"/><rect x="593.9" y="184.6" width="1.1" height="1.1"/><rect x="502.3" y="206.3" width="1.1" height="1.1"/><rect x="599.2" y="182.5" width="1.1" height="1.1"/><rect x="583.1" y="182.2" width="1.1" height="1.1"/><rect x="571.8" y="184.2" width="1.1" height="1.1"/><rect x="547.2" y="194.9" width="1.1" height="1.1"/><rect x="547.0" y="193.7" width="1.1" height="1.1"/><rect x="579.1" y="185.4" width="1.1" height="1.1"/><rect x="510.0" y="202.7" width="1.1" height="1.1"/><rect x="523.9" y="199.7" width="1.1" height="1.1"/><rect x="521.1" y="198.3" width="1.1" height="1.1"/><rect x="555.1" y="192.9" width="1.1" height="1.1"/><rect x="588.1" y="183.5" width="1.1" height="1.1"/><rect x="598.3" y="191.4" width="1.1" height="1.1"/><rect x="518.6" y="200.4" width="1.1" height="1.1"/><rect x="528.7" y="200.7" width="1.1" height="1.1"/><rect x="509.2" y="204.3" width="1.1" height="1.1"/><rect x="591.3" y="188.7" width="1.1" height="1.1"/><rect x="546.3" y="192.5" width="1.1" height="1.1"/><rect x="571.6" y="186.0" width="1.1" height="1.1"/><rect x="574.6" y="188.0" width="1.1" height="1.1"/><rect x="517.7" y="198.7" width="1.1" height="1.1"/><rect x="553.6" y="189.1" width="1.1" height="1.1"/><rect x="513.7" y="201.2" width="1.1" height="1.1"/><rect x="531.9" y="197.5" width="1.1" height="1.1"/><rect x="597.2" y="183.3" width="1.1" height="1.1"/><rect x="508.6" y="204.8" width="1.1" height="1.1"/><rect x="571.0" y="188.8" width="1.1" height="1.1"/><rect x="573.2" y="185.9" width="1.1" height="1.1"/><rect x="549.6" y="190.5" width="1.1" height="1.1"/><rect x="554.4" y="189.5" width="1.1" height="1.1"/><rect x="564.0" y="189.4" width="1.1" height="1.1"/><rect x="557.1" y="187.2" width="1.1" height="1.1"/><rect x="555.4" y="194.0" width="1.1" height="1.1"/><rect x="509.7" y="202.3" width="1.1" height="1.1"/><rect x="541.0" y="196.4" width="1.1" height="1.1"/><rect x="554.2" y="192.0" width="1.1" height="1.1"/><rect x="540.4" y="195.5" width="1.1" height="1.1"/><rect x="534.7" y="198.1" width="1.1" height="1.1"/><rect x="498.2" y="206.9" width="1.1" height="1.1"/><rect x="570.8" y="187.1" width="1.1" height="1.1"/><rect x="557.4" y="191.1" width="1.1" height="1.1"/><rect x="534.3" y="199.6" width="1.1" height="1.1"/><rect x="586.5" y="188.2" width="1.1" height="1.1"/><rect x="593.2" y="188.2" width="1.1" height="1.1"/><rect x="529.8" y="197.1" width="1.1" height="1.1"/><rect x="502.5" y="202.4" width="1.1" height="1.1"/><rect x="521.3" y="198.9" width="1.1" height="1.1"/><rect x="522.7" y="200.5" width="1.1" height="1.1"/><rect x="544.8" y="190.8" width="1.1" height="1.1"/><rect x="536.4" y="198.5" width="1.1" height="1.1"/><rect x="585.4" y="180.7" width="1.1" height="1.1"/><rect x="584.8" y="184.3" width="1.1" height="1.1"/><rect x="597.9" y="187.3" width="1.1" height="1.1"/><rect x="570.1" y="188.5" width="1.1" height="1.1"/><rect x="502.7" y="205.9" width="1.1" height="1.1"/><rect x="571.8" y="183.5" width="1.1" height="1.1"/><rect x="565.0" y="188.8" width="1.1" height="1.1"/><rect x="545.2" y="190.3" width="1.1" height="1.1"/><rect x="560.0" y="187.3" width="1.1" height="1.1"/><rect x="506.7" y="203.0" width="1.1" height="1.1"/><rect x="522.2" y="200.7" width="1.1" height="1.1"/><rect x="592.1" y="189.1" width="1.1" height="1.1"/><rect x="520.0" y="201.3" width="1.1" height="1.1"/><rect x="531.7" y="197.6" width="1.1" height="1.1"/><rect x="541.7" y="196.4" width="1.1" height="1.1"/><rect x="580.2" y="186.5" width="1.1" height="1.1"/><rect x="530.5" y="195.7" width="1.1" height="1.1"/><rect x="593.7" y="185.5" width="1.1" height="1.1"/><rect x="558.9" y="192.4" width="1.1" height="1.1"/><rect x="507.9" y="202.0" width="1.1" height="1.1"/><rect x="562.2" y="189.6" width="1.1" height="1.1"/><rect x="531.7" y="198.6" width="1.1" height="1.1"/><rect x="554.2" y="194.1" width="1.1" height="1.1"/><rect x="514.1" y="202.6" width="1.1" height="1.1"/><rect x="589.2" y="183.0" width="1.1" height="1.1"/><rect x="549.5" y="195.6" width="1.1" height="1.1"/><rect x="524.8" y="197.6" width="1.1" height="1.1"/><rect x="577.0" y="188.0" width="1.1" height="1.1"/><rect x="541.6" y="195.5" width="1.1" height="1.1"/><rect x="590.0" y="187.7" width="1.1" height="1.1"/><rect x="510.0" y="203.2" width="1.1" height="1.1"/><rect x="518.5" y="201.6" width="1.1" height="1.1"/><rect x="574.7" y="186.4" width="1.1" height="1.1"/><rect x="538.0" y="195.3" width="1.1" height="1.1"/><rect x="576.2" y="189.4" width="1.1" height="1.1"/><rect x="589.5" y="179.7" width="1.1" height="1.1"/><rect x="522.3" y="199.2" width="1.1" height="1.1"/><rect x="597.2" y="183.9" width="1.1" height="1.1"/><rect x="535.7" y="198.5" width="1.1" height="1.1"/><rect x="524.4" y="197.6" width="1.1" height="1.1"/><rect x="533.5" y="194.5" width="1.1" height="1.1"/><rect x="568.4" y="186.2" width="1.1" height="1.1"/><rect x="517.8" y="202.4" width="1.1" height="1.1"/><rect x="514.7" y="201.6" width="1.1" height="1.1"/><rect x="552.4" y="190.0" width="1.1" height="1.1"/><rect x="496.7" y="206.8" width="1.1" height="1.1"/><rect x="503.6" y="203.3" width="1.1" height="1.1"/><rect x="523.2" y="200.8" width="1.1" height="1.1"/><rect x="553.1" y="187.8" width="1.1" height="1.1"/><rect x="530.1" y="200.6" width="1.1" height="1.1"/><rect x="525.3" y="199.1" width="1.1" height="1.1"/><rect x="532.1" y="198.7" width="1.1" height="1.1"/><rect x="568.4" y="184.0" width="1.1" height="1.1"/><rect x="587.6" y="187.8" width="1.1" height="1.1"/><rect x="501.0" y="205.5" width="1.1" height="1.1"/><rect x="513.4" y="204.0" width="1.1" height="1.1"/><rect x="581.1" y="183.8" width="1.1" height="1.1"/><rect x="556.8" y="191.2" width="1.1" height="1.1"/><rect x="597.6" y="189.9" width="1.1" height="1.1"/><rect x="574.0" y="189.6" width="1.1" height="1.1"/><rect x="597.6" y="190.2" width="1.1" height="1.1"/><rect x="522.8" y="201.4" width="1.1" height="1.1"/><rect x="563.7" y="190.6" width="1.1" height="1.1"/><rect x="533.2" y="197.7" width="1.1" height="1.1"/><rect x="506.8" y="204.0" width="1.1" height="1.1"/><rect x="516.9" y="200.6" width="1.1" height="1.1"/><rect x="562.7" y="181.8" width="1.1" height="1.1"/><rect x="566.7" y="190.9" width="1.1" height="1.1"/><rect x="505.4" y="203.6" width="1.1" height="1.1"/><rect x="597.9" y="185.1" width="1.1" height="1.1"/><rect x="532.5" y="198.8" width="1.1" height="1.1"/><rect x="515.7" y="197.4" width="1.1" height="1.1"/><rect x="522.0" y="199.6" width="1.1" height="1.1"/><rect x="513.4" y="201.2" width="1.1" height="1.1"/><rect x="549.0" y="191.9" width="1.1" height="1.1"/><rect x="515.0" y="202.8" width="1.1" height="1.1"/><rect x="514.4" y="203.0" width="1.1" height="1.1"/><rect x="521.4" y="199.1" width="1.1" height="1.1"/><rect x="553.5" y="194.3" width="1.1" height="1.1"/><rect x="571.3" y="186.9" width="1.1" height="1.1"/><rect x="500.8" y="204.8" width="1.1" height="1.1"/><rect x="582.0" y="185.3" width="1.1" height="1.1"/><rect x="511.2" y="204.3" width="1.1" height="1.1"/><rect x="558.5" y="193.1" width="1.1" height="1.1"/><rect x="526.8" y="199.7" width="1.1" height="1.1"/><rect x="584.1" y="188.2" width="1.1" height="1.1"/><rect x="567.2" y="189.6" width="1.1" height="1.1"/><rect x="578.2" y="187.6" width="1.1" height="1.1"/><rect x="564.3" y="190.8" width="1.1" height="1.1"/><rect x="529.3" y="199.5" width="1.1" height="1.1"/><rect x="537.9" y="197.2" width="1.1" height="1.1"/><rect x="509.5" y="202.3" width="1.1" height="1.1"/><rect x="553.3" y="191.5" width="1.1" height="1.1"/><rect x="538.0" y="198.3" width="1.1" height="1.1"/><rect x="530.4" y="199.2" width="1.1" height="1.1"/><rect x="592.6" y="182.2" width="1.1" height="1.1"/><rect x="575.3" y="182.7" width="1.1" height="1.1"/><rect x="551.6" y="194.0" width="1.1" height="1.1"/><rect x="508.6" y="201.6" width="1.1" height="1.1"/><rect x="522.8" y="197.0" width="1.1" height="1.1"/><rect x="529.6" y="196.9" width="1.1" height="1.1"/><rect x="538.4" y="197.1" width="1.1" height="1.1"/><rect x="569.1" y="190.6" width="1.1" height="1.1"/><rect x="578.4" y="187.1" width="1.1" height="1.1"/><rect x="529.1" y="194.3" width="1.1" height="1.1"/><rect x="511.4" y="204.2" width="1.1" height="1.1"/><rect x="534.7" y="194.3" width="1.1" height="1.1"/><rect x="531.8" y="196.6" width="1.1" height="1.1"/><rect x="543.9" y="191.6" width="1.1" height="1.1"/><rect x="580.1" y="187.4" width="1.1" height="1.1"/><rect x="549.3" y="193.0" width="1.1" height="1.1"/><rect x="573.2" y="187.4" width="1.1" height="1.1"/><rect x="567.9" y="188.7" width="1.1" height="1.1"/><rect x="538.0" y="195.0" width="1.1" height="1.1"/><rect x="553.6" y="189.6" width="1.1" height="1.1"/><rect x="533.8" y="198.7" width="1.1" height="1.1"/><rect x="578.9" y="180.4" width="1.1" height="1.1"/><rect x="527.9" y="199.3" width="1.1" height="1.1"/><rect x="595.8" y="189.0" width="1.1" height="1.1"/><rect x="500.5" y="205.5" width="1.1" height="1.1"/><rect x="553.5" y="190.3" width="1.1" height="1.1"/><rect x="552.0" y="190.9" width="1.1" height="1.1"/><rect x="505.7" y="203.8" width="1.1" height="1.1"/><rect x="591.2" y="187.2" width="1.1" height="1.1"/><rect x="565.7" y="190.4" width="1.1" height="1.1"/><rect x="562.5" y="190.4" width="1.1" height="1.1"/><rect x="592.3" y="182.4" width="1.1" height="1.1"/><rect x="501.8" y="204.5" width="1.1" height="1.1"/><rect x="576.7" y="189.8" width="1.1" height="1.1"/><rect x="512.2" y="199.6" width="1.1" height="1.1"/><rect x="512.5" y="203.4" width="1.1" height="1.1"/><rect x="550.8" y="190.3" width="1.1" height="1.1"/><rect x="537.4" y="195.5" width="1.1" height="1.1"/><rect x="545.8" y="195.1" width="1.1" height="1.1"/><rect x="577.1" y="178.8" width="1.1" height="1.1"/><rect x="566.5" y="189.4" width="1.1" height="1.1"/><rect x="546.6" y="190.9" width="1.1" height="1.1"/><rect x="578.7" y="183.6" width="1.1" height="1.1"/><rect x="567.0" y="185.0" width="1.1" height="1.1"/><rect x="542.9" y="191.5" width="1.1" height="1.1"/><rect x="551.0" y="192.7" width="1.1" height="1.1"/><rect x="595.4" y="180.0" width="1.1" height="1.1"/><rect x="570.0" y="190.5" width="1.1" height="1.1"/><rect x="546.9" y="195.2" width="1.1" height="1.1"/><rect x="531.2" y="198.8" width="1.1" height="1.1"/><rect x="570.0" y="189.0" width="1.1" height="1.1"/><rect x="598.8" y="187.8" width="1.1" height="1.1"/><rect x="563.3" y="190.4" width="1.1" height="1.1"/><rect x="504.3" y="205.6" width="1.1" height="1.1"/><rect x="555.2" y="193.0" width="1.1" height="1.1"/><rect x="542.6" y="195.1" width="1.1" height="1.1"/><rect x="504.5" y="201.6" width="1.1" height="1.1"/><rect x="554.0" y="190.5" width="1.1" height="1.1"/><rect x="542.2" y="195.9" width="1.1" height="1.1"/><rect x="532.2" y="195.9" width="1.1" height="1.1"/><rect x="596.9" y="183.5" width="1.1" height="1.1"/><rect x="581.5" y="187.3" width="1.1" height="1.1"/><rect x="504.2" y="204.2" width="1.1" height="1.1"/><rect x="509.4" y="203.1" width="1.1" height="1.1"/><rect x="540.0" y="191.6" width="1.1" height="1.1"/><rect x="595.2" y="189.5" width="1.1" height="1.1"/><rect x="519.3" y="202.9" width="1.1" height="1.1"/><rect x="524.6" y="201.2" width="1.1" height="1.1"/><rect x="502.3" y="204.1" width="1.1" height="1.1"/><rect x="565.8" y="191.2" width="1.1" height="1.1"/><rect x="554.2" y="191.8" width="1.1" height="1.1"/><rect x="572.1" y="188.5" width="1.1" height="1.1"/><rect x="567.4" y="190.4" width="1.1" height="1.1"/><rect x="544.2" y="193.1" width="1.1" height="1.1"/><rect x="525.9" y="198.1" width="1.1" height="1.1"/><rect x="559.9" y="192.0" width="1.1" height="1.1"/><rect x="515.6" y="199.8" width="1.1" height="1.1"/><rect x="584.4" y="181.6" width="1.1" height="1.1"/><rect x="580.5" y="186.7" width="1.1" height="1.1"/><rect x="524.4" y="201.8" width="1.1" height="1.1"/><rect x="572.4" y="188.5" width="1.1" height="1.1"/><rect x="497.1" y="207.2" width="1.1" height="1.1"/><rect x="532.8" y="197.3" width="1.1" height="1.1"/><rect x="508.0" y="202.2" width="1.1" height="1.1"/><rect x="583.4" y="183.8" width="1.1" height="1.1"/><rect x="530.4" y="194.4" width="1.1" height="1.1"/><rect x="527.9" y="197.3" width="1.1" height="1.1"/><rect x="557.2" y="184.6" width="1.1" height="1.1"/><rect x="581.5" y="184.1" width="1.1" height="1.1"/><rect x="572.0" y="188.5" width="1.1" height="1.1"/><rect x="597.8" y="189.5" width="1.1" height="1.1"/><rect x="534.9" y="198.9" width="1.1" height="1.1"/><rect x="599.3" y="180.2" width="1.1" height="1.1"/><rect x="522.6" y="200.6" width="1.1" height="1.1"/><rect x="499.1" y="205.1" width="1.1" height="1.1"/><rect x="554.2" y="193.5" width="1.1" height="1.1"/><rect x="533.6" y="192.8" width="1.1" height="1.1"/><rect x="594.0" y="184.4" width="1.1" height="1.1"/><rect x="586.8" y="188.7" width="1.1" height="1.1"/><rect x="498.3" y="202.4" width="1.1" height="1.1"/><rect x="539.3" y="195.9" width="1.1" height="1.1"/><rect x="534.3" y="198.8" width="1.1" height="1.1"/><rect x="556.4" y="193.5" width="1.1" height="1.1"/><rect x="563.7" y="185.8" width="1.1" height="1.1"/></g>
<g fill="#ffffff" opacity="0.55"><rect x="506.9" y="205.6" width="0.9" height="0.9"/><rect x="565.8" y="190.6" width="0.9" height="0.9"/><rect x="531.7" y="199.6" width="0.9" height="0.9"/><rect x="595.3" y="190.3" width="0.9" height="0.9"/><rect x="575.9" y="202.7" width="0.9" height="0.9"/><rect x="592.6" y="190.6" width="0.9" height="0.9"/><rect x="588.3" y="193.3" width="0.9" height="0.9"/><rect x="548.4" y="194.7" width="0.9" height="0.9"/><rect x="593.7" y="188.3" width="0.9" height="0.9"/><rect x="580.2" y="199.9" width="0.9" height="0.9"/><rect x="537.6" y="212.3" width="0.9" height="0.9"/><rect x="517.1" y="206.9" width="0.9" height="0.9"/><rect x="581.7" y="197.5" width="0.9" height="0.9"/><rect x="553.9" y="193.4" width="0.9" height="0.9"/><rect x="511.9" y="210.1" width="0.9" height="0.9"/><rect x="515.7" y="205.4" width="0.9" height="0.9"/><rect x="537.9" y="203.9" width="0.9" height="0.9"/><rect x="497.8" y="209.5" width="0.9" height="0.9"/><rect x="506.6" y="203.7" width="0.9" height="0.9"/><rect x="522.6" y="204.1" width="0.9" height="0.9"/><rect x="576.7" y="199.1" width="0.9" height="0.9"/><rect x="514.7" y="215.2" width="0.9" height="0.9"/><rect x="498.1" y="204.6" width="0.9" height="0.9"/><rect x="533.3" y="209.2" width="0.9" height="0.9"/><rect x="499.4" y="210.0" width="0.9" height="0.9"/><rect x="555.2" y="194.2" width="0.9" height="0.9"/><rect x="593.7" y="187.5" width="0.9" height="0.9"/><rect x="565.6" y="192.4" width="0.9" height="0.9"/><rect x="508.1" y="204.0" width="0.9" height="0.9"/><rect x="594.2" y="196.4" width="0.9" height="0.9"/><rect x="529.3" y="202.0" width="0.9" height="0.9"/><rect x="513.5" y="210.6" width="0.9" height="0.9"/><rect x="537.0" y="198.6" width="0.9" height="0.9"/><rect x="575.6" y="194.8" width="0.9" height="0.9"/><rect x="515.6" y="211.0" width="0.9" height="0.9"/><rect x="541.9" y="202.4" width="0.9" height="0.9"/><rect x="587.5" y="198.0" width="0.9" height="0.9"/><rect x="563.2" y="198.7" width="0.9" height="0.9"/><rect x="533.8" y="205.5" width="0.9" height="0.9"/><rect x="571.9" y="196.7" width="0.9" height="0.9"/><rect x="543.9" y="207.9" width="0.9" height="0.9"/><rect x="557.3" y="193.3" width="0.9" height="0.9"/><rect x="539.0" y="199.6" width="0.9" height="0.9"/><rect x="551.4" y="201.6" width="0.9" height="0.9"/><rect x="585.4" y="197.6" width="0.9" height="0.9"/><rect x="529.7" y="198.2" width="0.9" height="0.9"/><rect x="519.4" y="210.1" width="0.9" height="0.9"/><rect x="521.8" y="210.4" width="0.9" height="0.9"/><rect x="565.2" y="198.0" width="0.9" height="0.9"/><rect x="589.6" y="186.4" width="0.9" height="0.9"/><rect x="540.3" y="205.8" width="0.9" height="0.9"/><rect x="517.5" y="215.2" width="0.9" height="0.9"/><rect x="531.4" y="200.7" width="0.9" height="0.9"/><rect x="527.6" y="198.7" width="0.9" height="0.9"/><rect x="544.2" y="194.7" width="0.9" height="0.9"/><rect x="588.7" y="199.0" width="0.9" height="0.9"/><rect x="563.2" y="193.0" width="0.9" height="0.9"/><rect x="501.1" y="203.7" width="0.9" height="0.9"/><rect x="539.9" y="206.3" width="0.9" height="0.9"/><rect x="559.5" y="192.2" width="0.9" height="0.9"/><rect x="517.4" y="206.2" width="0.9" height="0.9"/><rect x="591.6" y="193.7" width="0.9" height="0.9"/><rect x="532.6" y="205.4" width="0.9" height="0.9"/><rect x="523.3" y="207.0" width="0.9" height="0.9"/><rect x="574.0" y="194.3" width="0.9" height="0.9"/><rect x="529.0" y="198.2" width="0.9" height="0.9"/><rect x="584.0" y="188.6" width="0.9" height="0.9"/><rect x="526.9" y="198.5" width="0.9" height="0.9"/><rect x="557.3" y="192.5" width="0.9" height="0.9"/><rect x="573.9" y="191.5" width="0.9" height="0.9"/><rect x="535.8" y="205.7" width="0.9" height="0.9"/><rect x="540.5" y="196.7" width="0.9" height="0.9"/><rect x="594.6" y="204.7" width="0.9" height="0.9"/><rect x="569.7" y="197.8" width="0.9" height="0.9"/><rect x="566.2" y="190.4" width="0.9" height="0.9"/><rect x="579.0" y="188.7" width="0.9" height="0.9"/><rect x="563.5" y="194.8" width="0.9" height="0.9"/><rect x="523.7" y="204.9" width="0.9" height="0.9"/><rect x="587.8" y="188.0" width="0.9" height="0.9"/><rect x="530.9" y="197.9" width="0.9" height="0.9"/><rect x="531.7" y="220.0" width="0.9" height="0.9"/><rect x="586.0" y="196.4" width="0.9" height="0.9"/><rect x="577.4" y="196.4" width="0.9" height="0.9"/><rect x="508.5" y="202.5" width="0.9" height="0.9"/><rect x="568.7" y="194.0" width="0.9" height="0.9"/><rect x="575.1" y="202.1" width="0.9" height="0.9"/><rect x="509.4" y="206.0" width="0.9" height="0.9"/><rect x="580.1" y="187.0" width="0.9" height="0.9"/><rect x="578.8" y="193.4" width="0.9" height="0.9"/><rect x="581.5" y="187.1" width="0.9" height="0.9"/><rect x="509.3" y="202.3" width="0.9" height="0.9"/><rect x="593.9" y="187.2" width="0.9" height="0.9"/><rect x="538.2" y="198.0" width="0.9" height="0.9"/><rect x="554.5" y="207.6" width="0.9" height="0.9"/><rect x="594.3" y="190.1" width="0.9" height="0.9"/><rect x="592.0" y="206.8" width="0.9" height="0.9"/><rect x="505.6" y="202.8" width="0.9" height="0.9"/><rect x="529.4" y="204.4" width="0.9" height="0.9"/><rect x="531.0" y="200.7" width="0.9" height="0.9"/><rect x="540.2" y="195.6" width="0.9" height="0.9"/><rect x="510.1" y="212.5" width="0.9" height="0.9"/><rect x="566.3" y="189.0" width="0.9" height="0.9"/><rect x="548.5" y="194.0" width="0.9" height="0.9"/><rect x="538.1" y="204.0" width="0.9" height="0.9"/><rect x="570.5" y="193.4" width="0.9" height="0.9"/><rect x="527.9" y="216.3" width="0.9" height="0.9"/><rect x="580.7" y="187.5" width="0.9" height="0.9"/><rect x="537.5" y="207.7" width="0.9" height="0.9"/><rect x="553.1" y="195.5" width="0.9" height="0.9"/><rect x="528.1" y="200.1" width="0.9" height="0.9"/><rect x="509.6" y="215.7" width="0.9" height="0.9"/><rect x="569.2" y="192.4" width="0.9" height="0.9"/><rect x="557.9" y="194.7" width="0.9" height="0.9"/><rect x="578.5" y="200.7" width="0.9" height="0.9"/><rect x="558.2" y="192.3" width="0.9" height="0.9"/><rect x="536.2" y="207.8" width="0.9" height="0.9"/><rect x="523.9" y="209.9" width="0.9" height="0.9"/><rect x="559.5" y="204.9" width="0.9" height="0.9"/><rect x="589.0" y="189.6" width="0.9" height="0.9"/><rect x="547.5" y="199.7" width="0.9" height="0.9"/><rect x="503.3" y="206.9" width="0.9" height="0.9"/><rect x="544.8" y="204.8" width="0.9" height="0.9"/><rect x="586.7" y="197.5" width="0.9" height="0.9"/><rect x="554.9" y="197.5" width="0.9" height="0.9"/><rect x="574.5" y="187.6" width="0.9" height="0.9"/><rect x="593.6" y="186.8" width="0.9" height="0.9"/><rect x="575.2" y="190.4" width="0.9" height="0.9"/><rect x="519.3" y="203.2" width="0.9" height="0.9"/><rect x="562.0" y="191.0" width="0.9" height="0.9"/><rect x="546.0" y="195.2" width="0.9" height="0.9"/><rect x="498.1" y="204.7" width="0.9" height="0.9"/><rect x="517.7" y="209.2" width="0.9" height="0.9"/><rect x="497.8" y="204.7" width="0.9" height="0.9"/><rect x="529.3" y="204.7" width="0.9" height="0.9"/><rect x="538.2" y="200.9" width="0.9" height="0.9"/><rect x="499.4" y="210.1" width="0.9" height="0.9"/><rect x="579.6" y="187.5" width="0.9" height="0.9"/><rect x="497.8" y="214.8" width="0.9" height="0.9"/><rect x="520.4" y="207.9" width="0.9" height="0.9"/><rect x="517.7" y="206.2" width="0.9" height="0.9"/><rect x="577.9" y="190.5" width="0.9" height="0.9"/><rect x="546.7" y="196.6" width="0.9" height="0.9"/><rect x="552.6" y="197.9" width="0.9" height="0.9"/><rect x="558.1" y="196.0" width="0.9" height="0.9"/><rect x="563.6" y="198.1" width="0.9" height="0.9"/><rect x="534.6" y="205.8" width="0.9" height="0.9"/><rect x="504.3" y="220.1" width="0.9" height="0.9"/><rect x="582.3" y="188.1" width="0.9" height="0.9"/><rect x="586.2" y="199.8" width="0.9" height="0.9"/><rect x="514.4" y="208.2" width="0.9" height="0.9"/><rect x="531.5" y="202.9" width="0.9" height="0.9"/><rect x="577.8" y="203.9" width="0.9" height="0.9"/><rect x="579.1" y="202.3" width="0.9" height="0.9"/><rect x="523.0" y="213.7" width="0.9" height="0.9"/><rect x="553.8" y="194.8" width="0.9" height="0.9"/><rect x="535.0" y="202.4" width="0.9" height="0.9"/><rect x="507.4" y="204.1" width="0.9" height="0.9"/><rect x="510.9" y="207.3" width="0.9" height="0.9"/><rect x="524.8" y="207.1" width="0.9" height="0.9"/><rect x="549.0" y="202.9" width="0.9" height="0.9"/><rect x="581.2" y="186.6" width="0.9" height="0.9"/><rect x="549.9" y="199.0" width="0.9" height="0.9"/><rect x="514.2" y="201.4" width="0.9" height="0.9"/><rect x="505.1" y="208.0" width="0.9" height="0.9"/><rect x="531.9" y="207.3" width="0.9" height="0.9"/><rect x="506.1" y="211.3" width="0.9" height="0.9"/><rect x="519.0" y="209.4" width="0.9" height="0.9"/><rect x="500.2" y="209.9" width="0.9" height="0.9"/><rect x="506.8" y="213.8" width="0.9" height="0.9"/><rect x="505.4" y="207.8" width="0.9" height="0.9"/><rect x="573.3" y="188.3" width="0.9" height="0.9"/><rect x="549.5" y="204.9" width="0.9" height="0.9"/><rect x="530.9" y="206.1" width="0.9" height="0.9"/><rect x="539.0" y="198.7" width="0.9" height="0.9"/><rect x="550.5" y="206.9" width="0.9" height="0.9"/><rect x="573.0" y="210.2" width="0.9" height="0.9"/><rect x="550.3" y="195.3" width="0.9" height="0.9"/><rect x="591.6" y="199.0" width="0.9" height="0.9"/><rect x="592.7" y="186.9" width="0.9" height="0.9"/><rect x="553.3" y="198.2" width="0.9" height="0.9"/><rect x="540.6" y="197.1" width="0.9" height="0.9"/><rect x="519.2" y="215.7" width="0.9" height="0.9"/><rect x="567.1" y="198.1" width="0.9" height="0.9"/><rect x="566.8" y="189.3" width="0.9" height="0.9"/><rect x="568.6" y="221.4" width="0.9" height="0.9"/><rect x="575.9" y="189.4" width="0.9" height="0.9"/><rect x="523.4" y="204.4" width="0.9" height="0.9"/><rect x="589.7" y="195.5" width="0.9" height="0.9"/><rect x="541.4" y="196.4" width="0.9" height="0.9"/><rect x="543.6" y="196.1" width="0.9" height="0.9"/><rect x="549.7" y="194.4" width="0.9" height="0.9"/><rect x="545.0" y="198.1" width="0.9" height="0.9"/><rect x="504.5" y="207.6" width="0.9" height="0.9"/><rect x="531.7" y="206.0" width="0.9" height="0.9"/><rect x="546.6" y="202.4" width="0.9" height="0.9"/><rect x="510.6" y="203.5" width="0.9" height="0.9"/><rect x="499.4" y="226.2" width="0.9" height="0.9"/><rect x="525.1" y="207.6" width="0.9" height="0.9"/><rect x="532.0" y="203.6" width="0.9" height="0.9"/><rect x="545.9" y="207.3" width="0.9" height="0.9"/><rect x="575.6" y="192.0" width="0.9" height="0.9"/><rect x="517.8" y="200.6" width="0.9" height="0.9"/><rect x="533.7" y="204.1" width="0.9" height="0.9"/><rect x="592.2" y="191.7" width="0.9" height="0.9"/><rect x="540.6" y="215.9" width="0.9" height="0.9"/><rect x="560.5" y="200.8" width="0.9" height="0.9"/><rect x="555.8" y="195.1" width="0.9" height="0.9"/><rect x="501.1" y="210.8" width="0.9" height="0.9"/><rect x="591.4" y="198.0" width="0.9" height="0.9"/><rect x="504.1" y="205.6" width="0.9" height="0.9"/><rect x="570.6" y="197.0" width="0.9" height="0.9"/><rect x="525.3" y="208.1" width="0.9" height="0.9"/><rect x="587.5" y="191.1" width="0.9" height="0.9"/><rect x="585.2" y="191.4" width="0.9" height="0.9"/><rect x="519.4" y="201.4" width="0.9" height="0.9"/><rect x="593.7" y="196.9" width="0.9" height="0.9"/><rect x="508.9" y="206.1" width="0.9" height="0.9"/><rect x="504.9" y="218.5" width="0.9" height="0.9"/><rect x="538.2" y="198.8" width="0.9" height="0.9"/><rect x="575.3" y="201.2" width="0.9" height="0.9"/><rect x="509.0" y="208.7" width="0.9" height="0.9"/><rect x="577.3" y="192.4" width="0.9" height="0.9"/><rect x="543.8" y="202.4" width="0.9" height="0.9"/><rect x="522.8" y="205.9" width="0.9" height="0.9"/><rect x="512.3" y="204.4" width="0.9" height="0.9"/><rect x="513.6" y="201.3" width="0.9" height="0.9"/><rect x="583.3" y="202.3" width="0.9" height="0.9"/><rect x="512.3" y="209.5" width="0.9" height="0.9"/><rect x="544.6" y="198.4" width="0.9" height="0.9"/><rect x="523.4" y="200.1" width="0.9" height="0.9"/><rect x="587.9" y="188.0" width="0.9" height="0.9"/><rect x="557.3" y="201.5" width="0.9" height="0.9"/><rect x="581.9" y="198.0" width="0.9" height="0.9"/><rect x="502.5" y="206.9" width="0.9" height="0.9"/><rect x="583.0" y="189.7" width="0.9" height="0.9"/><rect x="511.0" y="207.5" width="0.9" height="0.9"/><rect x="547.7" y="202.0" width="0.9" height="0.9"/><rect x="543.6" y="199.4" width="0.9" height="0.9"/><rect x="511.4" y="203.9" width="0.9" height="0.9"/><rect x="527.8" y="209.2" width="0.9" height="0.9"/><rect x="579.2" y="205.6" width="0.9" height="0.9"/><rect x="594.1" y="194.4" width="0.9" height="0.9"/><rect x="504.3" y="210.6" width="0.9" height="0.9"/><rect x="522.7" y="205.8" width="0.9" height="0.9"/><rect x="570.4" y="192.0" width="0.9" height="0.9"/><rect x="547.2" y="196.3" width="0.9" height="0.9"/><rect x="592.4" y="194.0" width="0.9" height="0.9"/><rect x="507.8" y="208.7" width="0.9" height="0.9"/><rect x="542.3" y="210.5" width="0.9" height="0.9"/><rect x="515.8" y="202.5" width="0.9" height="0.9"/><rect x="524.9" y="200.3" width="0.9" height="0.9"/><rect x="557.4" y="191.0" width="0.9" height="0.9"/><rect x="506.9" y="202.6" width="0.9" height="0.9"/><rect x="588.2" y="195.7" width="0.9" height="0.9"/><rect x="519.4" y="204.7" width="0.9" height="0.9"/><rect x="502.2" y="208.0" width="0.9" height="0.9"/><rect x="506.0" y="210.7" width="0.9" height="0.9"/><rect x="592.8" y="190.6" width="0.9" height="0.9"/><rect x="532.3" y="197.7" width="0.9" height="0.9"/><rect x="548.1" y="195.6" width="0.9" height="0.9"/><rect x="550.4" y="202.3" width="0.9" height="0.9"/><rect x="541.3" y="201.9" width="0.9" height="0.9"/><rect x="529.6" y="204.5" width="0.9" height="0.9"/><rect x="509.3" y="214.2" width="0.9" height="0.9"/><rect x="508.0" y="209.0" width="0.9" height="0.9"/><rect x="559.9" y="192.6" width="0.9" height="0.9"/><rect x="592.5" y="204.1" width="0.9" height="0.9"/><rect x="509.7" y="205.5" width="0.9" height="0.9"/><rect x="575.2" y="188.1" width="0.9" height="0.9"/><rect x="595.1" y="197.5" width="0.9" height="0.9"/><rect x="556.3" y="195.8" width="0.9" height="0.9"/><rect x="510.3" y="206.2" width="0.9" height="0.9"/><rect x="557.4" y="203.5" width="0.9" height="0.9"/><rect x="498.6" y="216.7" width="0.9" height="0.9"/><rect x="498.5" y="211.1" width="0.9" height="0.9"/><rect x="523.4" y="200.5" width="0.9" height="0.9"/><rect x="582.5" y="198.5" width="0.9" height="0.9"/><rect x="585.4" y="196.4" width="0.9" height="0.9"/><rect x="552.7" y="192.8" width="0.9" height="0.9"/><rect x="557.0" y="191.6" width="0.9" height="0.9"/><rect x="557.7" y="192.2" width="0.9" height="0.9"/><rect x="508.7" y="213.0" width="0.9" height="0.9"/><rect x="519.4" y="202.2" width="0.9" height="0.9"/><rect x="508.0" y="205.3" width="0.9" height="0.9"/><rect x="522.1" y="202.8" width="0.9" height="0.9"/><rect x="532.5" y="208.0" width="0.9" height="0.9"/><rect x="592.0" y="192.3" width="0.9" height="0.9"/><rect x="553.0" y="195.2" width="0.9" height="0.9"/><rect x="581.4" y="193.0" width="0.9" height="0.9"/><rect x="554.1" y="198.7" width="0.9" height="0.9"/><rect x="594.3" y="190.6" width="0.9" height="0.9"/><rect x="554.6" y="195.9" width="0.9" height="0.9"/><rect x="529.0" y="212.0" width="0.9" height="0.9"/><rect x="499.5" y="206.3" width="0.9" height="0.9"/><rect x="547.3" y="198.3" width="0.9" height="0.9"/><rect x="578.0" y="198.1" width="0.9" height="0.9"/><rect x="543.3" y="199.6" width="0.9" height="0.9"/><rect x="522.6" y="204.8" width="0.9" height="0.9"/><rect x="547.5" y="199.7" width="0.9" height="0.9"/><rect x="572.5" y="189.0" width="0.9" height="0.9"/><rect x="546.5" y="197.9" width="0.9" height="0.9"/><rect x="579.6" y="192.1" width="0.9" height="0.9"/><rect x="586.0" y="192.4" width="0.9" height="0.9"/><rect x="504.5" y="205.6" width="0.9" height="0.9"/><rect x="559.4" y="207.9" width="0.9" height="0.9"/><rect x="564.1" y="192.1" width="0.9" height="0.9"/><rect x="530.6" y="210.4" width="0.9" height="0.9"/><rect x="513.2" y="206.2" width="0.9" height="0.9"/><rect x="533.3" y="200.1" width="0.9" height="0.9"/><rect x="554.9" y="204.7" width="0.9" height="0.9"/><rect x="507.7" y="203.8" width="0.9" height="0.9"/><rect x="500.6" y="210.5" width="0.9" height="0.9"/><rect x="560.3" y="208.6" width="0.9" height="0.9"/><rect x="551.9" y="201.3" width="0.9" height="0.9"/><rect x="587.6" y="196.9" width="0.9" height="0.9"/><rect x="525.1" y="201.0" width="0.9" height="0.9"/><rect x="543.0" y="204.2" width="0.9" height="0.9"/><rect x="497.8" y="208.3" width="0.9" height="0.9"/><rect x="532.2" y="201.3" width="0.9" height="0.9"/><rect x="547.5" y="205.4" width="0.9" height="0.9"/><rect x="544.2" y="208.0" width="0.9" height="0.9"/><rect x="506.1" y="209.5" width="0.9" height="0.9"/><rect x="500.6" y="207.5" width="0.9" height="0.9"/><rect x="561.5" y="201.5" width="0.9" height="0.9"/><rect x="546.6" y="203.3" width="0.9" height="0.9"/><rect x="579.4" y="188.9" width="0.9" height="0.9"/><rect x="556.5" y="195.5" width="0.9" height="0.9"/><rect x="586.2" y="187.4" width="0.9" height="0.9"/><rect x="551.0" y="199.7" width="0.9" height="0.9"/><rect x="588.2" y="198.4" width="0.9" height="0.9"/><rect x="582.3" y="196.3" width="0.9" height="0.9"/><rect x="506.1" y="215.6" width="0.9" height="0.9"/><rect x="543.0" y="197.7" width="0.9" height="0.9"/><rect x="511.6" y="209.3" width="0.9" height="0.9"/><rect x="582.4" y="186.6" width="0.9" height="0.9"/><rect x="503.8" y="204.2" width="0.9" height="0.9"/><rect x="552.2" y="204.1" width="0.9" height="0.9"/><rect x="583.4" y="189.8" width="0.9" height="0.9"/><rect x="507.9" y="207.4" width="0.9" height="0.9"/><rect x="530.1" y="200.4" width="0.9" height="0.9"/><rect x="512.2" y="204.2" width="0.9" height="0.9"/><rect x="561.9" y="190.5" width="0.9" height="0.9"/><rect x="560.9" y="202.8" width="0.9" height="0.9"/><rect x="505.0" y="211.6" width="0.9" height="0.9"/><rect x="582.7" y="206.6" width="0.9" height="0.9"/><rect x="545.8" y="199.5" width="0.9" height="0.9"/><rect x="505.5" y="204.4" width="0.9" height="0.9"/><rect x="594.0" y="192.1" width="0.9" height="0.9"/><rect x="550.4" y="201.2" width="0.9" height="0.9"/><rect x="529.5" y="203.9" width="0.9" height="0.9"/><rect x="562.5" y="192.2" width="0.9" height="0.9"/><rect x="524.6" y="208.7" width="0.9" height="0.9"/><rect x="538.7" y="197.2" width="0.9" height="0.9"/><rect x="513.0" y="207.7" width="0.9" height="0.9"/><rect x="545.0" y="195.9" width="0.9" height="0.9"/><rect x="524.2" y="201.9" width="0.9" height="0.9"/><rect x="592.8" y="188.2" width="0.9" height="0.9"/><rect x="527.5" y="213.7" width="0.9" height="0.9"/><rect x="506.0" y="220.8" width="0.9" height="0.9"/><rect x="573.7" y="189.1" width="0.9" height="0.9"/><rect x="502.3" y="207.1" width="0.9" height="0.9"/><rect x="544.8" y="206.1" width="0.9" height="0.9"/><rect x="562.7" y="195.3" width="0.9" height="0.9"/><rect x="565.7" y="189.7" width="0.9" height="0.9"/><rect x="510.2" y="208.4" width="0.9" height="0.9"/><rect x="553.2" y="208.3" width="0.9" height="0.9"/><rect x="547.6" y="196.0" width="0.9" height="0.9"/><rect x="535.2" y="206.7" width="0.9" height="0.9"/><rect x="551.7" y="200.6" width="0.9" height="0.9"/><rect x="501.4" y="204.8" width="0.9" height="0.9"/><rect x="595.1" y="198.3" width="0.9" height="0.9"/><rect x="513.1" y="208.5" width="0.9" height="0.9"/><rect x="581.4" y="189.8" width="0.9" height="0.9"/><rect x="561.4" y="205.9" width="0.9" height="0.9"/><rect x="556.8" y="191.4" width="0.9" height="0.9"/><rect x="579.3" y="193.8" width="0.9" height="0.9"/><rect x="550.7" y="193.3" width="0.9" height="0.9"/><rect x="522.5" y="216.7" width="0.9" height="0.9"/><rect x="537.8" y="198.3" width="0.9" height="0.9"/><rect x="583.4" y="189.0" width="0.9" height="0.9"/><rect x="564.7" y="200.4" width="0.9" height="0.9"/><rect x="583.8" y="186.9" width="0.9" height="0.9"/><rect x="504.4" y="211.6" width="0.9" height="0.9"/><rect x="549.9" y="203.5" width="0.9" height="0.9"/><rect x="546.3" y="194.1" width="0.9" height="0.9"/><rect x="563.2" y="195.9" width="0.9" height="0.9"/><rect x="531.0" y="215.5" width="0.9" height="0.9"/><rect x="592.6" y="193.9" width="0.9" height="0.9"/><rect x="524.7" y="203.2" width="0.9" height="0.9"/><rect x="532.8" y="197.5" width="0.9" height="0.9"/><rect x="504.9" y="225.5" width="0.9" height="0.9"/><rect x="572.3" y="187.9" width="0.9" height="0.9"/><rect x="533.2" y="200.4" width="0.9" height="0.9"/><rect x="502.7" y="223.9" width="0.9" height="0.9"/><rect x="580.4" y="188.7" width="0.9" height="0.9"/><rect x="590.8" y="189.1" width="0.9" height="0.9"/><rect x="560.9" y="197.3" width="0.9" height="0.9"/><rect x="557.2" y="197.0" width="0.9" height="0.9"/><rect x="549.2" y="205.9" width="0.9" height="0.9"/><rect x="529.6" y="212.0" width="0.9" height="0.9"/><rect x="498.4" y="206.5" width="0.9" height="0.9"/><rect x="561.7" y="202.7" width="0.9" height="0.9"/><rect x="504.8" y="220.1" width="0.9" height="0.9"/><rect x="533.2" y="205.9" width="0.9" height="0.9"/><rect x="543.9" y="200.2" width="0.9" height="0.9"/><rect x="559.8" y="191.3" width="0.9" height="0.9"/><rect x="503.6" y="216.9" width="0.9" height="0.9"/><rect x="513.0" y="206.9" width="0.9" height="0.9"/><rect x="572.0" y="204.2" width="0.9" height="0.9"/><rect x="575.0" y="190.6" width="0.9" height="0.9"/><rect x="590.4" y="188.7" width="0.9" height="0.9"/><rect x="578.3" y="198.0" width="0.9" height="0.9"/><rect x="576.6" y="196.3" width="0.9" height="0.9"/><rect x="515.0" y="210.7" width="0.9" height="0.9"/><rect x="530.7" y="205.7" width="0.9" height="0.9"/><rect x="574.1" y="203.3" width="0.9" height="0.9"/><rect x="526.0" y="201.8" width="0.9" height="0.9"/><rect x="503.6" y="203.3" width="0.9" height="0.9"/><rect x="529.7" y="217.3" width="0.9" height="0.9"/><rect x="532.7" y="207.4" width="0.9" height="0.9"/><rect x="535.6" y="203.3" width="0.9" height="0.9"/><rect x="559.3" y="199.2" width="0.9" height="0.9"/><rect x="540.7" y="217.1" width="0.9" height="0.9"/><rect x="524.7" y="204.6" width="0.9" height="0.9"/><rect x="549.0" y="197.9" width="0.9" height="0.9"/><rect x="511.9" y="202.2" width="0.9" height="0.9"/><rect x="547.2" y="196.4" width="0.9" height="0.9"/><rect x="503.3" y="212.4" width="0.9" height="0.9"/><rect x="589.2" y="198.4" width="0.9" height="0.9"/><rect x="502.0" y="217.7" width="0.9" height="0.9"/><rect x="561.2" y="194.2" width="0.9" height="0.9"/><rect x="538.9" y="201.3" width="0.9" height="0.9"/><rect x="571.6" y="196.4" width="0.9" height="0.9"/><rect x="537.0" y="199.9" width="0.9" height="0.9"/><rect x="548.6" y="197.4" width="0.9" height="0.9"/><rect x="516.2" y="222.6" width="0.9" height="0.9"/><rect x="510.5" y="209.8" width="0.9" height="0.9"/><rect x="568.2" y="190.9" width="0.9" height="0.9"/><rect x="501.4" y="207.4" width="0.9" height="0.9"/><rect x="588.4" y="193.9" width="0.9" height="0.9"/><rect x="527.0" y="205.7" width="0.9" height="0.9"/><rect x="549.8" y="196.0" width="0.9" height="0.9"/><rect x="525.1" y="203.4" width="0.9" height="0.9"/><rect x="566.9" y="196.8" width="0.9" height="0.9"/><rect x="526.1" y="209.7" width="0.9" height="0.9"/><rect x="568.0" y="191.5" width="0.9" height="0.9"/><rect x="561.5" y="193.4" width="0.9" height="0.9"/><rect x="508.5" y="203.9" width="0.9" height="0.9"/><rect x="511.9" y="203.9" width="0.9" height="0.9"/><rect x="562.4" y="195.0" width="0.9" height="0.9"/><rect x="531.0" y="203.1" width="0.9" height="0.9"/><rect x="521.6" y="203.2" width="0.9" height="0.9"/><rect x="515.5" y="209.3" width="0.9" height="0.9"/><rect x="554.2" y="202.4" width="0.9" height="0.9"/><rect x="522.2" y="204.5" width="0.9" height="0.9"/><rect x="539.6" y="208.1" width="0.9" height="0.9"/><rect x="557.1" y="196.3" width="0.9" height="0.9"/><rect x="506.5" y="210.7" width="0.9" height="0.9"/><rect x="533.3" y="205.2" width="0.9" height="0.9"/><rect x="560.2" y="193.1" width="0.9" height="0.9"/><rect x="506.2" y="205.4" width="0.9" height="0.9"/><rect x="534.1" y="214.6" width="0.9" height="0.9"/><rect x="534.0" y="203.7" width="0.9" height="0.9"/><rect x="518.1" y="200.9" width="0.9" height="0.9"/><rect x="510.2" y="206.1" width="0.9" height="0.9"/><rect x="591.3" y="196.3" width="0.9" height="0.9"/><rect x="591.9" y="201.7" width="0.9" height="0.9"/><rect x="579.7" y="202.1" width="0.9" height="0.9"/><rect x="500.0" y="220.8" width="0.9" height="0.9"/><rect x="583.2" y="204.1" width="0.9" height="0.9"/><rect x="557.9" y="197.8" width="0.9" height="0.9"/><rect x="539.2" y="202.2" width="0.9" height="0.9"/><rect x="511.8" y="208.5" width="0.9" height="0.9"/><rect x="509.5" y="204.2" width="0.9" height="0.9"/><rect x="582.8" y="202.7" width="0.9" height="0.9"/><rect x="526.4" y="206.9" width="0.9" height="0.9"/><rect x="554.1" y="194.5" width="0.9" height="0.9"/><rect x="518.0" y="217.1" width="0.9" height="0.9"/><rect x="561.0" y="197.6" width="0.9" height="0.9"/><rect x="505.4" y="205.6" width="0.9" height="0.9"/><rect x="545.2" y="210.5" width="0.9" height="0.9"/><rect x="517.5" y="202.9" width="0.9" height="0.9"/><rect x="515.7" y="206.4" width="0.9" height="0.9"/><rect x="520.3" y="215.1" width="0.9" height="0.9"/><rect x="559.7" y="194.0" width="0.9" height="0.9"/><rect x="567.0" y="189.4" width="0.9" height="0.9"/><rect x="546.2" y="201.5" width="0.9" height="0.9"/><rect x="589.7" y="193.0" width="0.9" height="0.9"/><rect x="535.9" y="205.2" width="0.9" height="0.9"/><rect x="547.1" y="196.8" width="0.9" height="0.9"/><rect x="501.8" y="212.3" width="0.9" height="0.9"/><rect x="531.6" y="205.4" width="0.9" height="0.9"/><rect x="525.4" y="206.9" width="0.9" height="0.9"/><rect x="580.0" y="206.0" width="0.9" height="0.9"/><rect x="534.6" y="205.8" width="0.9" height="0.9"/><rect x="517.2" y="207.4" width="0.9" height="0.9"/><rect x="500.8" y="204.2" width="0.9" height="0.9"/><rect x="552.9" y="197.3" width="0.9" height="0.9"/><rect x="499.2" y="209.4" width="0.9" height="0.9"/><rect x="561.6" y="190.6" width="0.9" height="0.9"/></g>
<rect x="497" y="155.5" width="109.5" height="111" fill="none" stroke="#6a6aa8" stroke-width="1"/>

<!-- Panel D -->
<text transform="translate(35.5,369.5) scale(0.97,1.12)" font-size="15.5" font-weight="bold" fill="#111">D</text>
<rect x="32" y="378" width="149" height="60" fill="#cacaca"/>
<rect x="32" y="378" width="149" height="60" filter="url(#mottle)" opacity="0.2"/>
<rect x="32" y="378" width="149" height="60" filter="url(#speck)" opacity="0.35"/>
<rect x="55" y="405" width="43" height="25" fill="#9a98b0" opacity="0.12"/>
<ellipse cx="85" cy="418" rx="6" ry="5" fill="#555" opacity="0.35" filter="url(#blur1)"/>
<g fill="#555" filter="url(#blur1)" opacity="0.3">
<ellipse cx="94" cy="387.5" rx="4" ry="3.5"/><ellipse cx="173" cy="401" rx="3" ry="5"/><ellipse cx="137" cy="410" rx="4" ry="3"/><ellipse cx="152" cy="414" rx="3" ry="3"/><ellipse cx="166" cy="417" rx="3.5" ry="3"/><ellipse cx="120" cy="392" rx="3" ry="2"/><ellipse cx="48" cy="415" rx="3" ry="4"/><ellipse cx="120" cy="423" rx="4" ry="3"/>
</g>
<ellipse cx="72" cy="420" rx="4" ry="5" fill="#666" opacity="0.3" filter="url(#blur1)"/>
<rect x="32.5" y="378.5" width="148" height="60" fill="none" stroke="#3a3a3a" stroke-width="1"/>
<path d="M55.5,427 L55.5,404.5 L98.5,404.5 L98.5,427 M98.5,404.5 L180,380.5" fill="none" stroke="#d9dcb0" stroke-width="1.8"/>
<text x="40" y="400" font-size="18" font-weight="bold" fill="#000">TEM</text>
<rect x="182.5" y="378" width="150" height="60" fill="#dadada"/>
<rect x="182.5" y="378" width="150" height="60" filter="url(#speck)" opacity="0.6"/>
<rect x="182.5" y="378" width="150" height="60" filter="url(#mottle)" opacity="0.2"/>
<rect x="183" y="379" width="149" height="5" fill="#777" opacity="0.2" filter="url(#blur1)"/>
<circle cx="243" cy="414.5" r="13" fill="#888" opacity="0.18" filter="url(#blur1)"/>
<circle cx="243" cy="414.5" r="13" fill="none" stroke="#444" stroke-width="3.5" opacity="0.35" filter="url(#blur1)"/>
<ellipse cx="282" cy="421" rx="11" ry="9" fill="none" stroke="#444" stroke-width="4" opacity="0.35" filter="url(#blur1)"/>
<ellipse cx="282" cy="421" rx="10" ry="8" fill="#666" opacity="0.25" filter="url(#blur1)"/>
<ellipse cx="200" cy="428" rx="8" ry="5" fill="#555" opacity="0.35" filter="url(#blur1)"/>
<ellipse cx="268" cy="402" rx="5" ry="4" fill="#555" opacity="0.25" filter="url(#blur1)"/>
<rect x="326" y="378" width="6" height="60" fill="#666" opacity="0.25" filter="url(#blur1)"/>
<rect x="183" y="378.5" width="149" height="60" fill="none" stroke="#e4e4b0" stroke-width="1.5"/>

<!-- Panel E -->
<text transform="translate(348.5,369.3) scale(1,1.1)" font-size="15" font-weight="bold" fill="#111">E</text>
<rect x="344.5" y="378.5" width="149" height="60" fill="#cccccc"/>
<rect x="344.5" y="378.5" width="149" height="60" filter="url(#mottle)" opacity="0.15"/>
<rect x="344.5" y="378.5" width="149" height="60" filter="url(#speck)" opacity="0.3"/>
<g fill="#555" opacity="0.6">
<ellipse cx="400" cy="394.5" rx="3.5" ry="4"/><ellipse cx="423" cy="388" rx="1.5" ry="1"/><ellipse cx="422" cy="402" rx="2.5" ry="2"/><ellipse cx="440" cy="414" rx="1.2" ry="1.2"/><ellipse cx="480" cy="396" rx="2" ry="3"/><ellipse cx="478" cy="416" rx="2" ry="2"/><ellipse cx="460" cy="420" rx="1" ry="1"/><ellipse cx="360" cy="418" rx="1" ry="1"/><ellipse cx="390" cy="425" rx="1.5" ry="1"/><ellipse cx="470" cy="405" rx="1" ry="1.5"/>
</g>
<rect x="345" y="379" width="148" height="60" fill="none" stroke="#3a3a3a" stroke-width="1"/>
<path d="M489,384 L436,427" fill="none" stroke="#d9dcb0" stroke-width="1.6"/>
<text x="353" y="400" font-size="18" font-weight="bold" fill="#000">CD63</text>
<rect x="495" y="378.5" width="149" height="60" fill="#d4d4d4"/>
<rect x="495" y="378.5" width="149" height="60" filter="url(#speck)" opacity="0.45"/>
<rect x="495" y="378.5" width="149" height="60" filter="url(#mottle)" opacity="0.12"/>
<circle cx="520" cy="409" r="14" fill="#888" opacity="0.25" filter="url(#blur1)"/>
<circle cx="520" cy="409" r="14" fill="none" stroke="#666" stroke-width="2" opacity="0.3" filter="url(#blur1)"/>
<circle cx="609" cy="397.5" r="6" fill="#777" opacity="0.25" filter="url(#blur1)"/>
<g fill="#111"><circle cx="521.7" cy="398.5" r="1.4"/><circle cx="506" cy="404.7" r="1.3"/><circle cx="502.4" cy="410.9" r="1.3"/><circle cx="505.3" cy="413.3" r="1.3"/><circle cx="513.5" cy="420.8" r="1.4"/><circle cx="609" cy="397.2" r="1.6"/></g>
<rect x="495.5" y="379" width="148" height="60" fill="none" stroke="#e4e4b0" stroke-width="1.5"/>
<rect x="331" y="378" width="2" height="60" fill="#e4e4b0"/>
</svg>
</body></html>
